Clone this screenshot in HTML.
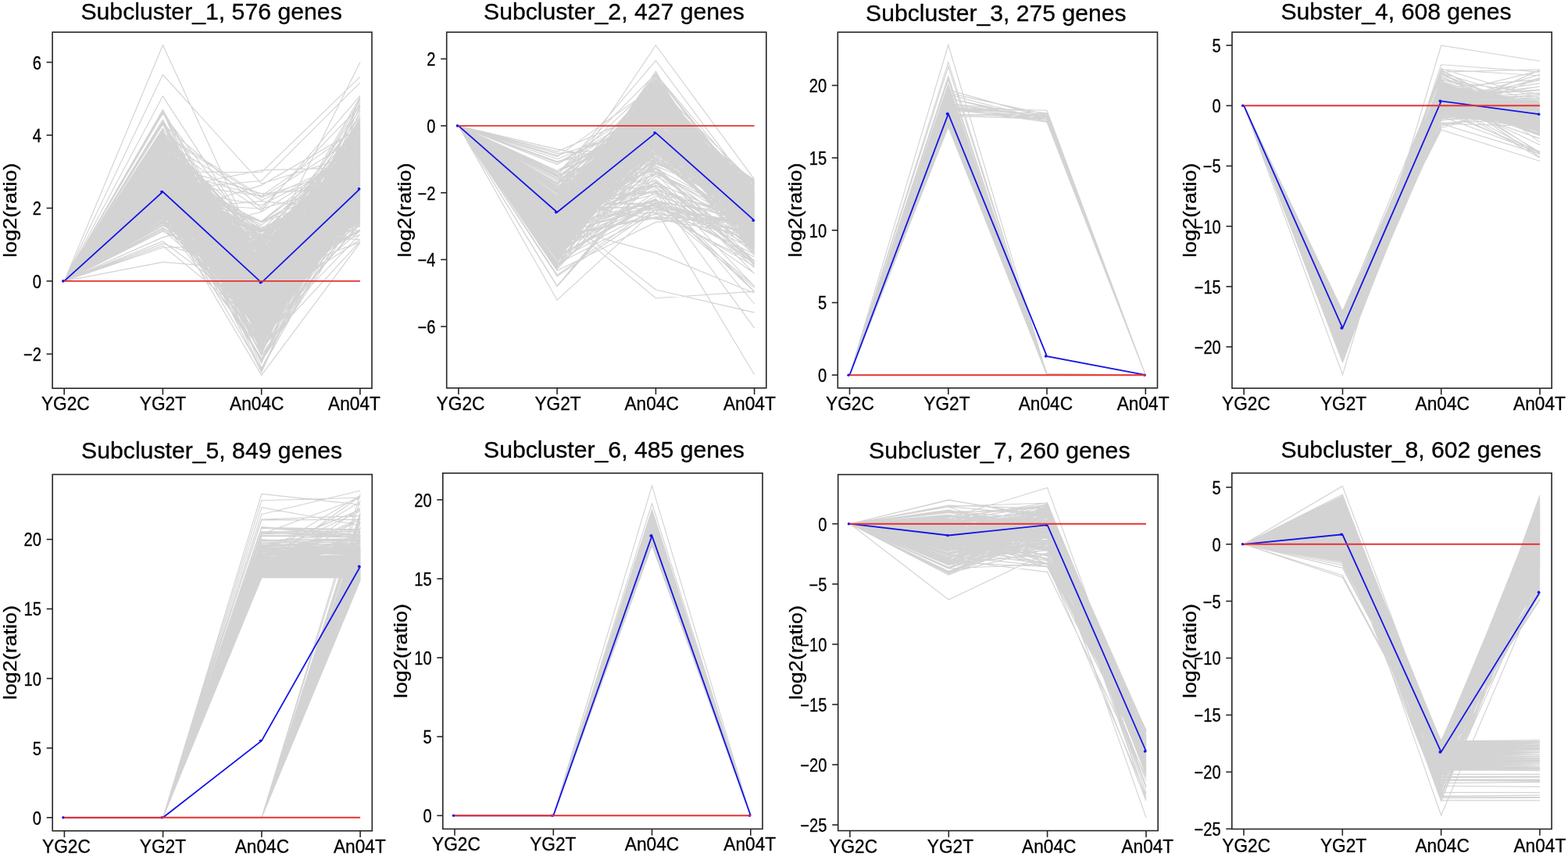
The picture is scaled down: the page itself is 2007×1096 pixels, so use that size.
<!DOCTYPE html>
<html><head><meta charset="utf-8"><title>Subclusters</title>
<style>
html,body{margin:0;padding:0;background:#fff;width:2007px;height:1096px;overflow:hidden}
svg{display:block}
text{font-family:"Liberation Sans", Arial, Helvetica, sans-serif;fill:#000;stroke:#000;stroke-width:0.3px}
.xl{font-size:22.7px}
.yt{font-size:23px}
.yl{font-size:23.4px}
.tt{font-size:29px}
</style></head><body>
<svg width="2007" height="1096" viewBox="0 0 2007 1096">
<rect width="2007" height="1096" fill="#fff"/>
<clipPath id="c0"><rect x="67.1" y="41.2" width="408.9" height="456.0"/></clipPath>
<g clip-path="url(#c0)">
<path d="M82.2 359.9 208.4 220.6 334.7 378.8 460.9 158.0M82.2 359.9 208.4 225.0 334.7 361.6 460.9 274.5M82.2 359.9 208.4 261.0 334.7 383.4 460.9 211.3M82.2 359.9 208.4 239.9 334.7 284.3 460.9 213.6M82.2 359.9 208.4 231.1 334.7 380.4 460.9 161.1M82.2 359.9 208.4 201.0 334.7 356.6 460.9 232.5M82.2 359.9 208.4 171.1 334.7 419.8 460.9 181.4M82.2 359.9 208.4 226.5 334.7 407.6 460.9 167.8M82.2 359.9 208.4 177.5 334.7 367.9 460.9 186.8M82.2 359.9 208.4 246.2 334.7 292.8 460.9 225.6M82.2 359.9 208.4 143.1 334.7 362.3 460.9 209.0M82.2 359.9 208.4 258.1 334.7 377.7 460.9 192.3M82.2 359.9 208.4 198.0 334.7 387.8 460.9 229.9M82.2 359.9 208.4 228.7 334.7 379.6 460.9 209.0M82.2 359.9 208.4 236.6 334.7 356.4 460.9 261.5M82.2 359.9 208.4 228.6 334.7 318.8 460.9 222.6M82.2 359.9 208.4 267.1 334.7 311.1 460.9 212.9M82.2 359.9 208.4 216.0 334.7 386.0 460.9 168.7M82.2 359.9 208.4 222.8 334.7 440.8 460.9 175.2M82.2 359.9 208.4 265.5 334.7 361.4 460.9 226.6M82.2 359.9 208.4 214.2 334.7 357.4 460.9 219.1M82.2 359.9 208.4 227.6 334.7 339.1 460.9 238.0M82.2 359.9 208.4 217.2 334.7 429.4 460.9 190.1M82.2 359.9 208.4 221.3 334.7 341.8 460.9 158.1M82.2 359.9 208.4 261.0 334.7 294.6 460.9 229.0M82.2 359.9 208.4 247.4 334.7 353.5 460.9 164.8M82.2 359.9 208.4 177.4 334.7 391.8 460.9 251.0M82.2 359.9 208.4 246.6 334.7 420.2 460.9 272.8M82.2 359.9 208.4 294.6 334.7 402.5 460.9 131.3M82.2 359.9 208.4 168.9 334.7 371.8 460.9 295.6M82.2 359.9 208.4 309.0 334.7 403.8 460.9 229.6M82.2 359.9 208.4 202.4 334.7 319.4 460.9 210.3M82.2 359.9 208.4 238.1 334.7 417.6 460.9 159.5M82.2 359.9 208.4 224.9 334.7 431.6 460.9 300.2M82.2 359.9 208.4 237.9 334.7 354.6 460.9 262.1M82.2 359.9 208.4 272.8 334.7 364.3 460.9 208.8M82.2 359.9 208.4 283.0 334.7 436.5 460.9 227.3M82.2 359.9 208.4 194.6 334.7 359.7 460.9 226.2M82.2 359.9 208.4 270.0 334.7 330.4 460.9 250.2M82.2 359.9 208.4 252.3 334.7 364.3 460.9 274.8M82.2 359.9 208.4 214.0 334.7 374.6 460.9 238.2M82.2 359.9 208.4 273.3 334.7 416.6 460.9 208.9M82.2 359.9 208.4 245.2 334.7 383.9 460.9 191.8M82.2 359.9 208.4 238.1 334.7 357.0 460.9 243.4M82.2 359.9 208.4 231.3 334.7 302.4 460.9 243.1M82.2 359.9 208.4 230.6 334.7 368.0 460.9 254.9M82.2 359.9 208.4 282.0 334.7 350.9 460.9 207.7M82.2 359.9 208.4 226.2 334.7 383.4 460.9 262.0M82.2 359.9 208.4 262.2 334.7 360.0 460.9 216.2M82.2 359.9 208.4 201.8 334.7 302.3 460.9 191.3M82.2 359.9 208.4 177.7 334.7 347.9 460.9 208.6M82.2 359.9 208.4 222.7 334.7 288.1 460.9 198.3M82.2 359.9 208.4 226.8 334.7 301.2 460.9 171.4M82.2 359.9 208.4 180.7 334.7 256.5 460.9 198.9M82.2 359.9 208.4 252.7 334.7 373.4 460.9 217.0M82.2 359.9 208.4 209.3 334.7 347.8 460.9 230.6M82.2 359.9 208.4 232.7 334.7 349.8 460.9 219.6M82.2 359.9 208.4 215.4 334.7 394.2 460.9 235.5M82.2 359.9 208.4 264.6 334.7 381.1 460.9 241.8M82.2 359.9 208.4 217.2 334.7 426.7 460.9 172.7M82.2 359.9 208.4 188.4 334.7 365.8 460.9 185.7M82.2 359.9 208.4 254.4 334.7 406.6 460.9 248.8M82.2 359.9 208.4 234.9 334.7 386.9 460.9 232.2M82.2 359.9 208.4 263.3 334.7 322.7 460.9 206.1M82.2 359.9 208.4 189.4 334.7 361.9 460.9 226.6M82.2 359.9 208.4 246.1 334.7 334.6 460.9 200.3M82.2 359.9 208.4 220.8 334.7 403.8 460.9 295.6M82.2 359.9 208.4 237.7 334.7 371.8 460.9 179.5M82.2 359.9 208.4 225.9 334.7 396.2 460.9 249.1M82.2 359.9 208.4 284.8 334.7 350.9 460.9 162.3M82.2 359.9 208.4 175.2 334.7 310.1 460.9 194.2M82.2 359.9 208.4 311.9 334.7 353.6 460.9 220.3M82.2 359.9 208.4 262.6 334.7 428.9 460.9 210.5M82.2 359.9 208.4 158.7 334.7 392.4 460.9 215.9M82.2 359.9 208.4 226.4 334.7 380.6 460.9 274.9M82.2 359.9 208.4 242.6 334.7 462.5 460.9 269.5M82.2 359.9 208.4 278.3 334.7 300.1 460.9 209.5M82.2 359.9 208.4 201.1 334.7 386.3 460.9 234.6M82.2 359.9 208.4 234.8 334.7 353.6 460.9 228.3M82.2 359.9 208.4 187.6 334.7 413.6 460.9 218.6M82.2 359.9 208.4 215.0 334.7 372.6 460.9 203.2M82.2 359.9 208.4 158.9 334.7 401.0 460.9 240.3M82.2 359.9 208.4 207.3 334.7 388.2 460.9 250.8M82.2 359.9 208.4 215.7 334.7 284.9 460.9 238.7M82.2 359.9 208.4 254.4 334.7 371.3 460.9 282.1M82.2 359.9 208.4 229.3 334.7 385.0 460.9 179.3M82.2 359.9 208.4 224.6 334.7 405.4 460.9 220.4M82.2 359.9 208.4 243.4 334.7 410.6 460.9 183.4M82.2 359.9 208.4 171.1 334.7 344.7 460.9 164.2M82.2 359.9 208.4 186.9 334.7 393.6 460.9 281.5M82.2 359.9 208.4 224.2 334.7 373.1 460.9 204.2M82.2 359.9 208.4 250.9 334.7 330.9 460.9 233.6M82.2 359.9 208.4 229.3 334.7 295.4 460.9 215.9M82.2 359.9 208.4 244.8 334.7 355.3 460.9 234.2M82.2 359.9 208.4 159.3 334.7 351.7 460.9 251.9M82.2 359.9 208.4 206.7 334.7 399.3 460.9 183.8M82.2 359.9 208.4 226.8 334.7 302.4 460.9 262.7M82.2 359.9 208.4 214.5 334.7 364.2 460.9 295.1M82.2 359.9 208.4 222.1 334.7 392.3 460.9 220.9M82.2 359.9 208.4 141.0 334.7 355.1 460.9 201.1M82.2 359.9 208.4 236.4 334.7 354.2 460.9 235.3M82.2 359.9 208.4 251.3 334.7 369.1 460.9 226.9M82.2 359.9 208.4 211.2 334.7 407.4 460.9 195.5M82.2 359.9 208.4 193.5 334.7 333.9 460.9 231.8M82.2 359.9 208.4 234.1 334.7 414.8 460.9 136.0M82.2 359.9 208.4 230.3 334.7 342.3 460.9 176.6M82.2 359.9 208.4 226.7 334.7 371.1 460.9 246.5M82.2 359.9 208.4 257.4 334.7 385.9 460.9 213.7M82.2 359.9 208.4 269.6 334.7 376.0 460.9 270.6M82.2 359.9 208.4 224.0 334.7 415.8 460.9 178.6M82.2 359.9 208.4 190.4 334.7 328.9 460.9 146.8M82.2 359.9 208.4 210.9 334.7 403.9 460.9 242.6M82.2 359.9 208.4 243.0 334.7 362.1 460.9 282.7M82.2 359.9 208.4 247.2 334.7 361.1 460.9 262.9M82.2 359.9 208.4 226.8 334.7 372.7 460.9 223.3M82.2 359.9 208.4 198.7 334.7 319.9 460.9 217.2M82.2 359.9 208.4 206.3 334.7 407.3 460.9 126.8M82.2 359.9 208.4 228.4 334.7 378.0 460.9 241.9M82.2 359.9 208.4 266.1 334.7 393.3 460.9 214.7M82.2 359.9 208.4 256.0 334.7 331.9 460.9 261.3M82.2 359.9 208.4 187.3 334.7 409.5 460.9 243.3M82.2 359.9 208.4 267.0 334.7 388.4 460.9 189.0M82.2 359.9 208.4 203.9 334.7 325.2 460.9 158.4M82.2 359.9 208.4 212.0 334.7 378.3 460.9 162.1M82.2 359.9 208.4 172.5 334.7 384.9 460.9 237.7M82.2 359.9 208.4 240.5 334.7 262.7 460.9 197.6M82.2 359.9 208.4 241.1 334.7 382.2 460.9 196.2M82.2 359.9 208.4 293.0 334.7 383.9 460.9 278.8M82.2 359.9 208.4 229.9 334.7 363.4 460.9 228.7M82.2 359.9 208.4 231.2 334.7 411.9 460.9 205.1M82.2 359.9 208.4 202.2 334.7 399.4 460.9 266.7M82.2 359.9 208.4 243.2 334.7 389.8 460.9 307.1M82.2 359.9 208.4 230.1 334.7 397.6 460.9 261.1M82.2 359.9 208.4 259.3 334.7 374.6 460.9 177.5M82.2 359.9 208.4 252.8 334.7 306.1 460.9 284.0M82.2 359.9 208.4 195.4 334.7 303.9 460.9 194.2M82.2 359.9 208.4 194.3 334.7 475.5 460.9 192.3M82.2 359.9 208.4 230.0 334.7 343.8 460.9 201.0M82.2 359.9 208.4 246.3 334.7 360.9 460.9 230.3M82.2 359.9 208.4 227.8 334.7 348.1 460.9 300.5M82.2 359.9 208.4 208.5 334.7 395.7 460.9 206.2M82.2 359.9 208.4 196.3 334.7 360.4 460.9 187.9M82.2 359.9 208.4 226.5 334.7 375.4 460.9 190.4M82.2 359.9 208.4 235.9 334.7 410.6 460.9 254.2M82.2 359.9 208.4 200.1 334.7 337.6 460.9 153.8M82.2 359.9 208.4 277.9 334.7 351.7 460.9 218.2M82.2 359.9 208.4 232.4 334.7 310.5 460.9 251.8M82.2 359.9 208.4 231.6 334.7 335.7 460.9 213.9M82.2 359.9 208.4 212.3 334.7 316.0 460.9 157.4M82.2 359.9 208.4 226.2 334.7 394.6 460.9 199.2M82.2 359.9 208.4 210.9 334.7 383.0 460.9 213.0M82.2 359.9 208.4 268.3 334.7 359.3 460.9 204.5M82.2 359.9 208.4 179.6 334.7 345.3 460.9 229.3M82.2 359.9 208.4 248.8 334.7 400.6 460.9 252.0M82.2 359.9 208.4 211.2 334.7 437.3 460.9 153.6M82.2 359.9 208.4 237.6 334.7 355.9 460.9 196.2M82.2 359.9 208.4 184.0 334.7 398.3 460.9 187.0M82.2 359.9 208.4 244.1 334.7 332.1 460.9 250.3M82.2 359.9 208.4 231.7 334.7 408.9 460.9 209.8M82.2 359.9 208.4 245.8 334.7 391.5 460.9 274.9M82.2 359.9 208.4 268.1 334.7 385.3 460.9 229.6M82.2 359.9 208.4 172.7 334.7 351.5 460.9 200.6M82.2 359.9 208.4 205.1 334.7 425.9 460.9 174.9M82.2 359.9 208.4 197.8 334.7 341.4 460.9 124.6M82.2 359.9 208.4 258.7 334.7 363.7 460.9 194.1M82.2 359.9 208.4 277.2 334.7 352.3 460.9 202.9M82.2 359.9 208.4 215.9 334.7 312.9 460.9 218.5M82.2 359.9 208.4 195.9 334.7 408.0 460.9 213.8M82.2 359.9 208.4 198.3 334.7 403.4 460.9 283.2M82.2 359.9 208.4 236.9 334.7 302.8 460.9 215.3M82.2 359.9 208.4 200.6 334.7 336.8 460.9 218.0M82.2 359.9 208.4 239.9 334.7 301.6 460.9 207.8M82.2 359.9 208.4 142.7 334.7 399.3 460.9 178.4M82.2 359.9 208.4 266.9 334.7 410.7 460.9 222.9M82.2 359.9 208.4 272.9 334.7 432.9 460.9 227.3M82.2 359.9 208.4 234.8 334.7 389.7 460.9 175.1M82.2 359.9 208.4 258.7 334.7 424.8 460.9 206.5M82.2 359.9 208.4 259.2 334.7 461.2 460.9 242.8M82.2 359.9 208.4 217.1 334.7 367.0 460.9 219.3M82.2 359.9 208.4 230.7 334.7 346.5 460.9 260.5M82.2 359.9 208.4 246.9 334.7 314.4 460.9 277.4M82.2 359.9 208.4 243.5 334.7 384.4 460.9 184.1M82.2 359.9 208.4 218.9 334.7 373.2 460.9 197.4M82.2 359.9 208.4 207.2 334.7 453.7 460.9 168.3M82.2 359.9 208.4 194.5 334.7 397.7 460.9 216.9M82.2 359.9 208.4 229.9 334.7 338.9 460.9 252.6M82.2 359.9 208.4 220.6 334.7 394.5 460.9 175.9M82.2 359.9 208.4 243.3 334.7 319.6 460.9 247.0M82.2 359.9 208.4 224.3 334.7 360.0 460.9 249.0M82.2 359.9 208.4 244.8 334.7 430.2 460.9 286.8M82.2 359.9 208.4 193.0 334.7 407.1 460.9 179.6M82.2 359.9 208.4 203.2 334.7 331.7 460.9 256.8M82.2 359.9 208.4 177.3 334.7 397.8 460.9 190.3M82.2 359.9 208.4 225.3 334.7 315.5 460.9 182.5M82.2 359.9 208.4 232.7 334.7 461.3 460.9 264.1M82.2 359.9 208.4 224.7 334.7 408.1 460.9 276.0M82.2 359.9 208.4 216.3 334.7 337.1 460.9 225.9M82.2 359.9 208.4 193.9 334.7 359.7 460.9 199.1M82.2 359.9 208.4 222.8 334.7 410.9 460.9 267.8M82.2 359.9 208.4 206.6 334.7 345.1 460.9 285.5M82.2 359.9 208.4 201.1 334.7 377.5 460.9 204.9M82.2 359.9 208.4 216.9 334.7 414.0 460.9 226.6M82.2 359.9 208.4 271.2 334.7 326.2 460.9 184.9M82.2 359.9 208.4 232.4 334.7 295.6 460.9 306.9M82.2 359.9 208.4 221.6 334.7 417.8 460.9 234.8M82.2 359.9 208.4 263.8 334.7 336.0 460.9 215.5M82.2 359.9 208.4 231.4 334.7 430.5 460.9 241.9M82.2 359.9 208.4 219.9 334.7 351.3 460.9 168.9M82.2 359.9 208.4 235.1 334.7 405.2 460.9 275.7M82.2 359.9 208.4 203.7 334.7 376.6 460.9 216.0M82.2 359.9 208.4 224.7 334.7 378.4 460.9 216.6M82.2 359.9 208.4 285.2 334.7 422.4 460.9 212.7M82.2 359.9 208.4 210.7 334.7 319.5 460.9 212.8M82.2 359.9 208.4 190.9 334.7 297.4 460.9 231.4M82.2 359.9 208.4 227.2 334.7 371.8 460.9 155.5M82.2 359.9 208.4 229.8 334.7 352.1 460.9 179.3M82.2 359.9 208.4 190.7 334.7 358.4 460.9 176.8M82.2 359.9 208.4 183.6 334.7 343.3 460.9 151.8M82.2 359.9 208.4 218.9 334.7 386.2 460.9 212.7M82.2 359.9 208.4 186.5 334.7 436.1 460.9 284.3M82.2 359.9 208.4 237.4 334.7 432.2 460.9 259.1M82.2 359.9 208.4 235.9 334.7 321.1 460.9 218.1M82.2 359.9 208.4 251.9 334.7 396.8 460.9 208.4M82.2 359.9 208.4 255.5 334.7 406.7 460.9 213.7M82.2 359.9 208.4 287.7 334.7 371.4 460.9 249.7M82.2 359.9 208.4 228.0 334.7 341.8 460.9 195.6M82.2 359.9 208.4 244.2 334.7 354.3 460.9 192.8M82.2 359.9 208.4 229.4 334.7 395.8 460.9 247.8M82.2 359.9 208.4 231.8 334.7 426.9 460.9 206.6M82.2 359.9 208.4 212.7 334.7 294.1 460.9 239.6M82.2 359.9 208.4 226.6 334.7 406.6 460.9 203.0M82.2 359.9 208.4 192.2 334.7 399.3 460.9 242.4M82.2 359.9 208.4 261.4 334.7 459.2 460.9 220.9M82.2 359.9 208.4 193.4 334.7 318.4 460.9 257.2M82.2 359.9 208.4 212.6 334.7 383.6 460.9 172.8M82.2 359.9 208.4 226.1 334.7 461.8 460.9 235.8M82.2 359.9 208.4 269.0 334.7 418.8 460.9 174.0M82.2 359.9 208.4 175.9 334.7 335.9 460.9 246.5M82.2 359.9 208.4 288.1 334.7 367.8 460.9 240.2M82.2 359.9 208.4 282.0 334.7 387.3 460.9 228.5M82.2 359.9 208.4 242.1 334.7 284.0 460.9 190.0M82.2 359.9 208.4 248.1 334.7 338.0 460.9 214.3M82.2 359.9 208.4 213.3 334.7 319.9 460.9 238.5M82.2 359.9 208.4 257.7 334.7 378.5 460.9 219.8M82.2 359.9 208.4 231.0 334.7 417.6 460.9 151.1M82.2 359.9 208.4 198.4 334.7 326.0 460.9 182.7M82.2 359.9 208.4 235.0 334.7 324.7 460.9 245.9M82.2 359.9 208.4 260.0 334.7 321.2 460.9 249.1M82.2 359.9 208.4 296.2 334.7 357.5 460.9 189.9M82.2 359.9 208.4 186.6 334.7 379.5 460.9 205.9M82.2 359.9 208.4 253.4 334.7 346.8 460.9 201.3M82.2 359.9 208.4 262.1 334.7 335.6 460.9 221.9M82.2 359.9 208.4 275.0 334.7 370.7 460.9 274.6M82.2 359.9 208.4 252.7 334.7 419.6 460.9 267.0M82.2 359.9 208.4 212.0 334.7 415.9 460.9 196.0M82.2 359.9 208.4 210.2 334.7 390.9 460.9 229.7M82.2 359.9 208.4 197.4 334.7 327.9 460.9 181.9M82.2 359.9 208.4 204.0 334.7 306.6 460.9 215.7M82.2 359.9 208.4 193.5 334.7 365.4 460.9 246.1M82.2 359.9 208.4 272.2 334.7 407.5 460.9 210.2M82.2 359.9 208.4 218.7 334.7 399.0 460.9 230.2M82.2 359.9 208.4 233.9 334.7 365.2 460.9 275.9M82.2 359.9 208.4 231.6 334.7 400.7 460.9 191.0M82.2 359.9 208.4 263.3 334.7 397.4 460.9 176.1M82.2 359.9 208.4 229.4 334.7 357.5 460.9 219.0M82.2 359.9 208.4 237.5 334.7 294.5 460.9 174.3M82.2 359.9 208.4 186.2 334.7 332.2 460.9 226.8M82.2 359.9 208.4 166.5 334.7 442.4 460.9 162.2M82.2 359.9 208.4 192.4 334.7 343.1 460.9 204.5M82.2 359.9 208.4 260.7 334.7 321.5 460.9 261.1M82.2 359.9 208.4 222.6 334.7 337.7 460.9 274.8M82.2 359.9 208.4 191.2 334.7 305.5 460.9 194.0M82.2 359.9 208.4 251.9 334.7 379.8 460.9 235.0M82.2 359.9 208.4 225.5 334.7 342.3 460.9 153.9M82.2 359.9 208.4 271.5 334.7 376.7 460.9 249.8M82.2 359.9 208.4 221.6 334.7 324.6 460.9 217.3M82.2 359.9 208.4 173.3 334.7 309.1 460.9 192.1M82.2 359.9 208.4 226.2 334.7 392.0 460.9 237.7M82.2 359.9 208.4 230.6 334.7 406.8 460.9 180.2M82.2 359.9 208.4 225.6 334.7 412.6 460.9 256.2M82.2 359.9 208.4 286.1 334.7 370.1 460.9 201.5M82.2 359.9 208.4 208.3 334.7 327.0 460.9 173.8M82.2 359.9 208.4 275.3 334.7 331.5 460.9 182.3M82.2 359.9 208.4 227.4 334.7 435.1 460.9 153.4M82.2 359.9 208.4 248.4 334.7 345.7 460.9 128.1M82.2 359.9 208.4 249.7 334.7 382.7 460.9 224.5M82.2 359.9 208.4 190.0 334.7 370.9 460.9 280.5M82.2 359.9 208.4 248.7 334.7 405.2 460.9 229.9M82.2 359.9 208.4 222.2 334.7 354.9 460.9 243.0M82.2 359.9 208.4 314.7 334.7 418.1 460.9 266.7M82.2 359.9 208.4 243.8 334.7 384.7 460.9 243.3M82.2 359.9 208.4 224.5 334.7 367.3 460.9 196.4M82.2 359.9 208.4 255.7 334.7 320.6 460.9 258.3M82.2 359.9 208.4 188.0 334.7 375.4 460.9 213.2M82.2 359.9 208.4 283.6 334.7 307.7 460.9 202.5M82.2 359.9 208.4 157.6 334.7 379.6 460.9 167.3M82.2 359.9 208.4 262.5 334.7 398.3 460.9 204.8M82.2 359.9 208.4 244.9 334.7 319.8 460.9 198.1M82.2 359.9 208.4 273.8 334.7 442.7 460.9 220.0M82.2 359.9 208.4 240.7 334.7 331.0 460.9 236.3M82.2 359.9 208.4 233.2 334.7 362.2 460.9 251.7M82.2 359.9 208.4 206.4 334.7 334.3 460.9 181.0M82.2 359.9 208.4 233.1 334.7 332.1 460.9 251.0M82.2 359.9 208.4 211.0 334.7 397.1 460.9 213.5M82.2 359.9 208.4 201.7 334.7 421.9 460.9 259.0M82.2 359.9 208.4 246.7 334.7 381.0 460.9 287.0M82.2 359.9 208.4 184.4 334.7 293.3 460.9 295.2M82.2 359.9 208.4 282.8 334.7 384.6 460.9 198.1M82.2 359.9 208.4 199.7 334.7 449.8 460.9 259.3M82.2 359.9 208.4 268.1 334.7 257.7 460.9 269.7M82.2 359.9 208.4 183.3 334.7 434.4 460.9 241.8M82.2 359.9 208.4 239.3 334.7 308.1 460.9 248.4M82.2 359.9 208.4 273.2 334.7 326.0 460.9 230.9M82.2 359.9 208.4 258.5 334.7 377.6 460.9 217.1M82.2 359.9 208.4 232.8 334.7 306.2 460.9 200.4M82.2 359.9 208.4 219.0 334.7 416.2 460.9 125.6M82.2 359.9 208.4 159.1 334.7 346.7 460.9 166.7M82.2 359.9 208.4 243.7 334.7 401.3 460.9 243.3M82.2 359.9 208.4 169.5 334.7 325.2 460.9 191.5M82.2 359.9 208.4 288.8 334.7 356.7 460.9 245.8M82.2 359.9 208.4 226.3 334.7 408.9 460.9 206.4M82.2 359.9 208.4 212.8 334.7 425.5 460.9 163.6M82.2 359.9 208.4 269.6 334.7 441.6 460.9 229.8M82.2 359.9 208.4 258.7 334.7 395.9 460.9 236.3M82.2 359.9 208.4 275.4 334.7 314.7 460.9 199.2M82.2 359.9 208.4 200.6 334.7 400.0 460.9 259.0M82.2 359.9 208.4 260.4 334.7 344.8 460.9 185.0M82.2 359.9 208.4 180.4 334.7 333.4 460.9 256.5M82.2 359.9 208.4 277.5 334.7 348.4 460.9 204.7M82.2 359.9 208.4 278.1 334.7 375.2 460.9 194.0M82.2 359.9 208.4 217.7 334.7 448.2 460.9 245.1M82.2 359.9 208.4 229.5 334.7 417.6 460.9 216.1M82.2 359.9 208.4 224.4 334.7 386.1 460.9 193.6M82.2 359.9 208.4 235.1 334.7 407.6 460.9 255.3M82.2 359.9 208.4 249.9 334.7 348.9 460.9 153.6M82.2 359.9 208.4 140.5 334.7 378.5 460.9 215.4M82.2 359.9 208.4 253.6 334.7 317.4 460.9 256.9M82.2 359.9 208.4 190.6 334.7 447.1 460.9 255.1M82.2 359.9 208.4 204.3 334.7 355.4 460.9 256.0M82.2 359.9 208.4 193.5 334.7 337.6 460.9 134.3M82.2 359.9 208.4 257.1 334.7 445.7 460.9 309.1M82.2 359.9 208.4 264.8 334.7 384.0 460.9 257.3M82.2 359.9 208.4 170.9 334.7 251.2 460.9 212.2M82.2 359.9 208.4 225.7 334.7 362.3 460.9 182.8M82.2 359.9 208.4 203.3 334.7 399.8 460.9 236.3M82.2 359.9 208.4 221.9 334.7 373.8 460.9 191.6M82.2 359.9 208.4 182.9 334.7 338.0 460.9 247.2M82.2 359.9 208.4 212.1 334.7 349.8 460.9 172.6M82.2 359.9 208.4 174.1 334.7 336.3 460.9 170.3M82.2 359.9 208.4 201.6 334.7 444.2 460.9 172.2M82.2 359.9 208.4 263.5 334.7 389.7 460.9 235.7M82.2 359.9 208.4 193.9 334.7 344.6 460.9 266.1M82.2 359.9 208.4 243.9 334.7 360.0 460.9 185.8M82.2 359.9 208.4 220.4 334.7 337.3 460.9 234.1M82.2 359.9 208.4 250.5 334.7 459.1 460.9 241.6M82.2 359.9 208.4 225.6 334.7 376.1 460.9 188.7M82.2 359.9 208.4 221.3 334.7 359.7 460.9 250.2M82.2 359.9 208.4 242.3 334.7 297.9 460.9 182.0M82.2 359.9 208.4 205.1 334.7 385.3 460.9 185.1M82.2 359.9 208.4 252.8 334.7 413.1 460.9 236.8M82.2 359.9 208.4 258.5 334.7 429.7 460.9 172.9M82.2 359.9 208.4 230.9 334.7 371.7 460.9 220.6M82.2 359.9 208.4 284.4 334.7 448.8 460.9 206.6M82.2 359.9 208.4 235.7 334.7 440.8 460.9 250.9M82.2 359.9 208.4 233.9 334.7 362.5 460.9 222.3M82.2 359.9 208.4 238.5 334.7 364.9 460.9 265.4M82.2 359.9 208.4 259.5 334.7 407.6 460.9 180.9M82.2 359.9 208.4 240.0 334.7 341.9 460.9 219.6M82.2 359.9 208.4 258.7 334.7 337.9 460.9 228.8M82.2 359.9 208.4 216.9 334.7 251.5 460.9 225.3M82.2 359.9 208.4 236.3 334.7 362.9 460.9 198.8M82.2 359.9 208.4 217.6 334.7 353.9 460.9 210.3M82.2 359.9 208.4 223.2 334.7 319.1 460.9 265.7M82.2 359.9 208.4 234.5 334.7 339.6 460.9 236.9M82.2 359.9 208.4 229.1 334.7 361.6 460.9 294.0M82.2 359.9 208.4 202.2 334.7 397.9 460.9 216.8M82.2 359.9 208.4 250.8 334.7 365.9 460.9 248.3M82.2 359.9 208.4 217.8 334.7 366.8 460.9 187.5M82.2 359.9 208.4 225.2 334.7 346.9 460.9 233.4M82.2 359.9 208.4 240.7 334.7 433.1 460.9 189.5M82.2 359.9 208.4 215.4 334.7 409.9 460.9 163.0M82.2 359.9 208.4 240.4 334.7 366.7 460.9 247.8M82.2 359.9 208.4 226.5 334.7 383.5 460.9 233.3M82.2 359.9 208.4 317.0 334.7 313.1 460.9 235.4M82.2 359.9 208.4 235.1 334.7 382.4 460.9 277.6M82.2 359.9 208.4 226.6 334.7 374.0 460.9 222.1M82.2 359.9 208.4 154.4 334.7 404.9 460.9 251.7M82.2 359.9 208.4 205.0 334.7 368.5 460.9 205.9M82.2 359.9 208.4 271.9 334.7 421.1 460.9 261.6M82.2 359.9 208.4 245.5 334.7 333.8 460.9 185.0M82.2 359.9 208.4 235.0 334.7 297.1 460.9 214.9M82.2 359.9 208.4 254.9 334.7 358.3 460.9 235.4M82.2 359.9 208.4 237.9 334.7 364.0 460.9 224.8M82.2 359.9 208.4 190.9 334.7 359.9 460.9 221.8M82.2 359.9 208.4 269.2 334.7 403.2 460.9 170.1M82.2 359.9 208.4 142.7 334.7 429.0 460.9 200.8M82.2 359.9 208.4 265.5 334.7 354.3 460.9 243.9M82.2 359.9 208.4 268.9 334.7 330.3 460.9 226.8M82.2 359.9 208.4 241.2 334.7 389.9 460.9 264.7M82.2 359.9 208.4 230.7 334.7 421.1 460.9 241.4M82.2 359.9 208.4 206.8 334.7 411.4 460.9 187.5M82.2 359.9 208.4 256.2 334.7 405.9 460.9 277.0M82.2 359.9 208.4 222.5 334.7 426.9 460.9 261.8M82.2 359.9 208.4 233.6 334.7 395.0 460.9 271.1M82.2 359.9 208.4 220.5 334.7 318.3 460.9 161.6M82.2 359.9 208.4 235.5 334.7 430.7 460.9 241.2M82.2 359.9 208.4 197.1 334.7 391.5 460.9 203.1M82.2 359.9 208.4 239.5 334.7 349.0 460.9 139.1M82.2 359.9 208.4 254.6 334.7 383.4 460.9 210.5M82.2 359.9 208.4 278.7 334.7 423.4 460.9 237.9M82.2 359.9 208.4 261.1 334.7 404.2 460.9 177.5M82.2 359.9 208.4 185.7 334.7 300.6 460.9 201.3M82.2 359.9 208.4 240.5 334.7 307.4 460.9 150.4M82.2 359.9 208.4 267.4 334.7 420.7 460.9 216.2M82.2 359.9 208.4 266.5 334.7 321.5 460.9 168.7M82.2 359.9 208.4 234.7 334.7 401.2 460.9 193.9M82.2 359.9 208.4 226.8 334.7 370.1 460.9 263.5M82.2 359.9 208.4 156.1 334.7 383.3 460.9 191.5M82.2 359.9 208.4 218.3 334.7 351.8 460.9 270.7M82.2 359.9 208.4 218.7 334.7 390.1 460.9 225.0M82.2 359.9 208.4 180.4 334.7 400.9 460.9 249.6M82.2 359.9 208.4 172.0 334.7 345.0 460.9 231.4M82.2 359.9 208.4 225.3 334.7 303.9 460.9 211.8M82.2 359.9 208.4 261.0 334.7 413.7 460.9 199.2M82.2 359.9 208.4 199.9 334.7 342.0 460.9 240.4M82.2 359.9 208.4 219.2 334.7 399.3 460.9 277.6M82.2 359.9 208.4 224.9 334.7 452.6 460.9 215.8M82.2 359.9 208.4 238.3 334.7 360.0 460.9 248.0M82.2 359.9 208.4 153.5 334.7 377.2 460.9 230.8M82.2 359.9 208.4 194.8 334.7 332.7 460.9 263.6M82.2 359.9 208.4 246.4 334.7 343.7 460.9 289.5M82.2 359.9 208.4 262.3 334.7 398.9 460.9 225.1M82.2 359.9 208.4 171.5 334.7 410.2 460.9 218.7M82.2 359.9 208.4 222.7 334.7 396.3 460.9 163.5M82.2 359.9 208.4 187.3 334.7 384.4 460.9 250.8M82.2 359.9 208.4 222.1 334.7 343.1 460.9 156.8M82.2 359.9 208.4 291.2 334.7 378.2 460.9 195.0M82.2 359.9 208.4 289.0 334.7 339.1 460.9 230.1M82.2 359.9 208.4 177.8 334.7 351.5 460.9 194.8M82.2 359.9 208.4 197.2 334.7 358.4 460.9 237.3M82.2 359.9 208.4 260.9 334.7 378.1 460.9 242.4M82.2 359.9 208.4 209.4 334.7 373.9 460.9 252.4M82.2 359.9 208.4 262.2 334.7 409.3 460.9 266.3M82.2 359.9 208.4 217.3 334.7 365.7 460.9 263.2M82.2 359.9 208.4 232.2 334.7 284.1 460.9 224.2M82.2 359.9 208.4 196.3 334.7 336.8 460.9 273.6M82.2 359.9 208.4 256.2 334.7 296.1 460.9 217.4M82.2 359.9 208.4 261.4 334.7 349.6 460.9 234.7M82.2 359.9 208.4 208.2 334.7 361.7 460.9 234.3M82.2 359.9 208.4 259.9 334.7 407.4 460.9 180.7M82.2 359.9 208.4 254.5 334.7 357.3 460.9 250.7M82.2 359.9 208.4 225.6 334.7 416.9 460.9 282.1M82.2 359.9 208.4 204.3 334.7 378.7 460.9 185.9M82.2 359.9 208.4 216.2 334.7 290.7 460.9 273.1M82.2 359.9 208.4 229.7 334.7 399.3 460.9 273.6M82.2 359.9 208.4 231.4 334.7 324.7 460.9 275.9M82.2 359.9 208.4 233.3 334.7 250.9 460.9 162.1M82.2 359.9 208.4 278.0 334.7 438.0 460.9 188.5M82.2 359.9 208.4 176.9 334.7 348.0 460.9 227.3M82.2 359.9 208.4 184.9 334.7 345.2 460.9 257.1M82.2 359.9 208.4 264.0 334.7 365.0 460.9 215.9M82.2 359.9 208.4 264.8 334.7 375.3 460.9 226.1M82.2 359.9 208.4 186.0 334.7 370.6 460.9 218.4M82.2 359.9 208.4 195.7 334.7 353.0 460.9 230.4M82.2 359.9 208.4 257.5 334.7 385.0 460.9 198.3M82.2 359.9 208.4 220.6 334.7 431.7 460.9 218.0M82.2 359.9 208.4 269.7 334.7 313.4 460.9 259.9M82.2 359.9 208.4 270.8 334.7 374.7 460.9 246.9M82.2 359.9 208.4 254.1 334.7 371.1 460.9 240.2M82.2 359.9 208.4 190.6 334.7 433.6 460.9 250.3M82.2 359.9 208.4 225.8 334.7 370.4 460.9 261.3M82.2 359.9 208.4 222.0 334.7 310.8 460.9 288.6M82.2 359.9 208.4 248.2 334.7 428.6 460.9 233.2M82.2 359.9 208.4 242.0 334.7 421.2 460.9 213.7M82.2 359.9 208.4 207.2 334.7 363.0 460.9 295.5M82.2 359.9 208.4 168.3 334.7 471.4 460.9 231.6M82.2 359.9 208.4 216.9 334.7 397.8 460.9 240.1M82.2 359.9 208.4 264.1 334.7 445.3 460.9 223.5M82.2 359.9 208.4 285.6 334.7 307.6 460.9 248.3M82.2 359.9 208.4 233.5 334.7 387.8 460.9 257.6M82.2 359.9 208.4 226.3 334.7 407.0 460.9 257.6M82.2 359.9 208.4 175.7 334.7 389.6 460.9 204.5M82.2 359.9 208.4 211.8 334.7 393.5 460.9 222.6M82.2 359.9 208.4 205.5 334.7 420.4 460.9 204.2M82.2 359.9 208.4 252.3 334.7 329.0 460.9 229.3M82.2 359.9 208.4 283.6 334.7 327.6 460.9 267.8M82.2 359.9 208.4 238.2 334.7 359.9 460.9 210.1M82.2 359.9 208.4 206.8 334.7 357.8 460.9 178.1M82.2 359.9 208.4 251.8 334.7 375.4 460.9 252.6M82.2 359.9 208.4 196.6 334.7 438.2 460.9 243.1M82.2 359.9 208.4 263.9 334.7 342.9 460.9 191.7M82.2 359.9 208.4 258.6 334.7 267.2 460.9 231.7M82.2 359.9 208.4 242.2 334.7 328.9 460.9 208.1M82.2 359.9 208.4 195.1 334.7 389.8 460.9 246.5M82.2 359.9 208.4 205.1 334.7 332.1 460.9 227.7M82.2 359.9 208.4 247.1 334.7 381.7 460.9 198.6M82.2 359.9 208.4 237.6 334.7 314.7 460.9 278.2M82.2 359.9 208.4 212.7 334.7 381.3 460.9 267.7M82.2 359.9 208.4 247.5 334.7 419.8 460.9 178.5M82.2 359.9 208.4 216.9 334.7 339.5 460.9 180.4M82.2 359.9 208.4 240.4 334.7 376.2 460.9 254.4M82.2 359.9 208.4 240.7 334.7 366.7 460.9 222.6M82.2 359.9 208.4 217.0 334.7 421.4 460.9 264.8M82.2 359.9 208.4 222.9 334.7 283.5 460.9 181.4M82.2 359.9 208.4 266.6 334.7 317.5 460.9 229.1M82.2 359.9 208.4 215.4 334.7 386.0 460.9 185.4M82.2 359.9 208.4 217.4 334.7 337.9 460.9 196.7M82.2 359.9 208.4 227.4 334.7 352.8 460.9 239.6M82.2 359.9 208.4 263.2 334.7 376.5 460.9 275.7M82.2 359.9 208.4 153.9 334.7 441.6 460.9 202.3M82.2 359.9 208.4 259.1 334.7 472.8 460.9 247.7M82.2 359.9 208.4 221.8 334.7 387.2 460.9 219.6M82.2 359.9 208.4 223.7 334.7 424.6 460.9 166.8M82.2 359.9 208.4 208.3 334.7 337.3 460.9 162.0M82.2 359.9 208.4 221.3 334.7 455.1 460.9 267.4M82.2 359.9 208.4 271.6 334.7 341.2 460.9 173.7M82.2 359.9 208.4 250.9 334.7 327.1 460.9 266.3M82.2 359.9 208.4 223.1 334.7 367.2 460.9 247.1M82.2 359.9 208.4 248.0 334.7 316.3 460.9 192.5M82.2 359.9 208.4 225.8 334.7 432.2 460.9 261.5M82.2 359.9 208.4 211.1 334.7 332.9 460.9 241.2M82.2 359.9 208.4 185.5 334.7 308.5 460.9 286.3M82.2 359.9 208.4 219.5 334.7 357.8 460.9 208.0M82.2 359.9 208.4 270.9 334.7 402.1 460.9 187.7M82.2 359.9 208.4 277.5 334.7 374.4 460.9 226.4M82.2 359.9 208.4 245.2 334.7 371.8 460.9 246.3M82.2 359.9 208.4 164.2 334.7 356.0 460.9 173.3M82.2 359.9 208.4 228.1 334.7 399.1 460.9 235.6M82.2 359.9 208.4 195.7 334.7 465.0 460.9 165.3M82.2 359.9 208.4 206.0 334.7 369.2 460.9 213.1M82.2 359.9 208.4 215.7 334.7 378.2 460.9 219.6M82.2 359.9 208.4 234.1 334.7 424.2 460.9 142.1M82.2 359.9 208.4 280.3 334.7 398.6 460.9 215.1M82.2 359.9 208.4 283.5 334.7 402.0 460.9 250.0M82.2 359.9 208.4 251.8 334.7 330.9 460.9 244.5M82.2 359.9 208.4 204.0 334.7 397.7 460.9 204.6M82.2 359.9 208.4 223.0 334.7 376.8 460.9 224.5M82.2 359.9 208.4 227.4 334.7 373.5 460.9 173.3M82.2 359.9 208.4 223.1 334.7 476.6 460.9 200.2M82.2 359.9 208.4 279.0 334.7 325.5 460.9 196.9M82.2 359.9 208.4 250.5 334.7 324.8 460.9 231.7M82.2 359.9 208.4 171.1 334.7 316.1 460.9 201.4M82.2 359.9 208.4 194.4 334.7 351.8 460.9 203.6M82.2 359.9 208.4 214.3 334.7 378.9 460.9 203.2M82.2 359.9 208.4 220.3 334.7 312.0 460.9 242.0M82.2 359.9 208.4 231.7 334.7 350.2 460.9 232.8M82.2 359.9 208.4 174.0 334.7 379.7 460.9 250.9M82.2 359.9 208.4 241.7 334.7 324.9 460.9 250.2M82.2 359.9 208.4 179.3 334.7 373.2 460.9 223.7M82.2 359.9 208.4 200.3 334.7 427.2 460.9 208.4M82.2 359.9 208.4 214.1 334.7 353.3 460.9 181.8M82.2 359.9 208.4 257.1 334.7 297.5 460.9 228.4M82.2 359.9 208.4 203.5 334.7 357.2 460.9 310.0M82.2 359.9 208.4 220.0 334.7 370.6 460.9 230.9M82.2 359.9 208.4 251.5 334.7 408.2 460.9 171.6M82.2 359.9 208.4 227.9 334.7 326.4 460.9 209.9M82.2 359.9 208.4 171.4 334.7 405.0 460.9 216.7M82.2 359.9 208.4 240.6 334.7 409.1 460.9 233.2M82.2 359.9 208.4 222.4 334.7 369.4 460.9 200.0M82.2 359.9 208.4 224.7 334.7 302.9 460.9 294.8M82.2 359.9 208.4 57.8 334.7 330.9 460.9 219.8M82.2 359.9 208.4 95.6 334.7 235.2 460.9 196.4M82.2 359.9 208.4 123.1 334.7 318.3 460.9 243.1M82.2 359.9 208.4 145.1 334.7 313.2 460.9 266.5M82.2 359.9 208.4 196.4 334.7 333.3 460.9 79.7M82.2 359.9 208.4 219.8 334.7 220.7 460.9 98.4M82.2 359.9 208.4 243.1 334.7 231.5 460.9 105.9M82.2 359.9 208.4 182.4 334.7 270.2 460.9 122.7M82.2 359.9 208.4 335.6 334.7 345.9 460.9 266.5M82.2 359.9 208.4 266.5 334.7 480.4 460.9 310.9M82.2 359.9 208.4 243.1 334.7 217.9 460.9 214.2M82.2 359.9 208.4 173.1 334.7 253.4 460.9 173.1M82.2 359.9 208.4 275.8 334.7 237.1 460.9 163.8M82.2 359.9 208.4 159.1 334.7 266.5 460.9 135.7M82.2 359.9 208.4 303.9 334.7 271.2 460.9 191.8M82.2 359.9 208.4 210.5 334.7 247.8 460.9 238.5" fill="none" stroke="#d3d3d3" stroke-width="1.15" stroke-linejoin="miter" stroke-miterlimit="20"/>
<polyline points="82.2,359.9 208.4,245.5 334.7,361.8 460.9,241.7" fill="none" stroke="#1414e6" stroke-width="1.8"/>
<circle cx="80.8" cy="359.9" r="1.8" fill="#1414e6"/>
<circle cx="207.0" cy="245.5" r="1.8" fill="#1414e6"/>
<circle cx="333.3" cy="361.8" r="1.8" fill="#1414e6"/>
<circle cx="459.5" cy="241.7" r="1.8" fill="#1414e6"/>
<line x1="82.2" y1="359.9" x2="460.9" y2="359.9" stroke="#e63232" stroke-width="1.9"/>
</g>
<rect x="67.1" y="41.2" width="408.9" height="456.0" fill="none" stroke="#262626" stroke-width="1.6"/>
<line x1="82.2" y1="497.2" x2="82.2" y2="505.5" stroke="#262626" stroke-width="1.6"/>
<text transform="translate(83.8 525.2) scale(1 1.04)" text-anchor="middle" class="xl">YG2C</text>
<line x1="208.4" y1="497.2" x2="208.4" y2="505.5" stroke="#262626" stroke-width="1.6"/>
<text transform="translate(208.4 525.2) scale(1 1.04)" text-anchor="middle" class="xl">YG2T</text>
<line x1="334.7" y1="497.2" x2="334.7" y2="505.5" stroke="#262626" stroke-width="1.6"/>
<text transform="translate(328.7 525.2) scale(1 1.04)" text-anchor="middle" class="xl">An04C</text>
<line x1="460.9" y1="497.2" x2="460.9" y2="505.5" stroke="#262626" stroke-width="1.6"/>
<text transform="translate(453.5 525.2) scale(1 1.04)" text-anchor="middle" class="xl">An04T</text>
<line x1="59.6" y1="453.3" x2="67.1" y2="453.3" stroke="#262626" stroke-width="1.6"/>
<text transform="translate(52.9 462.1) scale(0.875 1.0)" text-anchor="end" class="yt">−2</text>
<line x1="59.6" y1="359.9" x2="67.1" y2="359.9" stroke="#262626" stroke-width="1.6"/>
<text transform="translate(52.9 368.7) scale(0.875 1.0)" text-anchor="end" class="yt">0</text>
<line x1="59.6" y1="266.5" x2="67.1" y2="266.5" stroke="#262626" stroke-width="1.6"/>
<text transform="translate(52.9 275.3) scale(0.875 1.0)" text-anchor="end" class="yt">2</text>
<line x1="59.6" y1="173.1" x2="67.1" y2="173.1" stroke="#262626" stroke-width="1.6"/>
<text transform="translate(52.9 181.9) scale(0.875 1.0)" text-anchor="end" class="yt">4</text>
<line x1="59.6" y1="79.7" x2="67.1" y2="79.7" stroke="#262626" stroke-width="1.6"/>
<text transform="translate(52.9 88.5) scale(0.875 1.0)" text-anchor="end" class="yt">6</text>
<text transform="translate(20.9 269.2) rotate(-90)" text-anchor="middle" class="yl" textLength="120.9" lengthAdjust="spacingAndGlyphs">log2(ratio)</text>
<text transform="translate(103.4 25.0) scale(1 1)" class="tt" textLength="334.4" lengthAdjust="spacingAndGlyphs">Subcluster_1, 576 genes</text>
<clipPath id="c1"><rect x="571.7" y="41.2" width="409.1" height="455.6"/></clipPath>
<g clip-path="url(#c1)">
<path d="M586.9 161.1 713.1 281.8 839.4 175.1 965.6 285.3M586.9 161.1 713.1 199.1 839.4 158.8 965.6 266.3M586.9 161.1 713.1 268.8 839.4 180.6 965.6 238.4M586.9 161.1 713.1 297.8 839.4 118.1 965.6 273.0M586.9 161.1 713.1 283.6 839.4 157.4 965.6 275.3M586.9 161.1 713.1 303.8 839.4 161.4 965.6 287.7M586.9 161.1 713.1 323.6 839.4 186.8 965.6 242.8M586.9 161.1 713.1 305.7 839.4 151.0 965.6 275.1M586.9 161.1 713.1 332.0 839.4 109.0 965.6 311.3M586.9 161.1 713.1 246.7 839.4 155.5 965.6 294.5M586.9 161.1 713.1 296.9 839.4 130.7 965.6 256.3M586.9 161.1 713.1 239.1 839.4 147.2 965.6 292.5M586.9 161.1 713.1 299.1 839.4 162.4 965.6 247.6M586.9 161.1 713.1 327.1 839.4 148.1 965.6 262.4M586.9 161.1 713.1 268.9 839.4 167.6 965.6 264.3M586.9 161.1 713.1 328.9 839.4 166.1 965.6 254.3M586.9 161.1 713.1 319.2 839.4 138.2 965.6 258.6M586.9 161.1 713.1 259.1 839.4 137.2 965.6 296.3M586.9 161.1 713.1 289.1 839.4 125.6 965.6 281.5M586.9 161.1 713.1 288.5 839.4 145.9 965.6 306.1M586.9 161.1 713.1 270.1 839.4 196.4 965.6 285.7M586.9 161.1 713.1 282.5 839.4 133.3 965.6 242.8M586.9 161.1 713.1 305.4 839.4 160.3 965.6 276.9M586.9 161.1 713.1 297.4 839.4 159.6 965.6 295.1M586.9 161.1 713.1 288.1 839.4 198.0 965.6 309.3M586.9 161.1 713.1 308.5 839.4 168.8 965.6 257.5M586.9 161.1 713.1 295.0 839.4 173.7 965.6 244.1M586.9 161.1 713.1 294.6 839.4 151.6 965.6 233.5M586.9 161.1 713.1 309.3 839.4 197.1 965.6 271.0M586.9 161.1 713.1 282.2 839.4 148.8 965.6 243.4M586.9 161.1 713.1 336.8 839.4 146.4 965.6 301.2M586.9 161.1 713.1 310.5 839.4 186.4 965.6 267.8M586.9 161.1 713.1 301.0 839.4 170.5 965.6 291.3M586.9 161.1 713.1 321.8 839.4 177.9 965.6 267.6M586.9 161.1 713.1 236.7 839.4 121.2 965.6 251.6M586.9 161.1 713.1 235.4 839.4 161.4 965.6 242.7M586.9 161.1 713.1 242.8 839.4 203.7 965.6 300.0M586.9 161.1 713.1 238.6 839.4 164.3 965.6 237.2M586.9 161.1 713.1 244.5 839.4 123.2 965.6 285.7M586.9 161.1 713.1 243.5 839.4 170.6 965.6 301.0M586.9 161.1 713.1 208.1 839.4 145.9 965.6 277.2M586.9 161.1 713.1 329.6 839.4 177.5 965.6 313.2M586.9 161.1 713.1 255.3 839.4 121.1 965.6 272.3M586.9 161.1 713.1 268.2 839.4 114.2 965.6 264.4M586.9 161.1 713.1 264.4 839.4 193.1 965.6 278.0M586.9 161.1 713.1 273.3 839.4 185.8 965.6 257.5M586.9 161.1 713.1 288.1 839.4 115.7 965.6 281.2M586.9 161.1 713.1 265.5 839.4 156.6 965.6 272.3M586.9 161.1 713.1 329.9 839.4 158.7 965.6 312.6M586.9 161.1 713.1 228.8 839.4 139.7 965.6 271.3M586.9 161.1 713.1 223.6 839.4 190.7 965.6 296.2M586.9 161.1 713.1 313.8 839.4 125.6 965.6 285.0M586.9 161.1 713.1 266.1 839.4 149.8 965.6 275.1M586.9 161.1 713.1 295.7 839.4 135.0 965.6 267.1M586.9 161.1 713.1 312.8 839.4 171.9 965.6 318.3M586.9 161.1 713.1 284.4 839.4 133.9 965.6 316.0M586.9 161.1 713.1 253.4 839.4 173.0 965.6 280.9M586.9 161.1 713.1 274.7 839.4 119.7 965.6 259.3M586.9 161.1 713.1 278.6 839.4 114.1 965.6 262.4M586.9 161.1 713.1 279.6 839.4 121.1 965.6 247.6M586.9 161.1 713.1 286.9 839.4 133.8 965.6 236.2M586.9 161.1 713.1 331.8 839.4 130.0 965.6 258.6M586.9 161.1 713.1 278.0 839.4 123.6 965.6 273.0M586.9 161.1 713.1 299.8 839.4 159.2 965.6 301.2M586.9 161.1 713.1 307.3 839.4 147.3 965.6 298.8M586.9 161.1 713.1 309.2 839.4 159.5 965.6 285.5M586.9 161.1 713.1 276.6 839.4 195.1 965.6 265.0M586.9 161.1 713.1 254.3 839.4 167.7 965.6 266.3M586.9 161.1 713.1 284.0 839.4 129.2 965.6 272.3M586.9 161.1 713.1 242.8 839.4 104.9 965.6 276.7M586.9 161.1 713.1 269.0 839.4 170.4 965.6 254.9M586.9 161.1 713.1 241.9 839.4 179.4 965.6 266.7M586.9 161.1 713.1 290.3 839.4 103.8 965.6 264.2M586.9 161.1 713.1 325.3 839.4 178.7 965.6 263.9M586.9 161.1 713.1 252.2 839.4 148.8 965.6 287.7M586.9 161.1 713.1 285.9 839.4 178.8 965.6 301.2M586.9 161.1 713.1 331.9 839.4 118.8 965.6 258.8M586.9 161.1 713.1 330.6 839.4 96.0 965.6 260.9M586.9 161.1 713.1 342.2 839.4 196.5 965.6 278.6M586.9 161.1 713.1 296.3 839.4 100.3 965.6 284.0M586.9 161.1 713.1 327.1 839.4 159.4 965.6 293.6M586.9 161.1 713.1 274.4 839.4 102.6 965.6 278.5M586.9 161.1 713.1 262.5 839.4 162.6 965.6 265.1M586.9 161.1 713.1 341.2 839.4 201.1 965.6 304.6M586.9 161.1 713.1 308.1 839.4 134.3 965.6 269.2M586.9 161.1 713.1 245.3 839.4 120.6 965.6 246.5M586.9 161.1 713.1 269.5 839.4 95.0 965.6 254.9M586.9 161.1 713.1 329.8 839.4 128.1 965.6 256.0M586.9 161.1 713.1 284.5 839.4 158.0 965.6 269.3M586.9 161.1 713.1 330.0 839.4 167.1 965.6 245.8M586.9 161.1 713.1 287.5 839.4 159.9 965.6 276.8M586.9 161.1 713.1 292.3 839.4 177.1 965.6 284.2M586.9 161.1 713.1 255.8 839.4 159.2 965.6 269.6M586.9 161.1 713.1 274.3 839.4 144.6 965.6 247.2M586.9 161.1 713.1 273.5 839.4 151.3 965.6 263.3M586.9 161.1 713.1 287.0 839.4 126.0 965.6 253.7M586.9 161.1 713.1 291.0 839.4 165.8 965.6 239.2M586.9 161.1 713.1 249.9 839.4 132.3 965.6 235.3M586.9 161.1 713.1 256.4 839.4 189.8 965.6 281.3M586.9 161.1 713.1 307.6 839.4 169.8 965.6 296.1M586.9 161.1 713.1 282.7 839.4 104.3 965.6 264.7M586.9 161.1 713.1 282.0 839.4 131.3 965.6 299.9M586.9 161.1 713.1 284.6 839.4 188.2 965.6 252.3M586.9 161.1 713.1 319.9 839.4 152.3 965.6 287.1M586.9 161.1 713.1 330.8 839.4 119.9 965.6 245.7M586.9 161.1 713.1 309.6 839.4 134.5 965.6 234.5M586.9 161.1 713.1 304.9 839.4 138.1 965.6 264.3M586.9 161.1 713.1 306.1 839.4 177.9 965.6 291.9M586.9 161.1 713.1 332.7 839.4 170.9 965.6 311.7M586.9 161.1 713.1 274.7 839.4 147.3 965.6 289.6M586.9 161.1 713.1 265.8 839.4 120.8 965.6 278.6M586.9 161.1 713.1 253.1 839.4 177.0 965.6 243.7M586.9 161.1 713.1 271.3 839.4 186.4 965.6 314.8M586.9 161.1 713.1 252.4 839.4 113.6 965.6 243.2M586.9 161.1 713.1 339.3 839.4 180.3 965.6 255.8M586.9 161.1 713.1 263.0 839.4 115.8 965.6 257.3M586.9 161.1 713.1 266.0 839.4 142.6 965.6 272.8M586.9 161.1 713.1 306.6 839.4 122.1 965.6 305.2M586.9 161.1 713.1 221.9 839.4 94.4 965.6 257.6M586.9 161.1 713.1 316.1 839.4 128.3 965.6 261.8M586.9 161.1 713.1 298.1 839.4 125.5 965.6 252.1M586.9 161.1 713.1 259.7 839.4 179.9 965.6 252.2M586.9 161.1 713.1 206.8 839.4 172.7 965.6 260.6M586.9 161.1 713.1 286.0 839.4 129.7 965.6 309.9M586.9 161.1 713.1 324.9 839.4 101.1 965.6 304.3M586.9 161.1 713.1 266.2 839.4 105.7 965.6 282.9M586.9 161.1 713.1 323.0 839.4 140.4 965.6 290.7M586.9 161.1 713.1 285.9 839.4 143.9 965.6 253.1M586.9 161.1 713.1 304.8 839.4 118.1 965.6 281.3M586.9 161.1 713.1 288.2 839.4 149.8 965.6 230.1M586.9 161.1 713.1 342.5 839.4 152.4 965.6 251.0M586.9 161.1 713.1 249.9 839.4 184.0 965.6 283.2M586.9 161.1 713.1 288.2 839.4 118.6 965.6 255.3M586.9 161.1 713.1 274.1 839.4 184.8 965.6 249.9M586.9 161.1 713.1 262.0 839.4 133.9 965.6 302.2M586.9 161.1 713.1 263.5 839.4 196.0 965.6 262.7M586.9 161.1 713.1 274.9 839.4 115.2 965.6 252.8M586.9 161.1 713.1 257.5 839.4 183.4 965.6 266.4M586.9 161.1 713.1 282.4 839.4 123.3 965.6 238.7M586.9 161.1 713.1 311.9 839.4 201.4 965.6 295.4M586.9 161.1 713.1 283.5 839.4 164.5 965.6 269.0M586.9 161.1 713.1 256.9 839.4 112.5 965.6 295.7M586.9 161.1 713.1 321.2 839.4 176.3 965.6 256.3M586.9 161.1 713.1 324.1 839.4 148.2 965.6 296.6M586.9 161.1 713.1 283.4 839.4 165.8 965.6 246.8M586.9 161.1 713.1 254.7 839.4 140.5 965.6 261.7M586.9 161.1 713.1 320.9 839.4 136.5 965.6 245.4M586.9 161.1 713.1 206.7 839.4 186.0 965.6 276.5M586.9 161.1 713.1 268.0 839.4 132.0 965.6 313.0M586.9 161.1 713.1 311.1 839.4 176.0 965.6 277.3M586.9 161.1 713.1 268.1 839.4 182.6 965.6 234.1M586.9 161.1 713.1 269.4 839.4 150.2 965.6 260.5M586.9 161.1 713.1 271.9 839.4 172.3 965.6 253.7M586.9 161.1 713.1 249.9 839.4 200.3 965.6 263.0M586.9 161.1 713.1 283.3 839.4 126.7 965.6 233.5M586.9 161.1 713.1 267.6 839.4 118.6 965.6 313.8M586.9 161.1 713.1 293.0 839.4 206.0 965.6 248.2M586.9 161.1 713.1 226.7 839.4 132.3 965.6 279.2M586.9 161.1 713.1 262.4 839.4 165.9 965.6 276.2M586.9 161.1 713.1 265.3 839.4 138.1 965.6 272.2M586.9 161.1 713.1 329.2 839.4 113.8 965.6 262.8M586.9 161.1 713.1 284.7 839.4 162.3 965.6 324.1M586.9 161.1 713.1 280.7 839.4 184.6 965.6 271.2M586.9 161.1 713.1 285.0 839.4 143.8 965.6 292.4M586.9 161.1 713.1 291.5 839.4 180.2 965.6 240.0M586.9 161.1 713.1 290.1 839.4 140.3 965.6 284.2M586.9 161.1 713.1 226.6 839.4 143.0 965.6 259.7M586.9 161.1 713.1 303.6 839.4 194.9 965.6 283.5M586.9 161.1 713.1 300.8 839.4 95.0 965.6 253.9M586.9 161.1 713.1 315.8 839.4 115.6 965.6 244.2M586.9 161.1 713.1 276.5 839.4 123.1 965.6 283.5M586.9 161.1 713.1 196.4 839.4 188.4 965.6 271.1M586.9 161.1 713.1 307.6 839.4 163.5 965.6 312.0M586.9 161.1 713.1 277.9 839.4 168.0 965.6 264.0M586.9 161.1 713.1 307.8 839.4 163.7 965.6 248.6M586.9 161.1 713.1 287.8 839.4 186.5 965.6 287.9M586.9 161.1 713.1 287.8 839.4 136.4 965.6 241.3M586.9 161.1 713.1 270.9 839.4 143.0 965.6 324.0M586.9 161.1 713.1 251.4 839.4 138.7 965.6 311.1M586.9 161.1 713.1 330.6 839.4 166.6 965.6 286.0M586.9 161.1 713.1 258.5 839.4 108.9 965.6 271.9M586.9 161.1 713.1 262.0 839.4 144.4 965.6 274.7M586.9 161.1 713.1 308.6 839.4 171.0 965.6 274.3M586.9 161.1 713.1 319.1 839.4 152.2 965.6 252.3M586.9 161.1 713.1 271.3 839.4 119.4 965.6 285.6M586.9 161.1 713.1 269.8 839.4 160.1 965.6 307.6M586.9 161.1 713.1 330.7 839.4 158.4 965.6 307.1M586.9 161.1 713.1 239.7 839.4 171.7 965.6 277.4M586.9 161.1 713.1 335.9 839.4 129.0 965.6 231.9M586.9 161.1 713.1 323.0 839.4 164.8 965.6 259.0M586.9 161.1 713.1 256.9 839.4 169.8 965.6 295.6M586.9 161.1 713.1 267.3 839.4 174.2 965.6 272.4M586.9 161.1 713.1 291.2 839.4 132.5 965.6 248.4M586.9 161.1 713.1 254.4 839.4 167.5 965.6 238.8M586.9 161.1 713.1 298.9 839.4 204.2 965.6 297.5M586.9 161.1 713.1 315.9 839.4 130.4 965.6 251.3M586.9 161.1 713.1 270.4 839.4 172.9 965.6 265.4M586.9 161.1 713.1 194.1 839.4 138.9 965.6 241.7M586.9 161.1 713.1 277.0 839.4 138.4 965.6 233.7M586.9 161.1 713.1 289.3 839.4 111.7 965.6 282.0M586.9 161.1 713.1 304.6 839.4 116.8 965.6 312.8M586.9 161.1 713.1 312.6 839.4 168.9 965.6 261.4M586.9 161.1 713.1 234.2 839.4 155.7 965.6 253.4M586.9 161.1 713.1 317.5 839.4 191.8 965.6 266.1M586.9 161.1 713.1 284.5 839.4 96.5 965.6 301.4M586.9 161.1 713.1 210.6 839.4 136.2 965.6 247.3M586.9 161.1 713.1 252.2 839.4 105.6 965.6 288.3M586.9 161.1 713.1 339.5 839.4 160.6 965.6 271.1M586.9 161.1 713.1 282.9 839.4 101.2 965.6 270.0M586.9 161.1 713.1 304.8 839.4 147.4 965.6 230.3M586.9 161.1 713.1 281.7 839.4 146.1 965.6 298.5M586.9 161.1 713.1 286.0 839.4 148.6 965.6 287.4M586.9 161.1 713.1 299.3 839.4 129.7 965.6 316.8M586.9 161.1 713.1 248.1 839.4 133.3 965.6 258.9M586.9 161.1 713.1 253.7 839.4 201.5 965.6 285.2M586.9 161.1 713.1 293.5 839.4 115.5 965.6 260.7M586.9 161.1 713.1 270.9 839.4 167.4 965.6 302.3M586.9 161.1 713.1 298.5 839.4 165.4 965.6 282.5M586.9 161.1 713.1 279.6 839.4 94.9 965.6 243.5M586.9 161.1 713.1 289.6 839.4 120.8 965.6 277.3M586.9 161.1 713.1 324.7 839.4 161.3 965.6 255.0M586.9 161.1 713.1 302.9 839.4 210.0 965.6 257.7M586.9 161.1 713.1 272.5 839.4 145.2 965.6 282.3M586.9 161.1 713.1 260.7 839.4 133.1 965.6 315.9M586.9 161.1 713.1 318.2 839.4 153.0 965.6 245.0M586.9 161.1 713.1 318.9 839.4 190.4 965.6 267.7M586.9 161.1 713.1 284.3 839.4 175.8 965.6 245.1M586.9 161.1 713.1 293.4 839.4 190.7 965.6 318.5M586.9 161.1 713.1 253.3 839.4 143.5 965.6 296.9M586.9 161.1 713.1 296.3 839.4 124.1 965.6 243.5M586.9 161.1 713.1 270.4 839.4 117.5 965.6 256.7M586.9 161.1 713.1 256.5 839.4 173.9 965.6 273.4M586.9 161.1 713.1 316.0 839.4 142.8 965.6 268.8M586.9 161.1 713.1 289.9 839.4 132.6 965.6 251.3M586.9 161.1 713.1 288.8 839.4 166.8 965.6 280.9M586.9 161.1 713.1 264.1 839.4 155.2 965.6 261.4M586.9 161.1 713.1 253.2 839.4 143.8 965.6 268.6M586.9 161.1 713.1 295.7 839.4 122.0 965.6 283.2M586.9 161.1 713.1 289.7 839.4 164.4 965.6 234.6M586.9 161.1 713.1 317.0 839.4 149.1 965.6 283.5M586.9 161.1 713.1 329.8 839.4 205.5 965.6 276.4M586.9 161.1 713.1 291.3 839.4 151.2 965.6 289.4M586.9 161.1 713.1 284.8 839.4 112.1 965.6 285.9M586.9 161.1 713.1 247.1 839.4 112.0 965.6 241.2M586.9 161.1 713.1 221.0 839.4 128.3 965.6 279.9M586.9 161.1 713.1 220.3 839.4 148.7 965.6 300.9M586.9 161.1 713.1 293.7 839.4 169.7 965.6 288.4M586.9 161.1 713.1 321.0 839.4 155.5 965.6 327.2M586.9 161.1 713.1 234.2 839.4 130.7 965.6 323.2M586.9 161.1 713.1 306.8 839.4 175.6 965.6 250.3M586.9 161.1 713.1 276.2 839.4 120.4 965.6 252.7M586.9 161.1 713.1 266.1 839.4 182.0 965.6 325.8M586.9 161.1 713.1 265.3 839.4 207.5 965.6 248.8M586.9 161.1 713.1 253.4 839.4 182.9 965.6 259.7M586.9 161.1 713.1 295.0 839.4 203.9 965.6 294.3M586.9 161.1 713.1 285.7 839.4 194.5 965.6 252.0M586.9 161.1 713.1 271.7 839.4 114.0 965.6 317.7M586.9 161.1 713.1 203.5 839.4 156.8 965.6 306.0M586.9 161.1 713.1 330.4 839.4 143.4 965.6 312.5M586.9 161.1 713.1 280.2 839.4 113.2 965.6 303.4M586.9 161.1 713.1 200.7 839.4 109.9 965.6 248.0M586.9 161.1 713.1 241.9 839.4 166.6 965.6 309.6M586.9 161.1 713.1 240.6 839.4 107.7 965.6 304.5M586.9 161.1 713.1 310.1 839.4 138.0 965.6 299.0M586.9 161.1 713.1 282.1 839.4 150.3 965.6 267.0M586.9 161.1 713.1 298.9 839.4 136.2 965.6 281.9M586.9 161.1 713.1 305.7 839.4 196.2 965.6 248.5M586.9 161.1 713.1 231.8 839.4 175.6 965.6 292.3M586.9 161.1 713.1 285.9 839.4 153.9 965.6 308.4M586.9 161.1 713.1 297.2 839.4 130.8 965.6 286.5M586.9 161.1 713.1 300.8 839.4 162.3 965.6 271.5M586.9 161.1 713.1 277.3 839.4 154.5 965.6 298.5M586.9 161.1 713.1 292.6 839.4 119.3 965.6 264.8M586.9 161.1 713.1 224.1 839.4 105.0 965.6 288.8M586.9 161.1 713.1 300.0 839.4 125.8 965.6 271.4M586.9 161.1 713.1 261.7 839.4 109.6 965.6 235.1M586.9 161.1 713.1 220.0 839.4 163.4 965.6 290.8M586.9 161.1 713.1 246.6 839.4 160.2 965.6 296.3M586.9 161.1 713.1 315.3 839.4 140.2 965.6 303.2M586.9 161.1 713.1 304.9 839.4 160.1 965.6 261.7M586.9 161.1 713.1 293.2 839.4 166.7 965.6 258.5M586.9 161.1 713.1 307.8 839.4 97.3 965.6 277.0M586.9 161.1 713.1 281.1 839.4 156.9 965.6 271.7M586.9 161.1 713.1 293.4 839.4 181.4 965.6 237.5M586.9 161.1 713.1 254.9 839.4 134.7 965.6 248.8M586.9 161.1 713.1 275.2 839.4 91.4 965.6 312.0M586.9 161.1 713.1 275.7 839.4 147.8 965.6 273.3M586.9 161.1 713.1 277.0 839.4 110.8 965.6 270.1M586.9 161.1 713.1 288.3 839.4 164.5 965.6 253.0M586.9 161.1 713.1 279.8 839.4 166.2 965.6 279.3M586.9 161.1 713.1 262.2 839.4 172.6 965.6 291.1M586.9 161.1 713.1 278.5 839.4 155.0 965.6 285.9M586.9 161.1 713.1 277.2 839.4 91.4 965.6 322.7M586.9 161.1 713.1 293.3 839.4 187.5 965.6 273.9M586.9 161.1 713.1 269.6 839.4 97.8 965.6 289.8M586.9 161.1 713.1 264.9 839.4 182.8 965.6 260.3M586.9 161.1 713.1 255.7 839.4 157.9 965.6 301.8M586.9 161.1 713.1 264.3 839.4 123.5 965.6 285.4M586.9 161.1 713.1 286.3 839.4 130.1 965.6 300.6M586.9 161.1 713.1 280.8 839.4 141.3 965.6 303.0M586.9 161.1 713.1 306.3 839.4 203.4 965.6 253.9M586.9 161.1 713.1 260.4 839.4 138.8 965.6 286.3M586.9 161.1 713.1 318.5 839.4 183.2 965.6 261.0M586.9 161.1 713.1 314.8 839.4 157.2 965.6 304.6M586.9 161.1 713.1 285.9 839.4 144.3 965.6 270.7M586.9 161.1 713.1 317.5 839.4 187.2 965.6 320.5M586.9 161.1 713.1 251.4 839.4 165.8 965.6 286.8M586.9 161.1 713.1 247.4 839.4 191.9 965.6 287.5M586.9 161.1 713.1 321.3 839.4 118.9 965.6 257.3M586.9 161.1 713.1 264.5 839.4 158.8 965.6 268.5M586.9 161.1 713.1 322.0 839.4 132.3 965.6 278.4M586.9 161.1 713.1 229.7 839.4 172.4 965.6 250.3M586.9 161.1 713.1 286.0 839.4 166.5 965.6 268.3M586.9 161.1 713.1 268.4 839.4 109.0 965.6 258.7M586.9 161.1 713.1 234.9 839.4 181.6 965.6 252.3M586.9 161.1 713.1 344.5 839.4 208.3 965.6 275.5M586.9 161.1 713.1 323.5 839.4 137.3 965.6 281.8M586.9 161.1 713.1 296.1 839.4 187.1 965.6 264.6M586.9 161.1 713.1 289.9 839.4 164.5 965.6 285.3M586.9 161.1 713.1 262.0 839.4 121.1 965.6 262.9M586.9 161.1 713.1 283.7 839.4 176.7 965.6 242.9M586.9 161.1 713.1 332.0 839.4 122.2 965.6 249.9M586.9 161.1 713.1 247.8 839.4 172.3 965.6 284.3M586.9 161.1 713.1 329.3 839.4 102.5 965.6 309.4M586.9 161.1 713.1 301.3 839.4 107.8 965.6 275.3M586.9 161.1 713.1 269.9 839.4 165.5 965.6 277.2M586.9 161.1 713.1 273.4 839.4 157.2 965.6 243.0M586.9 161.1 713.1 270.3 839.4 177.1 965.6 284.4M586.9 161.1 713.1 291.8 839.4 144.0 965.6 279.5M586.9 161.1 713.1 280.7 839.4 113.5 965.6 253.3M586.9 161.1 713.1 270.0 839.4 196.9 965.6 287.0M586.9 161.1 713.1 308.1 839.4 120.9 965.6 278.2M586.9 161.1 713.1 283.2 839.4 192.9 965.6 232.4M586.9 161.1 713.1 235.0 839.4 178.0 965.6 256.3M586.9 161.1 713.1 314.1 839.4 207.8 965.6 266.3M586.9 161.1 713.1 279.9 839.4 148.5 965.6 300.7M586.9 161.1 713.1 263.4 839.4 142.5 965.6 258.3M586.9 161.1 713.1 292.4 839.4 172.1 965.6 272.2M586.9 161.1 713.1 287.7 839.4 116.1 965.6 267.6M586.9 161.1 713.1 252.9 839.4 149.5 965.6 288.2M586.9 161.1 713.1 275.4 839.4 162.7 965.6 274.1M586.9 161.1 713.1 284.7 839.4 149.8 965.6 278.9M586.9 161.1 713.1 265.6 839.4 128.8 965.6 265.0M586.9 161.1 713.1 226.0 839.4 176.5 965.6 234.1M586.9 161.1 713.1 260.9 839.4 149.7 965.6 263.7M586.9 161.1 713.1 245.2 839.4 119.5 965.6 319.8M586.9 161.1 713.1 270.5 839.4 144.1 965.6 300.7M586.9 161.1 713.1 310.2 839.4 138.5 965.6 317.8M586.9 161.1 713.1 295.1 839.4 161.6 965.6 295.8M586.9 161.1 713.1 231.9 839.4 140.3 965.6 258.3M586.9 161.1 713.1 218.4 839.4 148.6 965.6 262.6M586.9 161.1 713.1 305.3 839.4 103.7 965.6 290.4M586.9 161.1 713.1 274.2 839.4 127.1 965.6 266.4M586.9 161.1 713.1 299.9 839.4 158.2 965.6 294.8M586.9 161.1 713.1 210.6 839.4 127.4 965.6 313.3M586.9 161.1 713.1 315.4 839.4 126.1 965.6 312.9M586.9 161.1 713.1 253.1 839.4 179.8 965.6 297.7M586.9 161.1 713.1 242.3 839.4 187.1 965.6 234.3M586.9 161.1 713.1 293.9 839.4 120.6 965.6 311.1M586.9 161.1 713.1 276.5 839.4 184.6 965.6 239.3M586.9 161.1 713.1 254.4 839.4 264.0 965.6 368.4M586.9 161.1 713.1 306.1 839.4 274.5 965.6 288.7M586.9 161.1 713.1 301.5 839.4 261.7 965.6 329.3M586.9 161.1 713.1 320.8 839.4 258.8 965.6 275.6M586.9 161.1 713.1 300.7 839.4 279.3 965.6 296.8M586.9 161.1 713.1 277.3 839.4 216.0 965.6 337.4M586.9 161.1 713.1 299.6 839.4 266.0 965.6 287.8M586.9 161.1 713.1 265.8 839.4 244.8 965.6 318.9M586.9 161.1 713.1 259.3 839.4 280.4 965.6 301.9M586.9 161.1 713.1 288.1 839.4 243.9 965.6 284.3M586.9 161.1 713.1 288.7 839.4 236.9 965.6 315.6M586.9 161.1 713.1 302.0 839.4 279.3 965.6 277.9M586.9 161.1 713.1 288.1 839.4 212.2 965.6 334.3M586.9 161.1 713.1 338.0 839.4 273.1 965.6 336.3M586.9 161.1 713.1 286.1 839.4 265.6 965.6 309.4M586.9 161.1 713.1 292.9 839.4 230.1 965.6 333.6M586.9 161.1 713.1 329.4 839.4 260.1 965.6 302.5M586.9 161.1 713.1 226.3 839.4 219.6 965.6 320.6M586.9 161.1 713.1 333.2 839.4 267.5 965.6 298.9M586.9 161.1 713.1 329.6 839.4 261.8 965.6 290.4M586.9 161.1 713.1 290.4 839.4 233.4 965.6 316.9M586.9 161.1 713.1 366.2 839.4 220.8 965.6 281.3M586.9 161.1 713.1 327.0 839.4 219.1 965.6 295.0M586.9 161.1 713.1 352.1 839.4 263.7 965.6 287.2M586.9 161.1 713.1 333.0 839.4 245.5 965.6 373.2M586.9 161.1 713.1 304.5 839.4 254.5 965.6 373.7M586.9 161.1 713.1 289.0 839.4 234.6 965.6 310.0M586.9 161.1 713.1 262.2 839.4 268.3 965.6 341.0M586.9 161.1 713.1 272.4 839.4 222.4 965.6 285.5M586.9 161.1 713.1 259.5 839.4 231.8 965.6 335.0M586.9 161.1 713.1 279.9 839.4 272.2 965.6 298.8M586.9 161.1 713.1 316.0 839.4 261.8 965.6 350.0M586.9 161.1 713.1 261.8 839.4 260.1 965.6 310.5M586.9 161.1 713.1 316.7 839.4 215.6 965.6 282.7M586.9 161.1 713.1 321.0 839.4 251.1 965.6 286.6M586.9 161.1 713.1 247.7 839.4 239.1 965.6 337.6M586.9 161.1 713.1 273.1 839.4 215.5 965.6 325.7M586.9 161.1 713.1 292.5 839.4 255.6 965.6 320.2M586.9 161.1 713.1 274.3 839.4 214.4 965.6 339.8M586.9 161.1 713.1 270.0 839.4 263.4 965.6 325.5M586.9 161.1 713.1 346.6 839.4 284.4 965.6 276.1M586.9 161.1 713.1 303.2 839.4 277.6 965.6 284.8M586.9 161.1 713.1 340.4 839.4 233.4 965.6 342.9M586.9 161.1 713.1 295.9 839.4 256.7 965.6 304.9M586.9 161.1 713.1 323.0 839.4 222.8 965.6 277.8M586.9 161.1 713.1 253.5 839.4 245.4 965.6 338.0M586.9 161.1 713.1 282.3 839.4 233.9 965.6 288.0M586.9 161.1 713.1 327.8 839.4 258.9 965.6 293.3M586.9 161.1 713.1 300.7 839.4 241.3 965.6 284.1M586.9 161.1 713.1 341.5 839.4 233.0 965.6 366.6M586.9 161.1 713.1 298.7 839.4 257.1 965.6 280.4M586.9 161.1 713.1 281.3 839.4 248.5 965.6 274.4M586.9 161.1 713.1 291.0 839.4 222.1 965.6 350.4M586.9 161.1 713.1 366.1 839.4 215.7 965.6 310.2M586.9 161.1 713.1 311.5 839.4 259.0 965.6 366.0M586.9 161.1 713.1 384.2 839.4 268.2 965.6 289.6M586.9 161.1 713.1 246.8 839.4 57.9 965.6 229.6M586.9 161.1 713.1 225.3 839.4 77.6 965.6 246.8M586.9 161.1 713.1 289.6 839.4 323.9 965.6 375.2M586.9 161.1 713.1 272.5 839.4 371.0 965.6 400.1M586.9 161.1 713.1 276.7 839.4 381.7 965.6 373.1M586.9 161.1 713.1 353.8 839.4 268.6 965.6 479.8M586.9 161.1 713.1 255.3 839.4 246.8 965.6 420.2M586.9 161.1 713.1 293.9 839.4 238.2 965.6 389.0M586.9 161.1 713.1 191.1 839.4 212.5 965.6 263.9M586.9 161.1 713.1 366.7 839.4 225.3 965.6 298.2" fill="none" stroke="#d3d3d3" stroke-width="1.15" stroke-linejoin="miter" stroke-miterlimit="20"/>
<polyline points="586.9,161.1 713.1,271.8 839.4,170.1 965.6,282.3" fill="none" stroke="#1414e6" stroke-width="1.8"/>
<circle cx="585.5" cy="161.1" r="1.8" fill="#1414e6"/>
<circle cx="711.7" cy="271.8" r="1.8" fill="#1414e6"/>
<circle cx="838.0" cy="170.1" r="1.8" fill="#1414e6"/>
<circle cx="964.2" cy="282.3" r="1.8" fill="#1414e6"/>
<line x1="586.9" y1="161.1" x2="965.6" y2="161.1" stroke="#e63232" stroke-width="1.9"/>
</g>
<rect x="571.7" y="41.2" width="409.1" height="455.6" fill="none" stroke="#262626" stroke-width="1.6"/>
<line x1="586.9" y1="496.8" x2="586.9" y2="505.1" stroke="#262626" stroke-width="1.6"/>
<text transform="translate(589.5 525.2) scale(1 1.04)" text-anchor="middle" class="xl">YG2C</text>
<line x1="713.1" y1="496.8" x2="713.1" y2="505.1" stroke="#262626" stroke-width="1.6"/>
<text transform="translate(714.0 525.2) scale(1 1.04)" text-anchor="middle" class="xl">YG2T</text>
<line x1="839.4" y1="496.8" x2="839.4" y2="505.1" stroke="#262626" stroke-width="1.6"/>
<text transform="translate(834.1 525.2) scale(1 1.04)" text-anchor="middle" class="xl">An04C</text>
<line x1="965.6" y1="496.8" x2="965.6" y2="505.1" stroke="#262626" stroke-width="1.6"/>
<text transform="translate(959.4 525.2) scale(1 1.04)" text-anchor="middle" class="xl">An04T</text>
<line x1="564.2" y1="418.1" x2="571.7" y2="418.1" stroke="#262626" stroke-width="1.6"/>
<text transform="translate(557.5 426.9) scale(0.875 1.0)" text-anchor="end" class="yt">−6</text>
<line x1="564.2" y1="332.4" x2="571.7" y2="332.4" stroke="#262626" stroke-width="1.6"/>
<text transform="translate(557.5 341.2) scale(0.875 1.0)" text-anchor="end" class="yt">−4</text>
<line x1="564.2" y1="246.8" x2="571.7" y2="246.8" stroke="#262626" stroke-width="1.6"/>
<text transform="translate(557.5 255.6) scale(0.875 1.0)" text-anchor="end" class="yt">−2</text>
<line x1="564.2" y1="161.1" x2="571.7" y2="161.1" stroke="#262626" stroke-width="1.6"/>
<text transform="translate(557.5 169.9) scale(0.875 1.0)" text-anchor="end" class="yt">0</text>
<line x1="564.2" y1="75.4" x2="571.7" y2="75.4" stroke="#262626" stroke-width="1.6"/>
<text transform="translate(557.5 84.2) scale(0.875 1.0)" text-anchor="end" class="yt">2</text>
<text transform="translate(525.5 269.0) rotate(-90)" text-anchor="middle" class="yl" textLength="120.9" lengthAdjust="spacingAndGlyphs">log2(ratio)</text>
<text transform="translate(619.0 24.8) scale(1 1)" class="tt" textLength="333.9" lengthAdjust="spacingAndGlyphs">Subcluster_2, 427 genes</text>
<clipPath id="c2"><rect x="1072.3" y="41.2" width="409.2" height="455.6"/></clipPath>
<g clip-path="url(#c2)">
<path d="M1087.5 480.2 1213.8 144.1 1340.0 478.0 1466.3 480.2M1087.5 480.2 1213.8 128.5 1340.0 478.8 1466.3 480.2M1087.5 480.2 1213.8 156.6 1340.0 480.1 1466.3 480.2M1087.5 480.2 1213.8 115.0 1340.0 479.6 1466.3 480.2M1087.5 480.2 1213.8 149.1 1340.0 479.5 1466.3 480.2M1087.5 480.2 1213.8 145.0 1340.0 479.2 1466.3 480.2M1087.5 480.2 1213.8 143.4 1340.0 478.9 1466.3 480.2M1087.5 480.2 1213.8 97.9 1340.0 480.1 1466.3 480.2M1087.5 480.2 1213.8 114.1 1340.0 478.5 1466.3 480.2M1087.5 480.2 1213.8 148.8 1340.0 480.0 1466.3 480.2M1087.5 480.2 1213.8 124.8 1340.0 478.0 1466.3 480.2M1087.5 480.2 1213.8 134.7 1340.0 479.4 1466.3 480.2M1087.5 480.2 1213.8 115.2 1340.0 479.9 1466.3 480.2M1087.5 480.2 1213.8 135.2 1340.0 480.0 1466.3 480.2M1087.5 480.2 1213.8 102.0 1340.0 478.7 1466.3 480.2M1087.5 480.2 1213.8 151.6 1340.0 480.0 1466.3 480.2M1087.5 480.2 1213.8 152.3 1340.0 479.1 1466.3 480.2M1087.5 480.2 1213.8 153.0 1340.0 480.2 1466.3 480.2M1087.5 480.2 1213.8 157.1 1340.0 479.5 1466.3 480.2M1087.5 480.2 1213.8 154.5 1340.0 479.7 1466.3 480.2M1087.5 480.2 1213.8 127.4 1340.0 479.6 1466.3 480.2M1087.5 480.2 1213.8 139.8 1340.0 479.1 1466.3 480.2M1087.5 480.2 1213.8 155.9 1340.0 479.3 1466.3 480.2M1087.5 480.2 1213.8 140.0 1340.0 480.1 1466.3 480.2M1087.5 480.2 1213.8 141.4 1340.0 479.6 1466.3 480.2M1087.5 480.2 1213.8 116.6 1340.0 479.7 1466.3 480.2M1087.5 480.2 1213.8 127.2 1340.0 479.9 1466.3 480.2M1087.5 480.2 1213.8 153.2 1340.0 479.4 1466.3 480.2M1087.5 480.2 1213.8 134.9 1340.0 480.0 1466.3 480.2M1087.5 480.2 1213.8 153.0 1340.0 479.6 1466.3 480.2M1087.5 480.2 1213.8 143.7 1340.0 479.3 1466.3 480.2M1087.5 480.2 1213.8 146.2 1340.0 480.1 1466.3 480.2M1087.5 480.2 1213.8 142.1 1340.0 479.8 1466.3 480.2M1087.5 480.2 1213.8 129.4 1340.0 479.5 1466.3 480.2M1087.5 480.2 1213.8 122.7 1340.0 479.8 1466.3 480.2M1087.5 480.2 1213.8 123.3 1340.0 479.7 1466.3 480.2M1087.5 480.2 1213.8 119.4 1340.0 479.5 1466.3 480.2M1087.5 480.2 1213.8 150.6 1340.0 479.5 1466.3 480.2M1087.5 480.2 1213.8 132.4 1340.0 479.8 1466.3 480.2M1087.5 480.2 1213.8 134.6 1340.0 478.8 1466.3 480.2M1087.5 480.2 1213.8 138.5 1340.0 479.9 1466.3 480.2M1087.5 480.2 1213.8 126.7 1340.0 478.7 1466.3 480.2M1087.5 480.2 1213.8 130.9 1340.0 480.1 1466.3 480.2M1087.5 480.2 1213.8 129.4 1340.0 479.2 1466.3 480.2M1087.5 480.2 1213.8 124.9 1340.0 479.9 1466.3 480.2M1087.5 480.2 1213.8 125.3 1340.0 479.2 1466.3 480.2M1087.5 480.2 1213.8 154.0 1340.0 479.6 1466.3 480.2M1087.5 480.2 1213.8 138.8 1340.0 479.8 1466.3 480.2M1087.5 480.2 1213.8 127.5 1340.0 480.0 1466.3 480.2M1087.5 480.2 1213.8 139.6 1340.0 479.7 1466.3 480.2M1087.5 480.2 1213.8 131.5 1340.0 480.0 1466.3 480.2M1087.5 480.2 1213.8 129.9 1340.0 480.1 1466.3 480.2M1087.5 480.2 1213.8 140.0 1340.0 479.7 1466.3 480.2M1087.5 480.2 1213.8 136.5 1340.0 479.8 1466.3 480.2M1087.5 480.2 1213.8 136.0 1340.0 479.9 1466.3 480.2M1087.5 480.2 1213.8 130.1 1340.0 480.1 1466.3 480.2M1087.5 480.2 1213.8 125.2 1340.0 479.8 1466.3 480.2M1087.5 480.2 1213.8 126.3 1340.0 478.7 1466.3 480.2M1087.5 480.2 1213.8 160.4 1340.0 479.5 1466.3 480.2M1087.5 480.2 1213.8 136.6 1340.0 479.5 1466.3 480.2M1087.5 480.2 1213.8 156.9 1340.0 480.0 1466.3 480.2M1087.5 480.2 1213.8 119.4 1340.0 480.0 1466.3 480.2M1087.5 480.2 1213.8 149.1 1340.0 480.0 1466.3 480.2M1087.5 480.2 1213.8 130.7 1340.0 479.4 1466.3 480.2M1087.5 480.2 1213.8 142.8 1340.0 479.6 1466.3 480.2M1087.5 480.2 1213.8 148.0 1340.0 479.9 1466.3 480.2M1087.5 480.2 1213.8 139.2 1340.0 478.7 1466.3 480.2M1087.5 480.2 1213.8 154.4 1340.0 480.2 1466.3 480.2M1087.5 480.2 1213.8 121.1 1340.0 479.2 1466.3 480.2M1087.5 480.2 1213.8 116.1 1340.0 478.6 1466.3 480.2M1087.5 480.2 1213.8 157.3 1340.0 479.8 1466.3 480.2M1087.5 480.2 1213.8 124.0 1340.0 479.8 1466.3 480.2M1087.5 480.2 1213.8 156.9 1340.0 480.1 1466.3 480.2M1087.5 480.2 1213.8 135.5 1340.0 480.0 1466.3 480.2M1087.5 480.2 1213.8 114.3 1340.0 480.2 1466.3 480.2M1087.5 480.2 1213.8 120.7 1340.0 478.8 1466.3 480.2M1087.5 480.2 1213.8 145.3 1340.0 480.0 1466.3 480.2M1087.5 480.2 1213.8 107.8 1340.0 479.4 1466.3 480.2M1087.5 480.2 1213.8 124.3 1340.0 479.1 1466.3 480.2M1087.5 480.2 1213.8 156.0 1340.0 479.3 1466.3 480.2M1087.5 480.2 1213.8 160.8 1340.0 478.6 1466.3 480.2M1087.5 480.2 1213.8 120.6 1340.0 479.5 1466.3 480.2M1087.5 480.2 1213.8 144.1 1340.0 479.3 1466.3 480.2M1087.5 480.2 1213.8 127.8 1340.0 479.4 1466.3 480.2M1087.5 480.2 1213.8 155.1 1340.0 479.4 1466.3 480.2M1087.5 480.2 1213.8 131.1 1340.0 479.8 1466.3 480.2M1087.5 480.2 1213.8 123.9 1340.0 479.7 1466.3 480.2M1087.5 480.2 1213.8 130.4 1340.0 478.1 1466.3 480.2M1087.5 480.2 1213.8 121.8 1340.0 479.7 1466.3 480.2M1087.5 480.2 1213.8 157.5 1340.0 480.0 1466.3 480.2M1087.5 480.2 1213.8 112.8 1340.0 480.0 1466.3 480.2M1087.5 480.2 1213.8 149.3 1340.0 479.3 1466.3 480.2M1087.5 480.2 1213.8 147.2 1340.0 479.1 1466.3 480.2M1087.5 480.2 1213.8 138.2 1340.0 479.6 1466.3 480.2M1087.5 480.2 1213.8 143.3 1340.0 479.1 1466.3 480.2M1087.5 480.2 1213.8 135.0 1340.0 478.8 1466.3 480.2M1087.5 480.2 1213.8 132.7 1340.0 479.1 1466.3 480.2M1087.5 480.2 1213.8 138.4 1340.0 479.8 1466.3 480.2M1087.5 480.2 1213.8 141.9 1340.0 479.3 1466.3 480.2M1087.5 480.2 1213.8 123.5 1340.0 480.1 1466.3 480.2M1087.5 480.2 1213.8 142.8 1340.0 478.8 1466.3 480.2M1087.5 480.2 1213.8 116.8 1340.0 479.6 1466.3 480.2M1087.5 480.2 1213.8 137.9 1340.0 479.2 1466.3 480.2M1087.5 480.2 1213.8 153.8 1340.0 479.9 1466.3 480.2M1087.5 480.2 1213.8 126.5 1340.0 479.2 1466.3 480.2M1087.5 480.2 1213.8 135.0 1340.0 479.7 1466.3 480.2M1087.5 480.2 1213.8 140.7 1340.0 480.1 1466.3 480.2M1087.5 480.2 1213.8 133.0 1340.0 479.9 1466.3 480.2M1087.5 480.2 1213.8 132.6 1340.0 478.5 1466.3 480.2M1087.5 480.2 1213.8 121.7 1340.0 479.5 1466.3 480.2M1087.5 480.2 1213.8 130.5 1340.0 479.9 1466.3 480.2M1087.5 480.2 1213.8 130.7 1340.0 479.7 1466.3 480.2M1087.5 480.2 1213.8 121.2 1340.0 479.3 1466.3 480.2M1087.5 480.2 1213.8 118.8 1340.0 479.5 1466.3 480.2M1087.5 480.2 1213.8 153.2 1340.0 479.7 1466.3 480.2M1087.5 480.2 1213.8 141.2 1340.0 479.9 1466.3 480.2M1087.5 480.2 1213.8 126.2 1340.0 480.1 1466.3 480.2M1087.5 480.2 1213.8 158.1 1340.0 480.1 1466.3 480.2M1087.5 480.2 1213.8 149.1 1340.0 478.5 1466.3 480.2M1087.5 480.2 1213.8 132.1 1340.0 479.0 1466.3 480.2M1087.5 480.2 1213.8 121.4 1340.0 479.6 1466.3 480.2M1087.5 480.2 1213.8 125.0 1340.0 479.6 1466.3 480.2M1087.5 480.2 1213.8 141.4 1340.0 478.6 1466.3 480.2M1087.5 480.2 1213.8 145.1 1340.0 479.9 1466.3 480.2M1087.5 480.2 1213.8 139.9 1340.0 478.9 1466.3 480.2M1087.5 480.2 1213.8 153.5 1340.0 478.7 1466.3 480.2M1087.5 480.2 1213.8 138.2 1340.0 479.7 1466.3 480.2M1087.5 480.2 1213.8 143.6 1340.0 480.0 1466.3 480.2M1087.5 480.2 1213.8 135.4 1340.0 480.1 1466.3 480.2M1087.5 480.2 1213.8 120.1 1340.0 479.4 1466.3 480.2M1087.5 480.2 1213.8 136.0 1340.0 479.3 1466.3 480.2M1087.5 480.2 1213.8 142.2 1340.0 479.8 1466.3 480.2M1087.5 480.2 1213.8 151.5 1340.0 479.4 1466.3 480.2M1087.5 480.2 1213.8 159.7 1340.0 479.8 1466.3 480.2M1087.5 480.2 1213.8 153.4 1340.0 480.0 1466.3 480.2M1087.5 480.2 1213.8 131.9 1340.0 479.8 1466.3 480.2M1087.5 480.2 1213.8 139.8 1340.0 479.0 1466.3 480.2M1087.5 480.2 1213.8 109.1 1340.0 478.8 1466.3 480.2M1087.5 480.2 1213.8 141.3 1340.0 478.0 1466.3 480.2M1087.5 480.2 1213.8 116.9 1340.0 479.6 1466.3 480.2M1087.5 480.2 1213.8 145.8 1340.0 479.7 1466.3 480.2M1087.5 480.2 1213.8 162.2 1340.0 478.9 1466.3 480.2M1087.5 480.2 1213.8 145.1 1340.0 479.6 1466.3 480.2M1087.5 480.2 1213.8 154.4 1340.0 479.0 1466.3 480.2M1087.5 480.2 1213.8 144.3 1340.0 479.4 1466.3 480.2M1087.5 480.2 1213.8 147.2 1340.0 480.0 1466.3 480.2M1087.5 480.2 1213.8 132.4 1340.0 479.2 1466.3 480.2M1087.5 480.2 1213.8 145.8 1340.0 479.7 1466.3 480.2M1087.5 480.2 1213.8 148.2 1340.0 480.1 1466.3 480.2M1087.5 480.2 1213.8 125.9 1340.0 480.0 1466.3 480.2M1087.5 480.2 1213.8 144.6 1340.0 478.9 1466.3 480.2M1087.5 480.2 1213.8 138.8 1340.0 479.7 1466.3 480.2M1087.5 480.2 1213.8 130.4 1340.0 478.9 1466.3 480.2M1087.5 480.2 1213.8 145.4 1340.0 479.6 1466.3 480.2M1087.5 480.2 1213.8 155.0 1340.0 479.1 1466.3 480.2M1087.5 480.2 1213.8 129.1 1340.0 479.9 1466.3 480.2M1087.5 480.2 1213.8 158.2 1340.0 479.7 1466.3 480.2M1087.5 480.2 1213.8 140.1 1340.0 478.9 1466.3 480.2M1087.5 480.2 1213.8 133.0 1340.0 478.9 1466.3 480.2M1087.5 480.2 1213.8 127.4 1340.0 480.1 1466.3 480.2M1087.5 480.2 1213.8 146.9 1340.0 479.8 1466.3 480.2M1087.5 480.2 1213.8 125.3 1340.0 479.4 1466.3 480.2M1087.5 480.2 1213.8 122.7 1340.0 480.1 1466.3 480.2M1087.5 480.2 1213.8 125.4 1340.0 479.9 1466.3 480.2M1087.5 480.2 1213.8 149.0 1340.0 479.9 1466.3 480.2M1087.5 480.2 1213.8 154.6 1340.0 480.1 1466.3 480.2M1087.5 480.2 1213.8 143.3 1340.0 478.3 1466.3 480.2M1087.5 480.2 1213.8 162.6 1340.0 478.9 1466.3 480.2M1087.5 480.2 1213.8 151.3 1340.0 479.2 1466.3 480.2M1087.5 480.2 1213.8 118.5 1340.0 478.2 1466.3 480.2M1087.5 480.2 1213.8 142.9 1340.0 479.3 1466.3 480.2M1087.5 480.2 1213.8 156.0 1340.0 479.4 1466.3 480.2M1087.5 480.2 1213.8 121.2 1340.0 479.7 1466.3 480.2M1087.5 480.2 1213.8 123.5 1340.0 479.4 1466.3 480.2M1087.5 480.2 1213.8 144.6 1340.0 479.9 1466.3 480.2M1087.5 480.2 1213.8 138.7 1340.0 479.3 1466.3 480.2M1087.5 480.2 1213.8 128.0 1340.0 478.1 1466.3 480.2M1087.5 480.2 1213.8 121.9 1340.0 479.7 1466.3 480.2M1087.5 480.2 1213.8 124.6 1340.0 478.4 1466.3 480.2M1087.5 480.2 1213.8 131.7 1340.0 479.3 1466.3 480.2M1087.5 480.2 1213.8 126.2 1340.0 479.6 1466.3 480.2M1087.5 480.2 1213.8 157.3 1340.0 479.3 1466.3 480.2M1087.5 480.2 1213.8 121.1 1340.0 479.6 1466.3 480.2M1087.5 480.2 1213.8 142.0 1340.0 479.6 1466.3 480.2M1087.5 480.2 1213.8 148.4 1340.0 478.7 1466.3 480.2M1087.5 480.2 1213.8 134.8 1340.0 479.2 1466.3 480.2M1087.5 480.2 1213.8 108.9 1340.0 479.1 1466.3 480.2M1087.5 480.2 1213.8 139.6 1340.0 478.8 1466.3 480.2M1087.5 480.2 1213.8 141.9 1340.0 479.5 1466.3 480.2M1087.5 480.2 1213.8 143.8 1340.0 479.3 1466.3 480.2M1087.5 480.2 1213.8 135.2 1340.0 478.9 1466.3 480.2M1087.5 480.2 1213.8 122.0 1340.0 480.1 1466.3 480.2M1087.5 480.2 1213.8 128.9 1340.0 479.7 1466.3 480.2M1087.5 480.2 1213.8 119.0 1340.0 479.0 1466.3 480.2M1087.5 480.2 1213.8 142.7 1340.0 479.7 1466.3 480.2M1087.5 480.2 1213.8 161.2 1340.0 480.2 1466.3 480.2M1087.5 480.2 1213.8 112.6 1340.0 480.0 1466.3 480.2M1087.5 480.2 1213.8 120.3 1340.0 479.6 1466.3 480.2M1087.5 480.2 1213.8 124.0 1340.0 479.4 1466.3 480.2M1087.5 480.2 1213.8 115.2 1340.0 479.4 1466.3 480.2M1087.5 480.2 1213.8 142.4 1340.0 479.6 1466.3 480.2M1087.5 480.2 1213.8 127.1 1340.0 480.0 1466.3 480.2M1087.5 480.2 1213.8 127.0 1340.0 478.3 1466.3 480.2M1087.5 480.2 1213.8 124.5 1340.0 478.6 1466.3 480.2M1087.5 480.2 1213.8 129.1 1340.0 479.8 1466.3 480.2M1087.5 480.2 1213.8 140.8 1340.0 480.1 1466.3 480.2M1087.5 480.2 1213.8 143.3 1340.0 479.1 1466.3 480.2M1087.5 480.2 1213.8 111.8 1340.0 479.5 1466.3 480.2M1087.5 480.2 1213.8 157.0 1340.0 479.8 1466.3 480.2M1087.5 480.2 1213.8 148.0 1340.0 480.1 1466.3 480.2M1087.5 480.2 1213.8 152.1 1340.0 479.6 1466.3 480.2M1087.5 480.2 1213.8 142.2 1340.0 480.0 1466.3 480.2M1087.5 480.2 1213.8 152.0 1340.0 478.8 1466.3 480.2M1087.5 480.2 1213.8 147.1 1340.0 479.7 1466.3 480.2M1087.5 480.2 1213.8 128.1 1340.0 478.4 1466.3 480.2M1087.5 480.2 1213.8 127.5 1340.0 478.1 1466.3 480.2M1087.5 480.2 1213.8 98.4 1340.0 478.8 1466.3 480.2M1087.5 480.2 1213.8 118.8 1340.0 479.1 1466.3 480.2M1087.5 480.2 1213.8 112.2 1340.0 479.9 1466.3 480.2M1087.5 480.2 1213.8 144.9 1340.0 479.3 1466.3 480.2M1087.5 480.2 1213.8 127.7 1340.0 479.0 1466.3 480.2M1087.5 480.2 1213.8 140.8 1340.0 479.3 1466.3 480.2M1087.5 480.2 1213.8 146.1 1340.0 479.3 1466.3 480.2M1087.5 480.2 1213.8 144.9 1340.0 479.4 1466.3 480.2M1087.5 480.2 1213.8 162.3 1340.0 479.8 1466.3 480.2M1087.5 480.2 1213.8 160.0 1340.0 479.7 1466.3 480.2M1087.5 480.2 1213.8 117.7 1340.0 479.1 1466.3 480.2M1087.5 480.2 1213.8 116.5 1340.0 479.1 1466.3 480.2M1087.5 480.2 1213.8 137.3 1340.0 479.8 1466.3 480.2M1087.5 480.2 1213.8 125.7 1340.0 479.2 1466.3 480.2M1087.5 480.2 1213.8 137.0 1340.0 478.9 1466.3 480.2M1087.5 480.2 1213.8 140.8 1340.0 478.6 1466.3 480.2M1087.5 480.2 1213.8 133.3 1340.0 478.8 1466.3 480.2M1087.5 480.2 1213.8 123.4 1340.0 479.9 1466.3 480.2M1087.5 480.2 1213.8 147.0 1340.0 479.8 1466.3 480.2M1087.5 480.2 1213.8 120.7 1340.0 480.1 1466.3 480.2M1087.5 480.2 1213.8 129.4 1340.0 479.3 1466.3 480.2M1087.5 480.2 1213.8 132.6 1340.0 479.8 1466.3 480.2M1087.5 480.2 1213.8 111.7 1340.0 479.2 1466.3 480.2M1087.5 480.2 1213.8 123.4 1340.0 479.9 1466.3 480.2M1087.5 480.2 1213.8 120.1 1340.0 478.3 1466.3 480.2M1087.5 480.2 1213.8 109.1 1340.0 480.1 1466.3 480.2M1087.5 480.2 1213.8 135.8 1340.0 479.1 1466.3 480.2M1087.5 480.2 1213.8 140.5 1340.0 479.9 1466.3 480.2M1087.5 480.2 1213.8 159.4 1340.0 479.5 1466.3 480.2M1087.5 480.2 1213.8 161.4 1340.0 479.7 1466.3 480.2M1087.5 480.2 1213.8 119.7 1340.0 479.5 1466.3 480.2M1087.5 480.2 1213.8 129.3 1340.0 480.1 1466.3 480.2M1087.5 480.2 1213.8 109.1 1340.0 479.4 1466.3 480.2M1087.5 480.2 1213.8 139.5 1340.0 480.0 1466.3 480.2M1087.5 480.2 1213.8 145.2 1340.0 480.1 1466.3 480.2M1087.5 480.2 1213.8 148.3 1340.0 479.0 1466.3 480.2M1087.5 480.2 1213.8 120.4 1340.0 478.7 1466.3 480.2M1087.5 480.2 1213.8 133.3 1340.0 479.8 1466.3 480.2M1087.5 480.2 1213.8 154.4 1340.0 479.5 1466.3 480.2M1087.5 480.2 1213.8 146.7 1340.0 146.9 1466.3 480.2M1087.5 480.2 1213.8 139.6 1340.0 150.1 1466.3 480.2M1087.5 480.2 1213.8 119.2 1340.0 146.5 1466.3 480.2M1087.5 480.2 1213.8 132.9 1340.0 144.8 1466.3 480.2M1087.5 480.2 1213.8 137.9 1340.0 148.2 1466.3 480.2M1087.5 480.2 1213.8 147.1 1340.0 149.1 1466.3 480.2M1087.5 480.2 1213.8 125.8 1340.0 155.9 1466.3 480.2M1087.5 480.2 1213.8 133.5 1340.0 149.5 1466.3 480.2M1087.5 480.2 1213.8 137.9 1340.0 141.3 1466.3 480.2M1087.5 480.2 1213.8 135.9 1340.0 149.0 1466.3 480.2M1087.5 480.2 1213.8 115.3 1340.0 150.7 1466.3 480.2M1087.5 480.2 1213.8 139.3 1340.0 146.0 1466.3 480.2M1087.5 480.2 1213.8 115.3 1340.0 150.0 1466.3 480.2M1087.5 480.2 1213.8 121.1 1340.0 153.5 1466.3 480.2M1087.5 480.2 1213.8 136.5 1340.0 154.9 1466.3 480.2M1087.5 480.2 1213.8 125.7 1340.0 152.7 1466.3 480.2M1087.5 480.2 1213.8 138.8 1340.0 156.2 1466.3 480.2M1087.5 480.2 1213.8 148.0 1340.0 152.6 1466.3 480.2M1087.5 480.2 1213.8 140.7 1340.0 152.7 1466.3 480.2M1087.5 480.2 1213.8 149.0 1340.0 150.7 1466.3 480.2M1087.5 480.2 1213.8 57.5 1340.0 480.2 1466.3 480.2M1087.5 480.2 1213.8 79.7 1340.0 480.2 1466.3 480.2M1087.5 480.2 1213.8 85.3 1340.0 480.2 1466.3 480.2" fill="none" stroke="#d3d3d3" stroke-width="1.15" stroke-linejoin="miter" stroke-miterlimit="20"/>
<polyline points="1087.5,480.2 1213.8,145.7 1340.0,456.1 1466.3,480.2" fill="none" stroke="#1414e6" stroke-width="1.8"/>
<circle cx="1086.1" cy="480.2" r="1.8" fill="#1414e6"/>
<circle cx="1212.4" cy="145.7" r="1.8" fill="#1414e6"/>
<circle cx="1338.6" cy="456.1" r="1.8" fill="#1414e6"/>
<circle cx="1464.9" cy="480.2" r="1.8" fill="#1414e6"/>
<line x1="1087.5" y1="480.2" x2="1466.3" y2="480.2" stroke="#e63232" stroke-width="1.9"/>
</g>
<rect x="1072.3" y="41.2" width="409.2" height="455.6" fill="none" stroke="#262626" stroke-width="1.6"/>
<line x1="1087.5" y1="496.8" x2="1087.5" y2="505.1" stroke="#262626" stroke-width="1.6"/>
<text transform="translate(1087.9 525.2) scale(1 1.04)" text-anchor="middle" class="xl">YG2C</text>
<line x1="1213.8" y1="496.8" x2="1213.8" y2="505.1" stroke="#262626" stroke-width="1.6"/>
<text transform="translate(1211.9 525.2) scale(1 1.04)" text-anchor="middle" class="xl">YG2T</text>
<line x1="1340.0" y1="496.8" x2="1340.0" y2="505.1" stroke="#262626" stroke-width="1.6"/>
<text transform="translate(1338.4 525.2) scale(1 1.04)" text-anchor="middle" class="xl">An04C</text>
<line x1="1466.3" y1="496.8" x2="1466.3" y2="505.1" stroke="#262626" stroke-width="1.6"/>
<text transform="translate(1463.1 525.2) scale(1 1.04)" text-anchor="middle" class="xl">An04T</text>
<line x1="1064.8" y1="480.2" x2="1072.3" y2="480.2" stroke="#262626" stroke-width="1.6"/>
<text transform="translate(1058.1 489.0) scale(0.875 1.0)" text-anchor="end" class="yt">0</text>
<line x1="1064.8" y1="387.5" x2="1072.3" y2="387.5" stroke="#262626" stroke-width="1.6"/>
<text transform="translate(1058.1 396.3) scale(0.875 1.0)" text-anchor="end" class="yt">5</text>
<line x1="1064.8" y1="294.8" x2="1072.3" y2="294.8" stroke="#262626" stroke-width="1.6"/>
<text transform="translate(1058.1 303.6) scale(0.875 1.0)" text-anchor="end" class="yt">10</text>
<line x1="1064.8" y1="202.1" x2="1072.3" y2="202.1" stroke="#262626" stroke-width="1.6"/>
<text transform="translate(1058.1 210.9) scale(0.875 1.0)" text-anchor="end" class="yt">15</text>
<line x1="1064.8" y1="109.4" x2="1072.3" y2="109.4" stroke="#262626" stroke-width="1.6"/>
<text transform="translate(1058.1 118.2) scale(0.875 1.0)" text-anchor="end" class="yt">20</text>
<text transform="translate(1026.1 269.0) rotate(-90)" text-anchor="middle" class="yl" textLength="120.9" lengthAdjust="spacingAndGlyphs">log2(ratio)</text>
<text transform="translate(1108.1 26.6) scale(1 1)" class="tt" textLength="333.4" lengthAdjust="spacingAndGlyphs">Subcluster_3, 275 genes</text>
<clipPath id="c3"><rect x="1577.0" y="41.2" width="409.2" height="455.9"/></clipPath>
<g clip-path="url(#c3)">
<path d="M1592.2 135.3 1718.5 446.3 1844.7 133.7 1971.0 142.0M1592.2 135.3 1718.5 424.2 1844.7 117.1 1971.0 150.6M1592.2 135.3 1718.5 438.5 1844.7 89.5 1971.0 154.5M1592.2 135.3 1718.5 450.7 1844.7 119.1 1971.0 145.6M1592.2 135.3 1718.5 443.1 1844.7 120.2 1971.0 168.2M1592.2 135.3 1718.5 437.1 1844.7 119.6 1971.0 194.7M1592.2 135.3 1718.5 420.0 1844.7 127.2 1971.0 156.6M1592.2 135.3 1718.5 425.0 1844.7 118.5 1971.0 159.1M1592.2 135.3 1718.5 436.4 1844.7 126.6 1971.0 119.1M1592.2 135.3 1718.5 431.5 1844.7 122.0 1971.0 136.8M1592.2 135.3 1718.5 428.8 1844.7 131.4 1971.0 156.5M1592.2 135.3 1718.5 403.4 1844.7 132.9 1971.0 168.4M1592.2 135.3 1718.5 440.3 1844.7 116.5 1971.0 136.3M1592.2 135.3 1718.5 425.3 1844.7 139.6 1971.0 130.2M1592.2 135.3 1718.5 421.7 1844.7 107.9 1971.0 144.2M1592.2 135.3 1718.5 445.0 1844.7 111.3 1971.0 141.2M1592.2 135.3 1718.5 429.1 1844.7 124.7 1971.0 141.6M1592.2 135.3 1718.5 429.5 1844.7 128.6 1971.0 139.7M1592.2 135.3 1718.5 438.3 1844.7 139.6 1971.0 159.3M1592.2 135.3 1718.5 423.9 1844.7 124.6 1971.0 144.9M1592.2 135.3 1718.5 417.5 1844.7 103.7 1971.0 158.8M1592.2 135.3 1718.5 416.0 1844.7 134.1 1971.0 141.3M1592.2 135.3 1718.5 434.4 1844.7 133.3 1971.0 155.5M1592.2 135.3 1718.5 429.1 1844.7 137.3 1971.0 152.3M1592.2 135.3 1718.5 399.1 1844.7 133.8 1971.0 168.5M1592.2 135.3 1718.5 447.1 1844.7 112.6 1971.0 101.6M1592.2 135.3 1718.5 428.7 1844.7 116.1 1971.0 137.3M1592.2 135.3 1718.5 419.4 1844.7 136.9 1971.0 99.7M1592.2 135.3 1718.5 429.7 1844.7 114.8 1971.0 155.1M1592.2 135.3 1718.5 422.6 1844.7 142.5 1971.0 151.7M1592.2 135.3 1718.5 429.3 1844.7 112.9 1971.0 144.0M1592.2 135.3 1718.5 421.3 1844.7 163.7 1971.0 131.3M1592.2 135.3 1718.5 413.9 1844.7 138.5 1971.0 144.7M1592.2 135.3 1718.5 434.8 1844.7 124.4 1971.0 144.8M1592.2 135.3 1718.5 429.0 1844.7 133.0 1971.0 154.4M1592.2 135.3 1718.5 432.5 1844.7 131.2 1971.0 127.9M1592.2 135.3 1718.5 437.4 1844.7 115.8 1971.0 150.3M1592.2 135.3 1718.5 432.0 1844.7 113.2 1971.0 143.3M1592.2 135.3 1718.5 447.5 1844.7 125.5 1971.0 165.7M1592.2 135.3 1718.5 421.4 1844.7 134.6 1971.0 152.8M1592.2 135.3 1718.5 408.1 1844.7 114.7 1971.0 160.3M1592.2 135.3 1718.5 408.1 1844.7 117.1 1971.0 139.0M1592.2 135.3 1718.5 414.0 1844.7 135.1 1971.0 148.0M1592.2 135.3 1718.5 445.1 1844.7 116.2 1971.0 146.3M1592.2 135.3 1718.5 410.6 1844.7 131.9 1971.0 168.5M1592.2 135.3 1718.5 441.7 1844.7 139.0 1971.0 197.7M1592.2 135.3 1718.5 432.5 1844.7 126.7 1971.0 149.2M1592.2 135.3 1718.5 406.1 1844.7 119.1 1971.0 155.0M1592.2 135.3 1718.5 446.6 1844.7 115.3 1971.0 152.5M1592.2 135.3 1718.5 420.1 1844.7 123.0 1971.0 156.2M1592.2 135.3 1718.5 427.8 1844.7 122.8 1971.0 148.7M1592.2 135.3 1718.5 433.9 1844.7 108.0 1971.0 157.6M1592.2 135.3 1718.5 443.9 1844.7 133.8 1971.0 146.2M1592.2 135.3 1718.5 425.9 1844.7 125.4 1971.0 134.4M1592.2 135.3 1718.5 438.2 1844.7 116.4 1971.0 201.3M1592.2 135.3 1718.5 417.2 1844.7 130.7 1971.0 153.4M1592.2 135.3 1718.5 414.7 1844.7 128.7 1971.0 147.3M1592.2 135.3 1718.5 450.9 1844.7 128.9 1971.0 140.2M1592.2 135.3 1718.5 438.8 1844.7 151.0 1971.0 99.4M1592.2 135.3 1718.5 436.2 1844.7 141.9 1971.0 148.4M1592.2 135.3 1718.5 448.2 1844.7 131.4 1971.0 147.9M1592.2 135.3 1718.5 447.3 1844.7 127.7 1971.0 141.9M1592.2 135.3 1718.5 430.5 1844.7 120.5 1971.0 132.8M1592.2 135.3 1718.5 434.6 1844.7 133.7 1971.0 177.4M1592.2 135.3 1718.5 454.7 1844.7 141.4 1971.0 138.4M1592.2 135.3 1718.5 439.2 1844.7 123.1 1971.0 132.3M1592.2 135.3 1718.5 424.5 1844.7 126.1 1971.0 135.5M1592.2 135.3 1718.5 448.5 1844.7 126.2 1971.0 153.0M1592.2 135.3 1718.5 444.6 1844.7 122.3 1971.0 139.0M1592.2 135.3 1718.5 409.7 1844.7 128.2 1971.0 126.4M1592.2 135.3 1718.5 413.4 1844.7 129.0 1971.0 160.0M1592.2 135.3 1718.5 454.3 1844.7 133.2 1971.0 159.5M1592.2 135.3 1718.5 450.5 1844.7 111.9 1971.0 139.9M1592.2 135.3 1718.5 426.5 1844.7 131.1 1971.0 143.3M1592.2 135.3 1718.5 448.3 1844.7 137.8 1971.0 165.3M1592.2 135.3 1718.5 435.3 1844.7 131.2 1971.0 148.8M1592.2 135.3 1718.5 438.0 1844.7 138.3 1971.0 140.6M1592.2 135.3 1718.5 424.0 1844.7 137.1 1971.0 140.2M1592.2 135.3 1718.5 462.4 1844.7 124.2 1971.0 134.8M1592.2 135.3 1718.5 448.8 1844.7 138.6 1971.0 134.4M1592.2 135.3 1718.5 417.7 1844.7 131.3 1971.0 130.8M1592.2 135.3 1718.5 433.9 1844.7 129.9 1971.0 128.8M1592.2 135.3 1718.5 455.5 1844.7 136.7 1971.0 150.8M1592.2 135.3 1718.5 424.9 1844.7 129.8 1971.0 152.0M1592.2 135.3 1718.5 421.9 1844.7 144.9 1971.0 150.6M1592.2 135.3 1718.5 435.2 1844.7 127.9 1971.0 155.0M1592.2 135.3 1718.5 436.3 1844.7 134.9 1971.0 164.7M1592.2 135.3 1718.5 425.7 1844.7 136.8 1971.0 148.4M1592.2 135.3 1718.5 414.9 1844.7 98.0 1971.0 152.2M1592.2 135.3 1718.5 429.6 1844.7 128.2 1971.0 129.7M1592.2 135.3 1718.5 424.3 1844.7 122.4 1971.0 135.4M1592.2 135.3 1718.5 432.4 1844.7 126.7 1971.0 127.1M1592.2 135.3 1718.5 437.0 1844.7 134.3 1971.0 144.1M1592.2 135.3 1718.5 444.5 1844.7 137.8 1971.0 150.6M1592.2 135.3 1718.5 428.2 1844.7 135.5 1971.0 143.6M1592.2 135.3 1718.5 435.9 1844.7 133.9 1971.0 158.1M1592.2 135.3 1718.5 435.1 1844.7 138.6 1971.0 134.9M1592.2 135.3 1718.5 418.8 1844.7 144.7 1971.0 147.4M1592.2 135.3 1718.5 425.0 1844.7 127.3 1971.0 150.9M1592.2 135.3 1718.5 419.7 1844.7 123.0 1971.0 148.4M1592.2 135.3 1718.5 453.6 1844.7 123.1 1971.0 133.5M1592.2 135.3 1718.5 424.0 1844.7 125.3 1971.0 129.2M1592.2 135.3 1718.5 439.9 1844.7 119.7 1971.0 161.7M1592.2 135.3 1718.5 443.0 1844.7 137.0 1971.0 140.9M1592.2 135.3 1718.5 443.6 1844.7 123.7 1971.0 140.3M1592.2 135.3 1718.5 414.9 1844.7 116.6 1971.0 136.8M1592.2 135.3 1718.5 420.2 1844.7 161.3 1971.0 130.0M1592.2 135.3 1718.5 441.7 1844.7 145.1 1971.0 151.6M1592.2 135.3 1718.5 447.6 1844.7 119.8 1971.0 151.1M1592.2 135.3 1718.5 431.6 1844.7 145.1 1971.0 150.2M1592.2 135.3 1718.5 438.1 1844.7 93.7 1971.0 164.7M1592.2 135.3 1718.5 408.7 1844.7 123.0 1971.0 147.4M1592.2 135.3 1718.5 452.1 1844.7 134.6 1971.0 155.6M1592.2 135.3 1718.5 457.2 1844.7 124.6 1971.0 144.9M1592.2 135.3 1718.5 435.3 1844.7 115.5 1971.0 139.4M1592.2 135.3 1718.5 431.6 1844.7 121.1 1971.0 134.7M1592.2 135.3 1718.5 429.9 1844.7 107.5 1971.0 146.1M1592.2 135.3 1718.5 421.3 1844.7 128.6 1971.0 140.4M1592.2 135.3 1718.5 402.9 1844.7 126.9 1971.0 154.1M1592.2 135.3 1718.5 436.5 1844.7 130.2 1971.0 136.2M1592.2 135.3 1718.5 439.3 1844.7 122.9 1971.0 159.3M1592.2 135.3 1718.5 456.2 1844.7 148.2 1971.0 141.1M1592.2 135.3 1718.5 428.4 1844.7 107.6 1971.0 148.7M1592.2 135.3 1718.5 419.9 1844.7 114.5 1971.0 152.8M1592.2 135.3 1718.5 435.4 1844.7 130.6 1971.0 134.1M1592.2 135.3 1718.5 415.3 1844.7 123.4 1971.0 146.5M1592.2 135.3 1718.5 431.3 1844.7 124.3 1971.0 159.0M1592.2 135.3 1718.5 410.7 1844.7 124.7 1971.0 166.7M1592.2 135.3 1718.5 427.1 1844.7 112.7 1971.0 163.8M1592.2 135.3 1718.5 446.4 1844.7 110.3 1971.0 131.6M1592.2 135.3 1718.5 440.6 1844.7 124.5 1971.0 173.3M1592.2 135.3 1718.5 453.1 1844.7 122.8 1971.0 114.9M1592.2 135.3 1718.5 455.9 1844.7 125.0 1971.0 147.3M1592.2 135.3 1718.5 428.0 1844.7 125.5 1971.0 144.6M1592.2 135.3 1718.5 419.7 1844.7 126.5 1971.0 155.3M1592.2 135.3 1718.5 404.6 1844.7 126.4 1971.0 172.1M1592.2 135.3 1718.5 432.5 1844.7 127.1 1971.0 155.3M1592.2 135.3 1718.5 435.0 1844.7 120.9 1971.0 162.8M1592.2 135.3 1718.5 447.2 1844.7 124.1 1971.0 131.1M1592.2 135.3 1718.5 418.0 1844.7 112.1 1971.0 145.7M1592.2 135.3 1718.5 426.3 1844.7 153.8 1971.0 137.5M1592.2 135.3 1718.5 440.0 1844.7 122.7 1971.0 147.2M1592.2 135.3 1718.5 422.2 1844.7 139.8 1971.0 156.3M1592.2 135.3 1718.5 423.9 1844.7 146.7 1971.0 143.4M1592.2 135.3 1718.5 457.7 1844.7 125.3 1971.0 126.0M1592.2 135.3 1718.5 421.4 1844.7 124.6 1971.0 153.7M1592.2 135.3 1718.5 429.9 1844.7 132.9 1971.0 148.3M1592.2 135.3 1718.5 437.2 1844.7 112.6 1971.0 134.8M1592.2 135.3 1718.5 437.5 1844.7 123.9 1971.0 158.4M1592.2 135.3 1718.5 407.5 1844.7 129.5 1971.0 148.0M1592.2 135.3 1718.5 410.4 1844.7 133.6 1971.0 147.8M1592.2 135.3 1718.5 406.4 1844.7 137.1 1971.0 144.4M1592.2 135.3 1718.5 447.7 1844.7 122.5 1971.0 135.6M1592.2 135.3 1718.5 440.8 1844.7 139.8 1971.0 136.4M1592.2 135.3 1718.5 419.2 1844.7 122.9 1971.0 148.8M1592.2 135.3 1718.5 448.5 1844.7 113.0 1971.0 148.0M1592.2 135.3 1718.5 441.8 1844.7 114.9 1971.0 153.7M1592.2 135.3 1718.5 456.8 1844.7 117.2 1971.0 143.7M1592.2 135.3 1718.5 406.0 1844.7 120.4 1971.0 144.6M1592.2 135.3 1718.5 417.0 1844.7 105.8 1971.0 148.5M1592.2 135.3 1718.5 425.4 1844.7 132.1 1971.0 95.4M1592.2 135.3 1718.5 428.7 1844.7 116.8 1971.0 157.3M1592.2 135.3 1718.5 437.5 1844.7 145.0 1971.0 157.1M1592.2 135.3 1718.5 437.3 1844.7 132.4 1971.0 140.0M1592.2 135.3 1718.5 423.2 1844.7 130.3 1971.0 144.9M1592.2 135.3 1718.5 441.6 1844.7 136.0 1971.0 130.5M1592.2 135.3 1718.5 414.7 1844.7 118.3 1971.0 132.0M1592.2 135.3 1718.5 438.6 1844.7 131.9 1971.0 155.5M1592.2 135.3 1718.5 443.9 1844.7 135.0 1971.0 151.1M1592.2 135.3 1718.5 413.7 1844.7 130.9 1971.0 148.9M1592.2 135.3 1718.5 433.7 1844.7 137.2 1971.0 148.2M1592.2 135.3 1718.5 424.0 1844.7 124.9 1971.0 166.2M1592.2 135.3 1718.5 437.5 1844.7 135.1 1971.0 151.1M1592.2 135.3 1718.5 463.0 1844.7 100.0 1971.0 136.9M1592.2 135.3 1718.5 424.1 1844.7 137.1 1971.0 136.5M1592.2 135.3 1718.5 450.5 1844.7 87.9 1971.0 125.8M1592.2 135.3 1718.5 416.7 1844.7 126.3 1971.0 136.5M1592.2 135.3 1718.5 453.3 1844.7 135.0 1971.0 145.5M1592.2 135.3 1718.5 457.7 1844.7 131.1 1971.0 145.2M1592.2 135.3 1718.5 427.5 1844.7 118.7 1971.0 147.2M1592.2 135.3 1718.5 425.8 1844.7 118.0 1971.0 146.2M1592.2 135.3 1718.5 430.3 1844.7 137.8 1971.0 142.9M1592.2 135.3 1718.5 448.6 1844.7 115.4 1971.0 137.7M1592.2 135.3 1718.5 419.4 1844.7 120.0 1971.0 144.0M1592.2 135.3 1718.5 452.1 1844.7 117.2 1971.0 156.3M1592.2 135.3 1718.5 438.2 1844.7 131.1 1971.0 144.6M1592.2 135.3 1718.5 442.7 1844.7 144.4 1971.0 154.9M1592.2 135.3 1718.5 437.0 1844.7 138.8 1971.0 157.0M1592.2 135.3 1718.5 419.9 1844.7 121.9 1971.0 143.0M1592.2 135.3 1718.5 440.6 1844.7 120.1 1971.0 130.4M1592.2 135.3 1718.5 423.9 1844.7 117.3 1971.0 159.2M1592.2 135.3 1718.5 422.1 1844.7 119.1 1971.0 140.9M1592.2 135.3 1718.5 455.5 1844.7 134.4 1971.0 146.3M1592.2 135.3 1718.5 448.0 1844.7 145.8 1971.0 153.9M1592.2 135.3 1718.5 437.1 1844.7 111.6 1971.0 162.6M1592.2 135.3 1718.5 440.0 1844.7 90.1 1971.0 155.7M1592.2 135.3 1718.5 427.5 1844.7 125.9 1971.0 158.3M1592.2 135.3 1718.5 458.6 1844.7 125.9 1971.0 152.8M1592.2 135.3 1718.5 421.7 1844.7 143.6 1971.0 130.3M1592.2 135.3 1718.5 421.4 1844.7 112.8 1971.0 156.8M1592.2 135.3 1718.5 434.1 1844.7 132.9 1971.0 143.2M1592.2 135.3 1718.5 451.0 1844.7 136.1 1971.0 161.6M1592.2 135.3 1718.5 431.7 1844.7 125.4 1971.0 150.9M1592.2 135.3 1718.5 439.2 1844.7 136.4 1971.0 144.1M1592.2 135.3 1718.5 423.9 1844.7 141.9 1971.0 146.5M1592.2 135.3 1718.5 432.9 1844.7 125.7 1971.0 164.5M1592.2 135.3 1718.5 421.6 1844.7 120.8 1971.0 132.6M1592.2 135.3 1718.5 437.8 1844.7 126.9 1971.0 146.1M1592.2 135.3 1718.5 411.7 1844.7 111.6 1971.0 152.7M1592.2 135.3 1718.5 463.8 1844.7 129.6 1971.0 151.4M1592.2 135.3 1718.5 445.9 1844.7 136.8 1971.0 149.2M1592.2 135.3 1718.5 424.9 1844.7 138.5 1971.0 138.9M1592.2 135.3 1718.5 452.7 1844.7 121.8 1971.0 153.4M1592.2 135.3 1718.5 421.5 1844.7 134.7 1971.0 147.2M1592.2 135.3 1718.5 448.7 1844.7 125.0 1971.0 154.9M1592.2 135.3 1718.5 430.5 1844.7 131.3 1971.0 153.3M1592.2 135.3 1718.5 444.5 1844.7 134.5 1971.0 151.4M1592.2 135.3 1718.5 437.9 1844.7 113.9 1971.0 154.2M1592.2 135.3 1718.5 429.3 1844.7 135.1 1971.0 147.2M1592.2 135.3 1718.5 433.2 1844.7 133.5 1971.0 160.2M1592.2 135.3 1718.5 437.0 1844.7 143.0 1971.0 148.3M1592.2 135.3 1718.5 401.8 1844.7 136.2 1971.0 162.4M1592.2 135.3 1718.5 431.6 1844.7 129.4 1971.0 136.8M1592.2 135.3 1718.5 445.2 1844.7 114.8 1971.0 161.7M1592.2 135.3 1718.5 418.9 1844.7 129.8 1971.0 157.9M1592.2 135.3 1718.5 420.3 1844.7 147.4 1971.0 147.4M1592.2 135.3 1718.5 414.8 1844.7 132.1 1971.0 140.4M1592.2 135.3 1718.5 406.9 1844.7 122.9 1971.0 151.6M1592.2 135.3 1718.5 444.8 1844.7 115.4 1971.0 149.9M1592.2 135.3 1718.5 417.0 1844.7 129.7 1971.0 155.7M1592.2 135.3 1718.5 415.9 1844.7 118.7 1971.0 145.3M1592.2 135.3 1718.5 431.7 1844.7 115.8 1971.0 160.8M1592.2 135.3 1718.5 428.3 1844.7 105.4 1971.0 149.1M1592.2 135.3 1718.5 439.7 1844.7 135.2 1971.0 142.1M1592.2 135.3 1718.5 406.9 1844.7 119.8 1971.0 142.0M1592.2 135.3 1718.5 456.6 1844.7 141.3 1971.0 161.6M1592.2 135.3 1718.5 439.2 1844.7 105.9 1971.0 157.9M1592.2 135.3 1718.5 427.7 1844.7 142.1 1971.0 151.4M1592.2 135.3 1718.5 423.7 1844.7 123.0 1971.0 142.9M1592.2 135.3 1718.5 409.1 1844.7 118.0 1971.0 150.7M1592.2 135.3 1718.5 456.2 1844.7 126.7 1971.0 134.4M1592.2 135.3 1718.5 431.2 1844.7 113.5 1971.0 196.2M1592.2 135.3 1718.5 419.8 1844.7 133.0 1971.0 165.0M1592.2 135.3 1718.5 450.0 1844.7 116.3 1971.0 147.3M1592.2 135.3 1718.5 432.3 1844.7 135.7 1971.0 120.7M1592.2 135.3 1718.5 405.6 1844.7 125.2 1971.0 166.4M1592.2 135.3 1718.5 413.5 1844.7 110.0 1971.0 161.5M1592.2 135.3 1718.5 424.3 1844.7 131.7 1971.0 136.7M1592.2 135.3 1718.5 433.6 1844.7 125.8 1971.0 128.9M1592.2 135.3 1718.5 426.4 1844.7 105.8 1971.0 163.4M1592.2 135.3 1718.5 436.0 1844.7 128.7 1971.0 137.0M1592.2 135.3 1718.5 432.7 1844.7 128.7 1971.0 102.6M1592.2 135.3 1718.5 434.7 1844.7 131.9 1971.0 129.5M1592.2 135.3 1718.5 445.2 1844.7 120.5 1971.0 153.1M1592.2 135.3 1718.5 428.4 1844.7 122.0 1971.0 157.8M1592.2 135.3 1718.5 436.1 1844.7 104.1 1971.0 142.0M1592.2 135.3 1718.5 436.1 1844.7 116.7 1971.0 158.8M1592.2 135.3 1718.5 433.0 1844.7 147.6 1971.0 145.8M1592.2 135.3 1718.5 421.0 1844.7 117.8 1971.0 143.3M1592.2 135.3 1718.5 428.4 1844.7 131.5 1971.0 110.7M1592.2 135.3 1718.5 448.4 1844.7 113.4 1971.0 155.5M1592.2 135.3 1718.5 433.6 1844.7 134.8 1971.0 136.4M1592.2 135.3 1718.5 425.2 1844.7 125.2 1971.0 185.4M1592.2 135.3 1718.5 438.2 1844.7 114.1 1971.0 130.6M1592.2 135.3 1718.5 415.8 1844.7 127.6 1971.0 140.8M1592.2 135.3 1718.5 420.9 1844.7 115.3 1971.0 134.4M1592.2 135.3 1718.5 445.5 1844.7 126.8 1971.0 126.6M1592.2 135.3 1718.5 427.3 1844.7 139.3 1971.0 122.7M1592.2 135.3 1718.5 404.2 1844.7 118.4 1971.0 169.1M1592.2 135.3 1718.5 410.1 1844.7 110.9 1971.0 167.9M1592.2 135.3 1718.5 432.5 1844.7 142.2 1971.0 133.9M1592.2 135.3 1718.5 419.3 1844.7 124.2 1971.0 147.2M1592.2 135.3 1718.5 441.1 1844.7 125.3 1971.0 160.3M1592.2 135.3 1718.5 451.9 1844.7 145.8 1971.0 141.8M1592.2 135.3 1718.5 424.0 1844.7 123.4 1971.0 115.6M1592.2 135.3 1718.5 428.3 1844.7 116.6 1971.0 141.6M1592.2 135.3 1718.5 424.6 1844.7 151.8 1971.0 138.3M1592.2 135.3 1718.5 432.1 1844.7 126.9 1971.0 134.2M1592.2 135.3 1718.5 427.2 1844.7 121.8 1971.0 152.9M1592.2 135.3 1718.5 438.9 1844.7 118.2 1971.0 144.3M1592.2 135.3 1718.5 425.2 1844.7 120.1 1971.0 146.3M1592.2 135.3 1718.5 420.2 1844.7 129.8 1971.0 147.4M1592.2 135.3 1718.5 432.6 1844.7 124.9 1971.0 133.5M1592.2 135.3 1718.5 420.4 1844.7 131.1 1971.0 163.9M1592.2 135.3 1718.5 456.4 1844.7 126.7 1971.0 146.7M1592.2 135.3 1718.5 442.7 1844.7 118.1 1971.0 159.5M1592.2 135.3 1718.5 411.7 1844.7 130.2 1971.0 196.2M1592.2 135.3 1718.5 407.3 1844.7 110.6 1971.0 161.1M1592.2 135.3 1718.5 428.3 1844.7 139.0 1971.0 151.8M1592.2 135.3 1718.5 433.2 1844.7 128.7 1971.0 146.7M1592.2 135.3 1718.5 449.4 1844.7 126.8 1971.0 161.0M1592.2 135.3 1718.5 426.7 1844.7 113.3 1971.0 133.5M1592.2 135.3 1718.5 420.9 1844.7 123.4 1971.0 147.6M1592.2 135.3 1718.5 452.3 1844.7 126.8 1971.0 149.3M1592.2 135.3 1718.5 424.0 1844.7 130.2 1971.0 202.2M1592.2 135.3 1718.5 424.9 1844.7 136.5 1971.0 166.3M1592.2 135.3 1718.5 425.6 1844.7 126.8 1971.0 146.7M1592.2 135.3 1718.5 447.4 1844.7 143.8 1971.0 141.3M1592.2 135.3 1718.5 424.2 1844.7 130.3 1971.0 154.8M1592.2 135.3 1718.5 452.6 1844.7 126.2 1971.0 162.1M1592.2 135.3 1718.5 411.1 1844.7 119.5 1971.0 146.5M1592.2 135.3 1718.5 429.9 1844.7 117.6 1971.0 147.8M1592.2 135.3 1718.5 447.9 1844.7 122.4 1971.0 161.6M1592.2 135.3 1718.5 413.1 1844.7 121.5 1971.0 151.3M1592.2 135.3 1718.5 415.7 1844.7 105.9 1971.0 156.2M1592.2 135.3 1718.5 440.8 1844.7 125.5 1971.0 148.6M1592.2 135.3 1718.5 401.1 1844.7 121.5 1971.0 152.3M1592.2 135.3 1718.5 445.7 1844.7 132.5 1971.0 135.2M1592.2 135.3 1718.5 427.4 1844.7 122.0 1971.0 128.4M1592.2 135.3 1718.5 415.3 1844.7 129.8 1971.0 166.4M1592.2 135.3 1718.5 463.3 1844.7 122.9 1971.0 133.1M1592.2 135.3 1718.5 417.8 1844.7 127.3 1971.0 148.4M1592.2 135.3 1718.5 432.6 1844.7 123.7 1971.0 135.1M1592.2 135.3 1718.5 432.0 1844.7 145.5 1971.0 147.9M1592.2 135.3 1718.5 446.7 1844.7 132.7 1971.0 150.8M1592.2 135.3 1718.5 427.1 1844.7 142.5 1971.0 133.2M1592.2 135.3 1718.5 447.2 1844.7 137.3 1971.0 151.3M1592.2 135.3 1718.5 445.2 1844.7 107.5 1971.0 140.7M1592.2 135.3 1718.5 438.0 1844.7 148.9 1971.0 195.3M1592.2 135.3 1718.5 448.8 1844.7 124.5 1971.0 137.9M1592.2 135.3 1718.5 409.9 1844.7 125.5 1971.0 144.1M1592.2 135.3 1718.5 450.2 1844.7 119.4 1971.0 153.5M1592.2 135.3 1718.5 442.2 1844.7 124.1 1971.0 171.1M1592.2 135.3 1718.5 436.1 1844.7 110.6 1971.0 136.9M1592.2 135.3 1718.5 431.7 1844.7 116.3 1971.0 160.6M1592.2 135.3 1718.5 420.7 1844.7 140.3 1971.0 138.9M1592.2 135.3 1718.5 420.4 1844.7 138.6 1971.0 164.1M1592.2 135.3 1718.5 436.0 1844.7 122.9 1971.0 134.3M1592.2 135.3 1718.5 437.1 1844.7 127.0 1971.0 149.5M1592.2 135.3 1718.5 431.3 1844.7 127.4 1971.0 166.1M1592.2 135.3 1718.5 420.3 1844.7 130.3 1971.0 160.6M1592.2 135.3 1718.5 422.1 1844.7 119.0 1971.0 153.3M1592.2 135.3 1718.5 438.9 1844.7 130.0 1971.0 141.7M1592.2 135.3 1718.5 460.4 1844.7 119.7 1971.0 165.9M1592.2 135.3 1718.5 402.0 1844.7 135.2 1971.0 141.8M1592.2 135.3 1718.5 418.5 1844.7 134.2 1971.0 156.6M1592.2 135.3 1718.5 428.1 1844.7 146.9 1971.0 158.2M1592.2 135.3 1718.5 427.0 1844.7 145.8 1971.0 155.6M1592.2 135.3 1718.5 439.0 1844.7 135.4 1971.0 130.5M1592.2 135.3 1718.5 445.7 1844.7 125.1 1971.0 138.6M1592.2 135.3 1718.5 436.4 1844.7 127.3 1971.0 150.0M1592.2 135.3 1718.5 434.8 1844.7 135.8 1971.0 143.3M1592.2 135.3 1718.5 440.4 1844.7 146.9 1971.0 159.1M1592.2 135.3 1718.5 452.0 1844.7 123.4 1971.0 146.4M1592.2 135.3 1718.5 436.1 1844.7 147.1 1971.0 129.4M1592.2 135.3 1718.5 423.7 1844.7 134.2 1971.0 145.7M1592.2 135.3 1718.5 438.6 1844.7 125.7 1971.0 147.1M1592.2 135.3 1718.5 431.4 1844.7 132.6 1971.0 149.2M1592.2 135.3 1718.5 460.5 1844.7 131.4 1971.0 143.3M1592.2 135.3 1718.5 434.6 1844.7 114.2 1971.0 144.1M1592.2 135.3 1718.5 433.4 1844.7 127.3 1971.0 150.0M1592.2 135.3 1718.5 448.8 1844.7 141.6 1971.0 149.3M1592.2 135.3 1718.5 455.8 1844.7 123.7 1971.0 163.0M1592.2 135.3 1718.5 426.0 1844.7 140.0 1971.0 150.7M1592.2 135.3 1718.5 443.0 1844.7 149.4 1971.0 152.4M1592.2 135.3 1718.5 425.0 1844.7 138.2 1971.0 136.2M1592.2 135.3 1718.5 437.6 1844.7 126.2 1971.0 132.0M1592.2 135.3 1718.5 423.1 1844.7 143.0 1971.0 148.7M1592.2 135.3 1718.5 436.5 1844.7 123.3 1971.0 148.8M1592.2 135.3 1718.5 452.7 1844.7 131.1 1971.0 149.2M1592.2 135.3 1718.5 432.9 1844.7 145.1 1971.0 165.8M1592.2 135.3 1718.5 436.3 1844.7 137.5 1971.0 165.1M1592.2 135.3 1718.5 422.6 1844.7 137.5 1971.0 152.9M1592.2 135.3 1718.5 438.0 1844.7 125.6 1971.0 137.4M1592.2 135.3 1718.5 437.2 1844.7 128.6 1971.0 131.9M1592.2 135.3 1718.5 419.8 1844.7 136.8 1971.0 158.7M1592.2 135.3 1718.5 415.5 1844.7 146.1 1971.0 162.1M1592.2 135.3 1718.5 421.2 1844.7 129.1 1971.0 157.7M1592.2 135.3 1718.5 417.3 1844.7 121.9 1971.0 159.9M1592.2 135.3 1718.5 425.4 1844.7 116.3 1971.0 161.6M1592.2 135.3 1718.5 421.0 1844.7 123.3 1971.0 157.7M1592.2 135.3 1718.5 419.5 1844.7 124.1 1971.0 123.2M1592.2 135.3 1718.5 426.1 1844.7 131.0 1971.0 146.4M1592.2 135.3 1718.5 430.9 1844.7 133.4 1971.0 137.2M1592.2 135.3 1718.5 429.8 1844.7 118.9 1971.0 146.7M1592.2 135.3 1718.5 398.3 1844.7 113.9 1971.0 148.8M1592.2 135.3 1718.5 431.6 1844.7 128.9 1971.0 151.5M1592.2 135.3 1718.5 435.0 1844.7 126.1 1971.0 153.6M1592.2 135.3 1718.5 436.8 1844.7 132.9 1971.0 170.2M1592.2 135.3 1718.5 432.2 1844.7 126.7 1971.0 156.6M1592.2 135.3 1718.5 428.4 1844.7 127.4 1971.0 125.7M1592.2 135.3 1718.5 447.5 1844.7 126.0 1971.0 110.8M1592.2 135.3 1718.5 459.3 1844.7 144.9 1971.0 150.8M1592.2 135.3 1718.5 427.6 1844.7 134.4 1971.0 171.2M1592.2 135.3 1718.5 454.1 1844.7 128.0 1971.0 164.7M1592.2 135.3 1718.5 428.2 1844.7 128.2 1971.0 140.5M1592.2 135.3 1718.5 429.8 1844.7 144.7 1971.0 151.5M1592.2 135.3 1718.5 415.7 1844.7 144.4 1971.0 135.3M1592.2 135.3 1718.5 408.5 1844.7 114.1 1971.0 139.1M1592.2 135.3 1718.5 426.6 1844.7 120.1 1971.0 147.6M1592.2 135.3 1718.5 439.4 1844.7 122.0 1971.0 166.0M1592.2 135.3 1718.5 448.1 1844.7 114.1 1971.0 150.4M1592.2 135.3 1718.5 442.8 1844.7 114.6 1971.0 145.9M1592.2 135.3 1718.5 431.2 1844.7 101.8 1971.0 139.7M1592.2 135.3 1718.5 460.5 1844.7 124.3 1971.0 149.2M1592.2 135.3 1718.5 430.7 1844.7 116.6 1971.0 162.1M1592.2 135.3 1718.5 431.9 1844.7 103.2 1971.0 164.1M1592.2 135.3 1718.5 422.8 1844.7 144.3 1971.0 163.8M1592.2 135.3 1718.5 436.4 1844.7 120.8 1971.0 140.5M1592.2 135.3 1718.5 430.3 1844.7 94.5 1971.0 146.3M1592.2 135.3 1718.5 442.0 1844.7 120.1 1971.0 163.2M1592.2 135.3 1718.5 438.2 1844.7 160.9 1971.0 137.8M1592.2 135.3 1718.5 456.4 1844.7 109.4 1971.0 156.1M1592.2 135.3 1718.5 430.0 1844.7 135.2 1971.0 137.9M1592.2 135.3 1718.5 410.2 1844.7 141.9 1971.0 133.6M1592.2 135.3 1718.5 429.5 1844.7 140.9 1971.0 140.7M1592.2 135.3 1718.5 426.7 1844.7 141.6 1971.0 144.5M1592.2 135.3 1718.5 445.4 1844.7 128.0 1971.0 141.0M1592.2 135.3 1718.5 411.9 1844.7 124.9 1971.0 139.7M1592.2 135.3 1718.5 442.4 1844.7 130.0 1971.0 130.8M1592.2 135.3 1718.5 420.6 1844.7 153.6 1971.0 146.5M1592.2 135.3 1718.5 430.3 1844.7 114.5 1971.0 152.4M1592.2 135.3 1718.5 445.1 1844.7 147.1 1971.0 148.0M1592.2 135.3 1718.5 417.5 1844.7 116.0 1971.0 150.3M1592.2 135.3 1718.5 431.5 1844.7 120.4 1971.0 160.6M1592.2 135.3 1718.5 429.3 1844.7 125.6 1971.0 153.9M1592.2 135.3 1718.5 425.5 1844.7 140.2 1971.0 145.0M1592.2 135.3 1718.5 432.0 1844.7 138.7 1971.0 129.7M1592.2 135.3 1718.5 437.0 1844.7 115.1 1971.0 154.6M1592.2 135.3 1718.5 425.3 1844.7 127.1 1971.0 150.3M1592.2 135.3 1718.5 437.4 1844.7 110.0 1971.0 157.3M1592.2 135.3 1718.5 430.8 1844.7 133.0 1971.0 140.4M1592.2 135.3 1718.5 441.0 1844.7 139.1 1971.0 163.2M1592.2 135.3 1718.5 452.5 1844.7 116.7 1971.0 144.9M1592.2 135.3 1718.5 441.1 1844.7 126.1 1971.0 159.1M1592.2 135.3 1718.5 438.6 1844.7 139.0 1971.0 147.9M1592.2 135.3 1718.5 431.5 1844.7 126.0 1971.0 143.5M1592.2 135.3 1718.5 415.3 1844.7 131.8 1971.0 144.9M1592.2 135.3 1718.5 455.2 1844.7 122.2 1971.0 143.7M1592.2 135.3 1718.5 430.0 1844.7 140.1 1971.0 158.0M1592.2 135.3 1718.5 462.5 1844.7 135.1 1971.0 128.9M1592.2 135.3 1718.5 446.3 1844.7 132.0 1971.0 160.6M1592.2 135.3 1718.5 438.8 1844.7 132.3 1971.0 151.9M1592.2 135.3 1718.5 463.1 1844.7 134.7 1971.0 132.6M1592.2 135.3 1718.5 457.6 1844.7 114.7 1971.0 150.9M1592.2 135.3 1718.5 429.6 1844.7 127.8 1971.0 146.6M1592.2 135.3 1718.5 430.7 1844.7 136.7 1971.0 162.1M1592.2 135.3 1718.5 433.3 1844.7 115.7 1971.0 149.5M1592.2 135.3 1718.5 442.9 1844.7 127.7 1971.0 153.4M1592.2 135.3 1718.5 401.8 1844.7 124.2 1971.0 152.8M1592.2 135.3 1718.5 434.0 1844.7 123.8 1971.0 143.0M1592.2 135.3 1718.5 443.7 1844.7 142.5 1971.0 133.7M1592.2 135.3 1718.5 408.4 1844.7 135.5 1971.0 155.7M1592.2 135.3 1718.5 423.2 1844.7 147.1 1971.0 134.3M1592.2 135.3 1718.5 436.9 1844.7 124.7 1971.0 146.3M1592.2 135.3 1718.5 415.2 1844.7 139.2 1971.0 144.7M1592.2 135.3 1718.5 429.6 1844.7 127.6 1971.0 173.6M1592.2 135.3 1718.5 422.8 1844.7 144.2 1971.0 155.1M1592.2 135.3 1718.5 428.5 1844.7 122.5 1971.0 153.6M1592.2 135.3 1718.5 446.0 1844.7 130.6 1971.0 135.3M1592.2 135.3 1718.5 418.3 1844.7 139.7 1971.0 138.7M1592.2 135.3 1718.5 429.5 1844.7 125.3 1971.0 139.5M1592.2 135.3 1718.5 445.8 1844.7 130.7 1971.0 160.1M1592.2 135.3 1718.5 442.3 1844.7 137.4 1971.0 164.2M1592.2 135.3 1718.5 418.5 1844.7 133.9 1971.0 162.0M1592.2 135.3 1718.5 436.9 1844.7 111.2 1971.0 155.3M1592.2 135.3 1718.5 431.1 1844.7 139.8 1971.0 143.7M1592.2 135.3 1718.5 422.7 1844.7 124.7 1971.0 158.8M1592.2 135.3 1718.5 430.0 1844.7 108.7 1971.0 132.1M1592.2 135.3 1718.5 453.0 1844.7 125.8 1971.0 148.3M1592.2 135.3 1718.5 422.9 1844.7 133.2 1971.0 158.8M1592.2 135.3 1718.5 418.7 1844.7 119.8 1971.0 140.7M1592.2 135.3 1718.5 419.7 1844.7 110.2 1971.0 135.9M1592.2 135.3 1718.5 409.3 1844.7 119.5 1971.0 153.7M1592.2 135.3 1718.5 426.7 1844.7 117.7 1971.0 137.1M1592.2 135.3 1718.5 421.0 1844.7 137.4 1971.0 138.9M1592.2 135.3 1718.5 409.7 1844.7 122.4 1971.0 151.6M1592.2 135.3 1718.5 435.8 1844.7 122.7 1971.0 142.5M1592.2 135.3 1718.5 407.6 1844.7 129.3 1971.0 141.7M1592.2 135.3 1718.5 407.6 1844.7 143.2 1971.0 141.6M1592.2 135.3 1718.5 420.9 1844.7 112.2 1971.0 157.2M1592.2 135.3 1718.5 406.2 1844.7 141.2 1971.0 143.2M1592.2 135.3 1718.5 419.9 1844.7 133.8 1971.0 145.5M1592.2 135.3 1718.5 444.0 1844.7 137.0 1971.0 150.7M1592.2 135.3 1718.5 415.9 1844.7 137.9 1971.0 154.2M1592.2 135.3 1718.5 427.2 1844.7 136.1 1971.0 150.1M1592.2 135.3 1718.5 426.0 1844.7 132.0 1971.0 146.7M1592.2 135.3 1718.5 429.6 1844.7 107.9 1971.0 147.5M1592.2 135.3 1718.5 412.9 1844.7 144.4 1971.0 146.3M1592.2 135.3 1718.5 424.1 1844.7 132.8 1971.0 142.2M1592.2 135.3 1718.5 441.4 1844.7 130.9 1971.0 148.6M1592.2 135.3 1718.5 425.0 1844.7 109.5 1971.0 144.3M1592.2 135.3 1718.5 421.6 1844.7 158.3 1971.0 161.5M1592.2 135.3 1718.5 441.8 1844.7 109.7 1971.0 148.8M1592.2 135.3 1718.5 437.8 1844.7 128.5 1971.0 145.5M1592.2 135.3 1718.5 437.1 1844.7 152.3 1971.0 135.1M1592.2 135.3 1718.5 440.2 1844.7 119.6 1971.0 149.5M1592.2 135.3 1718.5 426.9 1844.7 116.2 1971.0 142.8M1592.2 135.3 1718.5 417.6 1844.7 111.8 1971.0 161.6M1592.2 135.3 1718.5 405.5 1844.7 112.9 1971.0 165.3M1592.2 135.3 1718.5 415.1 1844.7 119.8 1971.0 154.7M1592.2 135.3 1718.5 417.5 1844.7 136.6 1971.0 155.3M1592.2 135.3 1718.5 415.9 1844.7 116.3 1971.0 149.0M1592.2 135.3 1718.5 413.2 1844.7 139.6 1971.0 145.6M1592.2 135.3 1718.5 437.0 1844.7 122.5 1971.0 160.5M1592.2 135.3 1718.5 422.1 1844.7 111.9 1971.0 148.5M1592.2 135.3 1718.5 427.3 1844.7 127.5 1971.0 143.2M1592.2 135.3 1718.5 433.5 1844.7 125.0 1971.0 143.2M1592.2 135.3 1718.5 438.1 1844.7 122.4 1971.0 157.8M1592.2 135.3 1718.5 438.8 1844.7 135.6 1971.0 152.0M1592.2 135.3 1718.5 435.5 1844.7 139.5 1971.0 129.6M1592.2 135.3 1718.5 448.9 1844.7 157.4 1971.0 152.5M1592.2 135.3 1718.5 424.5 1844.7 127.2 1971.0 130.8M1592.2 135.3 1718.5 432.1 1844.7 91.1 1971.0 181.9M1592.2 135.3 1718.5 430.3 1844.7 135.7 1971.0 143.5M1592.2 135.3 1718.5 427.0 1844.7 132.9 1971.0 142.1M1592.2 135.3 1718.5 421.7 1844.7 122.7 1971.0 154.6M1592.2 135.3 1718.5 440.0 1844.7 122.0 1971.0 161.0M1592.2 135.3 1718.5 433.2 1844.7 141.0 1971.0 157.2M1592.2 135.3 1718.5 454.1 1844.7 115.6 1971.0 154.8M1592.2 135.3 1718.5 462.6 1844.7 139.1 1971.0 146.6M1592.2 135.3 1718.5 458.7 1844.7 146.6 1971.0 146.3M1592.2 135.3 1718.5 410.4 1844.7 122.6 1971.0 136.0M1592.2 135.3 1718.5 457.1 1844.7 143.4 1971.0 143.2M1592.2 135.3 1718.5 425.2 1844.7 145.3 1971.0 89.6M1592.2 135.3 1718.5 411.2 1844.7 135.9 1971.0 151.1M1592.2 135.3 1718.5 438.1 1844.7 120.2 1971.0 131.1M1592.2 135.3 1718.5 409.1 1844.7 142.8 1971.0 160.4M1592.2 135.3 1718.5 406.1 1844.7 131.1 1971.0 133.5M1592.2 135.3 1718.5 418.6 1844.7 146.0 1971.0 145.3M1592.2 135.3 1718.5 398.8 1844.7 142.6 1971.0 148.3M1592.2 135.3 1718.5 423.1 1844.7 130.0 1971.0 121.2M1592.2 135.3 1718.5 441.9 1844.7 128.1 1971.0 155.3M1592.2 135.3 1718.5 424.5 1844.7 126.9 1971.0 137.1M1592.2 135.3 1718.5 437.9 1844.7 123.8 1971.0 164.9M1592.2 135.3 1718.5 449.8 1844.7 117.8 1971.0 144.8M1592.2 135.3 1718.5 449.4 1844.7 119.4 1971.0 158.5M1592.2 135.3 1718.5 399.6 1844.7 133.7 1971.0 144.1M1592.2 135.3 1718.5 439.2 1844.7 122.3 1971.0 152.7M1592.2 135.3 1718.5 432.0 1844.7 129.6 1971.0 140.9M1592.2 135.3 1718.5 440.9 1844.7 117.4 1971.0 157.7M1592.2 135.3 1718.5 429.7 1844.7 138.2 1971.0 141.4M1592.2 135.3 1718.5 434.9 1844.7 140.4 1971.0 147.4M1592.2 135.3 1718.5 437.3 1844.7 124.1 1971.0 142.7M1592.2 135.3 1718.5 448.4 1844.7 133.9 1971.0 162.3M1592.2 135.3 1718.5 451.2 1844.7 137.6 1971.0 144.3M1592.2 135.3 1718.5 441.9 1844.7 136.0 1971.0 168.2M1592.2 135.3 1718.5 427.5 1844.7 93.4 1971.0 131.8M1592.2 135.3 1718.5 402.7 1844.7 115.1 1971.0 153.8M1592.2 135.3 1718.5 416.9 1844.7 131.4 1971.0 136.3M1592.2 135.3 1718.5 406.2 1844.7 104.1 1971.0 142.6M1592.2 135.3 1718.5 424.8 1844.7 121.0 1971.0 90.6M1592.2 135.3 1718.5 432.8 1844.7 132.9 1971.0 141.1M1592.2 135.3 1718.5 449.9 1844.7 131.8 1971.0 136.2M1592.2 135.3 1718.5 431.5 1844.7 124.4 1971.0 172.1M1592.2 135.3 1718.5 461.3 1844.7 102.7 1971.0 120.3M1592.2 135.3 1718.5 435.7 1844.7 122.3 1971.0 158.4M1592.2 135.3 1718.5 408.9 1844.7 122.0 1971.0 144.5M1592.2 135.3 1718.5 426.9 1844.7 135.8 1971.0 159.0M1592.2 135.3 1718.5 415.8 1844.7 116.5 1971.0 139.8M1592.2 135.3 1718.5 436.8 1844.7 151.6 1971.0 132.8M1592.2 135.3 1718.5 450.6 1844.7 103.6 1971.0 165.6M1592.2 135.3 1718.5 438.1 1844.7 134.3 1971.0 151.7M1592.2 135.3 1718.5 437.0 1844.7 127.3 1971.0 150.5M1592.2 135.3 1718.5 414.7 1844.7 145.5 1971.0 143.6M1592.2 135.3 1718.5 404.0 1844.7 118.4 1971.0 154.3M1592.2 135.3 1718.5 441.7 1844.7 144.2 1971.0 158.3M1592.2 135.3 1718.5 436.4 1844.7 120.4 1971.0 138.4M1592.2 135.3 1718.5 433.5 1844.7 126.7 1971.0 149.8M1592.2 135.3 1718.5 436.3 1844.7 126.0 1971.0 151.6M1592.2 135.3 1718.5 448.7 1844.7 135.7 1971.0 132.4M1592.2 135.3 1718.5 430.1 1844.7 134.3 1971.0 153.8M1592.2 135.3 1718.5 426.4 1844.7 132.2 1971.0 144.9M1592.2 135.3 1718.5 426.0 1844.7 128.2 1971.0 150.1M1592.2 135.3 1718.5 448.2 1844.7 139.3 1971.0 144.5M1592.2 135.3 1718.5 433.0 1844.7 128.0 1971.0 151.0M1592.2 135.3 1718.5 455.6 1844.7 116.9 1971.0 137.8M1592.2 135.3 1718.5 418.7 1844.7 124.3 1971.0 152.6M1592.2 135.3 1718.5 445.6 1844.7 154.1 1971.0 140.0M1592.2 135.3 1718.5 435.2 1844.7 132.2 1971.0 147.8M1592.2 135.3 1718.5 437.6 1844.7 138.7 1971.0 152.3M1592.2 135.3 1718.5 439.5 1844.7 125.2 1971.0 147.2M1592.2 135.3 1718.5 446.1 1844.7 125.7 1971.0 106.6M1592.2 135.3 1718.5 455.9 1844.7 128.1 1971.0 153.6M1592.2 135.3 1718.5 407.3 1844.7 143.0 1971.0 144.4M1592.2 135.3 1718.5 427.8 1844.7 120.4 1971.0 139.2M1592.2 135.3 1718.5 427.7 1844.7 119.4 1971.0 138.1M1592.2 135.3 1718.5 402.2 1844.7 96.2 1971.0 141.1M1592.2 135.3 1718.5 432.7 1844.7 121.7 1971.0 142.7M1592.2 135.3 1718.5 423.7 1844.7 129.1 1971.0 171.9M1592.2 135.3 1718.5 431.0 1844.7 123.9 1971.0 136.1M1592.2 135.3 1718.5 414.8 1844.7 116.2 1971.0 130.6M1592.2 135.3 1718.5 424.4 1844.7 129.8 1971.0 151.4M1592.2 135.3 1718.5 427.0 1844.7 140.6 1971.0 141.6M1592.2 135.3 1718.5 434.9 1844.7 135.9 1971.0 150.9M1592.2 135.3 1718.5 427.4 1844.7 142.7 1971.0 141.3M1592.2 135.3 1718.5 415.1 1844.7 125.1 1971.0 157.8M1592.2 135.3 1718.5 460.2 1844.7 130.4 1971.0 146.7M1592.2 135.3 1718.5 433.1 1844.7 135.5 1971.0 152.1M1592.2 135.3 1718.5 437.1 1844.7 147.5 1971.0 159.9M1592.2 135.3 1718.5 435.5 1844.7 130.4 1971.0 129.7M1592.2 135.3 1718.5 458.8 1844.7 142.2 1971.0 140.8M1592.2 135.3 1718.5 421.1 1844.7 110.6 1971.0 155.4M1592.2 135.3 1718.5 443.0 1844.7 138.5 1971.0 158.6M1592.2 135.3 1718.5 434.5 1844.7 131.6 1971.0 155.2M1592.2 135.3 1718.5 479.6 1844.7 58.1 1971.0 78.2M1592.2 135.3 1718.5 459.5 1844.7 82.8 1971.0 92.1M1592.2 135.3 1718.5 413.2 1844.7 166.2 1971.0 206.3M1592.2 135.3 1718.5 428.7 1844.7 89.0 1971.0 96.7M1592.2 135.3 1718.5 444.1 1844.7 158.5 1971.0 197.1M1592.2 135.3 1718.5 420.9 1844.7 92.1 1971.0 89.0M1592.2 135.3 1718.5 436.4 1844.7 143.0 1971.0 194.0" fill="none" stroke="#d3d3d3" stroke-width="1.15" stroke-linejoin="miter" stroke-miterlimit="20"/>
<polyline points="1592.2,135.3 1718.5,420.0 1844.7,129.4 1971.0,146.3" fill="none" stroke="#1414e6" stroke-width="1.8"/>
<circle cx="1590.8" cy="135.3" r="1.8" fill="#1414e6"/>
<circle cx="1717.1" cy="420.0" r="1.8" fill="#1414e6"/>
<circle cx="1843.3" cy="129.4" r="1.8" fill="#1414e6"/>
<circle cx="1969.6" cy="146.3" r="1.8" fill="#1414e6"/>
<line x1="1592.2" y1="135.3" x2="1971.0" y2="135.3" stroke="#e63232" stroke-width="1.9"/>
</g>
<rect x="1577.0" y="41.2" width="409.2" height="455.9" fill="none" stroke="#262626" stroke-width="1.6"/>
<line x1="1592.2" y1="497.1" x2="1592.2" y2="505.4" stroke="#262626" stroke-width="1.6"/>
<text transform="translate(1594.9 525.2) scale(1 1.04)" text-anchor="middle" class="xl">YG2C</text>
<line x1="1718.5" y1="497.1" x2="1718.5" y2="505.4" stroke="#262626" stroke-width="1.6"/>
<text transform="translate(1719.6 525.2) scale(1 1.04)" text-anchor="middle" class="xl">YG2T</text>
<line x1="1844.7" y1="497.1" x2="1844.7" y2="505.4" stroke="#262626" stroke-width="1.6"/>
<text transform="translate(1846.2 525.2) scale(1 1.04)" text-anchor="middle" class="xl">An04C</text>
<line x1="1971.0" y1="497.1" x2="1971.0" y2="505.4" stroke="#262626" stroke-width="1.6"/>
<text transform="translate(1970.5 525.2) scale(1 1.04)" text-anchor="middle" class="xl">An04T</text>
<line x1="1569.5" y1="444.1" x2="1577.0" y2="444.1" stroke="#262626" stroke-width="1.6"/>
<text transform="translate(1562.8 452.9) scale(0.875 1.0)" text-anchor="end" class="yt">−20</text>
<line x1="1569.5" y1="366.9" x2="1577.0" y2="366.9" stroke="#262626" stroke-width="1.6"/>
<text transform="translate(1562.8 375.7) scale(0.875 1.0)" text-anchor="end" class="yt">−15</text>
<line x1="1569.5" y1="289.7" x2="1577.0" y2="289.7" stroke="#262626" stroke-width="1.6"/>
<text transform="translate(1562.8 298.5) scale(0.875 1.0)" text-anchor="end" class="yt">−10</text>
<line x1="1569.5" y1="212.5" x2="1577.0" y2="212.5" stroke="#262626" stroke-width="1.6"/>
<text transform="translate(1562.8 221.3) scale(0.875 1.0)" text-anchor="end" class="yt">−5</text>
<line x1="1569.5" y1="135.3" x2="1577.0" y2="135.3" stroke="#262626" stroke-width="1.6"/>
<text transform="translate(1562.8 144.1) scale(0.875 1.0)" text-anchor="end" class="yt">0</text>
<line x1="1569.5" y1="58.1" x2="1577.0" y2="58.1" stroke="#262626" stroke-width="1.6"/>
<text transform="translate(1562.8 66.9) scale(0.875 1.0)" text-anchor="end" class="yt">5</text>
<text transform="translate(1530.8 269.2) rotate(-90)" text-anchor="middle" class="yl" textLength="120.9" lengthAdjust="spacingAndGlyphs">log2(ratio)</text>
<text transform="translate(1639.4 25.0) scale(1 1)" class="tt" textLength="295.1" lengthAdjust="spacingAndGlyphs">Subster_4, 608 genes</text>
<clipPath id="c4"><rect x="67.2" y="607.5" width="409.1" height="456.3"/></clipPath>
<g clip-path="url(#c4)">
<path d="M82.4 1046.8 208.6 1046.8 334.9 683.7 461.1 637.5M82.4 1046.8 208.6 1046.8 334.9 738.6 461.1 650.5M82.4 1046.8 208.6 1046.8 334.9 722.3 461.1 662.9M82.4 1046.8 208.6 1046.8 334.9 705.0 461.1 652.6M82.4 1046.8 208.6 1046.8 334.9 709.1 461.1 634.6M82.4 1046.8 208.6 1046.8 334.9 713.5 461.1 711.2M82.4 1046.8 208.6 1046.8 334.9 712.5 461.1 654.6M82.4 1046.8 208.6 1046.8 334.9 715.7 461.1 715.3M82.4 1046.8 208.6 1046.8 334.9 725.8 461.1 684.2M82.4 1046.8 208.6 1046.8 334.9 711.0 461.1 697.6M82.4 1046.8 208.6 1046.8 334.9 723.8 461.1 665.1M82.4 1046.8 208.6 1046.8 334.9 737.6 461.1 664.6M82.4 1046.8 208.6 1046.8 334.9 724.8 461.1 635.5M82.4 1046.8 208.6 1046.8 334.9 718.1 461.1 642.4M82.4 1046.8 208.6 1046.8 334.9 721.1 461.1 716.8M82.4 1046.8 208.6 1046.8 334.9 728.5 461.1 728.0M82.4 1046.8 208.6 1046.8 334.9 708.6 461.1 717.3M82.4 1046.8 208.6 1046.8 334.9 736.3 461.1 739.8M82.4 1046.8 208.6 1046.8 334.9 729.4 461.1 721.0M82.4 1046.8 208.6 1046.8 334.9 736.5 461.1 729.6M82.4 1046.8 208.6 1046.8 334.9 736.0 461.1 736.9M82.4 1046.8 208.6 1046.8 334.9 734.5 461.1 735.3M82.4 1046.8 208.6 1046.8 334.9 733.5 461.1 734.5M82.4 1046.8 208.6 1046.8 334.9 680.8 461.1 680.6M82.4 1046.8 208.6 1046.8 334.9 708.3 461.1 718.2M82.4 1046.8 208.6 1046.8 334.9 722.0 461.1 716.7M82.4 1046.8 208.6 1046.8 334.9 732.8 461.1 736.7M82.4 1046.8 208.6 1046.8 334.9 716.2 461.1 715.3M82.4 1046.8 208.6 1046.8 334.9 711.3 461.1 726.3M82.4 1046.8 208.6 1046.8 334.9 714.0 461.1 712.6M82.4 1046.8 208.6 1046.8 334.9 725.4 461.1 717.4M82.4 1046.8 208.6 1046.8 334.9 706.2 461.1 719.5M82.4 1046.8 208.6 1046.8 334.9 692.9 461.1 683.8M82.4 1046.8 208.6 1046.8 334.9 705.9 461.1 703.1M82.4 1046.8 208.6 1046.8 334.9 722.1 461.1 726.5M82.4 1046.8 208.6 1046.8 334.9 705.6 461.1 715.1M82.4 1046.8 208.6 1046.8 334.9 703.0 461.1 696.1M82.4 1046.8 208.6 1046.8 334.9 705.9 461.1 704.3M82.4 1046.8 208.6 1046.8 334.9 715.8 461.1 712.3M82.4 1046.8 208.6 1046.8 334.9 716.8 461.1 718.4M82.4 1046.8 208.6 1046.8 334.9 737.5 461.1 739.8M82.4 1046.8 208.6 1046.8 334.9 725.2 461.1 720.0M82.4 1046.8 208.6 1046.8 334.9 708.9 461.1 714.6M82.4 1046.8 208.6 1046.8 334.9 703.4 461.1 698.0M82.4 1046.8 208.6 1046.8 334.9 710.3 461.1 720.3M82.4 1046.8 208.6 1046.8 334.9 713.6 461.1 719.1M82.4 1046.8 208.6 1046.8 334.9 732.6 461.1 739.8M82.4 1046.8 208.6 1046.8 334.9 714.3 461.1 706.5M82.4 1046.8 208.6 1046.8 334.9 731.7 461.1 739.8M82.4 1046.8 208.6 1046.8 334.9 707.9 461.1 714.7M82.4 1046.8 208.6 1046.8 334.9 710.4 461.1 706.4M82.4 1046.8 208.6 1046.8 334.9 714.3 461.1 712.9M82.4 1046.8 208.6 1046.8 334.9 700.9 461.1 687.8M82.4 1046.8 208.6 1046.8 334.9 716.0 461.1 705.1M82.4 1046.8 208.6 1046.8 334.9 738.0 461.1 734.3M82.4 1046.8 208.6 1046.8 334.9 708.1 461.1 704.0M82.4 1046.8 208.6 1046.8 334.9 719.3 461.1 730.2M82.4 1046.8 208.6 1046.8 334.9 701.3 461.1 706.6M82.4 1046.8 208.6 1046.8 334.9 714.0 461.1 715.9M82.4 1046.8 208.6 1046.8 334.9 691.3 461.1 692.3M82.4 1046.8 208.6 1046.8 334.9 725.9 461.1 734.1M82.4 1046.8 208.6 1046.8 334.9 713.2 461.1 718.8M82.4 1046.8 208.6 1046.8 334.9 726.5 461.1 731.5M82.4 1046.8 208.6 1046.8 334.9 720.8 461.1 714.5M82.4 1046.8 208.6 1046.8 334.9 702.0 461.1 699.4M82.4 1046.8 208.6 1046.8 334.9 722.0 461.1 723.9M82.4 1046.8 208.6 1046.8 334.9 735.4 461.1 737.1M82.4 1046.8 208.6 1046.8 334.9 718.3 461.1 716.5M82.4 1046.8 208.6 1046.8 334.9 738.9 461.1 739.8M82.4 1046.8 208.6 1046.8 334.9 708.1 461.1 709.7M82.4 1046.8 208.6 1046.8 334.9 731.4 461.1 739.8M82.4 1046.8 208.6 1046.8 334.9 719.9 461.1 715.9M82.4 1046.8 208.6 1046.8 334.9 700.4 461.1 694.7M82.4 1046.8 208.6 1046.8 334.9 733.9 461.1 731.8M82.4 1046.8 208.6 1046.8 334.9 711.0 461.1 708.1M82.4 1046.8 208.6 1046.8 334.9 732.6 461.1 730.4M82.4 1046.8 208.6 1046.8 334.9 724.3 461.1 712.1M82.4 1046.8 208.6 1046.8 334.9 725.6 461.1 724.4M82.4 1046.8 208.6 1046.8 334.9 717.1 461.1 725.0M82.4 1046.8 208.6 1046.8 334.9 704.4 461.1 710.6M82.4 1046.8 208.6 1046.8 334.9 738.2 461.1 734.0M82.4 1046.8 208.6 1046.8 334.9 716.6 461.1 710.2M82.4 1046.8 208.6 1046.8 334.9 726.9 461.1 722.3M82.4 1046.8 208.6 1046.8 334.9 709.5 461.1 704.4M82.4 1046.8 208.6 1046.8 334.9 729.0 461.1 727.9M82.4 1046.8 208.6 1046.8 334.9 701.8 461.1 710.6M82.4 1046.8 208.6 1046.8 334.9 727.0 461.1 731.2M82.4 1046.8 208.6 1046.8 334.9 690.5 461.1 701.3M82.4 1046.8 208.6 1046.8 334.9 733.1 461.1 735.4M82.4 1046.8 208.6 1046.8 334.9 722.6 461.1 730.7M82.4 1046.8 208.6 1046.8 334.9 685.5 461.1 684.9M82.4 1046.8 208.6 1046.8 334.9 739.5 461.1 739.8M82.4 1046.8 208.6 1046.8 334.9 739.0 461.1 739.8M82.4 1046.8 208.6 1046.8 334.9 723.0 461.1 718.7M82.4 1046.8 208.6 1046.8 334.9 731.8 461.1 727.3M82.4 1046.8 208.6 1046.8 334.9 724.9 461.1 733.2M82.4 1046.8 208.6 1046.8 334.9 715.4 461.1 714.6M82.4 1046.8 208.6 1046.8 334.9 739.0 461.1 734.7M82.4 1046.8 208.6 1046.8 334.9 718.0 461.1 719.8M82.4 1046.8 208.6 1046.8 334.9 701.8 461.1 696.7M82.4 1046.8 208.6 1046.8 334.9 708.0 461.1 706.9M82.4 1046.8 208.6 1046.8 334.9 738.7 461.1 732.3M82.4 1046.8 208.6 1046.8 334.9 721.5 461.1 720.4M82.4 1046.8 208.6 1046.8 334.9 702.1 461.1 703.1M82.4 1046.8 208.6 1046.8 334.9 692.2 461.1 689.2M82.4 1046.8 208.6 1046.8 334.9 681.9 461.1 677.3M82.4 1046.8 208.6 1046.8 334.9 698.1 461.1 696.6M82.4 1046.8 208.6 1046.8 334.9 701.2 461.1 704.0M82.4 1046.8 208.6 1046.8 334.9 736.2 461.1 739.8M82.4 1046.8 208.6 1046.8 334.9 675.4 461.1 677.7M82.4 1046.8 208.6 1046.8 334.9 681.2 461.1 684.7M82.4 1046.8 208.6 1046.8 334.9 702.4 461.1 701.2M82.4 1046.8 208.6 1046.8 334.9 702.1 461.1 701.1M82.4 1046.8 208.6 1046.8 334.9 733.9 461.1 734.5M82.4 1046.8 208.6 1046.8 334.9 725.5 461.1 725.6M82.4 1046.8 208.6 1046.8 334.9 739.6 461.1 738.7M82.4 1046.8 208.6 1046.8 334.9 713.8 461.1 704.5M82.4 1046.8 208.6 1046.8 334.9 735.3 461.1 728.2M82.4 1046.8 208.6 1046.8 334.9 697.0 461.1 700.5M82.4 1046.8 208.6 1046.8 334.9 730.1 461.1 727.6M82.4 1046.8 208.6 1046.8 334.9 734.9 461.1 736.9M82.4 1046.8 208.6 1046.8 334.9 705.1 461.1 705.8M82.4 1046.8 208.6 1046.8 334.9 683.2 461.1 684.8M82.4 1046.8 208.6 1046.8 334.9 724.3 461.1 728.2M82.4 1046.8 208.6 1046.8 334.9 730.3 461.1 738.6M82.4 1046.8 208.6 1046.8 334.9 725.0 461.1 739.8M82.4 1046.8 208.6 1046.8 334.9 722.8 461.1 721.6M82.4 1046.8 208.6 1046.8 334.9 729.6 461.1 722.6M82.4 1046.8 208.6 1046.8 334.9 723.1 461.1 728.6M82.4 1046.8 208.6 1046.8 334.9 692.4 461.1 689.5M82.4 1046.8 208.6 1046.8 334.9 685.2 461.1 687.6M82.4 1046.8 208.6 1046.8 334.9 720.4 461.1 718.8M82.4 1046.8 208.6 1046.8 334.9 735.1 461.1 739.8M82.4 1046.8 208.6 1046.8 334.9 704.8 461.1 706.3M82.4 1046.8 208.6 1046.8 334.9 726.0 461.1 726.7M82.4 1046.8 208.6 1046.8 334.9 736.1 461.1 739.8M82.4 1046.8 208.6 1046.8 334.9 720.3 461.1 719.1M82.4 1046.8 208.6 1046.8 334.9 718.1 461.1 719.0M82.4 1046.8 208.6 1046.8 334.9 737.6 461.1 739.8M82.4 1046.8 208.6 1046.8 334.9 739.3 461.1 735.5M82.4 1046.8 208.6 1046.8 334.9 686.5 461.1 686.8M82.4 1046.8 208.6 1046.8 334.9 731.4 461.1 730.3M82.4 1046.8 208.6 1046.8 334.9 727.1 461.1 725.0M82.4 1046.8 208.6 1046.8 334.9 695.4 461.1 698.0M82.4 1046.8 208.6 1046.8 334.9 726.7 461.1 733.3M82.4 1046.8 208.6 1046.8 334.9 733.4 461.1 736.2M82.4 1046.8 208.6 1046.8 334.9 685.5 461.1 688.2M82.4 1046.8 208.6 1046.8 334.9 731.4 461.1 718.2M82.4 1046.8 208.6 1046.8 334.9 716.1 461.1 705.1M82.4 1046.8 208.6 1046.8 334.9 712.7 461.1 715.8M82.4 1046.8 208.6 1046.8 334.9 692.8 461.1 695.4M82.4 1046.8 208.6 1046.8 334.9 704.2 461.1 702.4M82.4 1046.8 208.6 1046.8 334.9 695.1 461.1 691.8M82.4 1046.8 208.6 1046.8 334.9 738.4 461.1 739.8M82.4 1046.8 208.6 1046.8 334.9 737.9 461.1 739.8M82.4 1046.8 208.6 1046.8 334.9 732.1 461.1 720.6M82.4 1046.8 208.6 1046.8 334.9 729.7 461.1 723.5M82.4 1046.8 208.6 1046.8 334.9 731.2 461.1 739.8M82.4 1046.8 208.6 1046.8 334.9 675.7 461.1 686.5M82.4 1046.8 208.6 1046.8 334.9 724.5 461.1 729.7M82.4 1046.8 208.6 1046.8 334.9 737.0 461.1 735.8M82.4 1046.8 208.6 1046.8 334.9 714.2 461.1 711.1M82.4 1046.8 208.6 1046.8 334.9 739.0 461.1 739.8M82.4 1046.8 208.6 1046.8 334.9 674.7 461.1 684.6M82.4 1046.8 208.6 1046.8 334.9 728.2 461.1 727.0M82.4 1046.8 208.6 1046.8 334.9 729.9 461.1 726.5M82.4 1046.8 208.6 1046.8 334.9 691.1 461.1 691.3M82.4 1046.8 208.6 1046.8 334.9 718.6 461.1 721.7M82.4 1046.8 208.6 1046.8 334.9 736.5 461.1 733.2M82.4 1046.8 208.6 1046.8 334.9 725.3 461.1 725.9M82.4 1046.8 208.6 1046.8 334.9 734.2 461.1 739.8M82.4 1046.8 208.6 1046.8 334.9 718.4 461.1 718.0M82.4 1046.8 208.6 1046.8 334.9 722.6 461.1 730.6M82.4 1046.8 208.6 1046.8 334.9 720.4 461.1 714.7M82.4 1046.8 208.6 1046.8 334.9 737.1 461.1 734.5M82.4 1046.8 208.6 1046.8 334.9 736.4 461.1 739.8M82.4 1046.8 208.6 1046.8 334.9 729.4 461.1 728.3M82.4 1046.8 208.6 1046.8 334.9 739.7 461.1 732.3M82.4 1046.8 208.6 1046.8 334.9 720.7 461.1 733.8M82.4 1046.8 208.6 1046.8 334.9 720.3 461.1 721.3M82.4 1046.8 208.6 1046.8 334.9 737.6 461.1 727.8M82.4 1046.8 208.6 1046.8 334.9 712.0 461.1 721.6M82.4 1046.8 208.6 1046.8 334.9 727.2 461.1 728.4M82.4 1046.8 208.6 1046.8 334.9 735.3 461.1 739.8M82.4 1046.8 208.6 1046.8 334.9 715.1 461.1 715.7M82.4 1046.8 208.6 1046.8 334.9 723.7 461.1 738.4M82.4 1046.8 208.6 1046.8 334.9 727.4 461.1 737.4M82.4 1046.8 208.6 1046.8 334.9 736.2 461.1 739.7M82.4 1046.8 208.6 1046.8 334.9 735.7 461.1 735.0M82.4 1046.8 208.6 1046.8 334.9 734.9 461.1 732.8M82.4 1046.8 208.6 1046.8 334.9 716.6 461.1 714.2M82.4 1046.8 208.6 1046.8 334.9 699.1 461.1 692.3M82.4 1046.8 208.6 1046.8 334.9 713.8 461.1 709.7M82.4 1046.8 208.6 1046.8 334.9 735.8 461.1 731.5M82.4 1046.8 208.6 1046.8 334.9 712.5 461.1 718.6M82.4 1046.8 208.6 1046.8 334.9 729.8 461.1 731.0M82.4 1046.8 208.6 1046.8 334.9 733.5 461.1 714.3M82.4 1046.8 208.6 1046.8 334.9 736.5 461.1 722.9M82.4 1046.8 208.6 1046.8 334.9 665.1 461.1 660.2M82.4 1046.8 208.6 1046.8 334.9 711.4 461.1 707.1M82.4 1046.8 208.6 1046.8 334.9 710.0 461.1 704.2M82.4 1046.8 208.6 1046.8 334.9 729.7 461.1 732.3M82.4 1046.8 208.6 1046.8 334.9 722.3 461.1 710.5M82.4 1046.8 208.6 1046.8 334.9 676.4 461.1 678.9M82.4 1046.8 208.6 1046.8 334.9 727.1 461.1 727.8M82.4 1046.8 208.6 1046.8 334.9 709.2 461.1 696.1M82.4 1046.8 208.6 1046.8 334.9 704.1 461.1 717.0M82.4 1046.8 208.6 1046.8 334.9 721.1 461.1 719.1M82.4 1046.8 208.6 1046.8 334.9 695.3 461.1 706.0M82.4 1046.8 208.6 1046.8 334.9 732.5 461.1 736.7M82.4 1046.8 208.6 1046.8 334.9 725.2 461.1 725.9M82.4 1046.8 208.6 1046.8 334.9 723.2 461.1 725.6M82.4 1046.8 208.6 1046.8 334.9 665.9 461.1 665.1M82.4 1046.8 208.6 1046.8 334.9 730.5 461.1 735.4M82.4 1046.8 208.6 1046.8 334.9 735.9 461.1 736.7M82.4 1046.8 208.6 1046.8 334.9 700.5 461.1 708.0M82.4 1046.8 208.6 1046.8 334.9 727.1 461.1 729.7M82.4 1046.8 208.6 1046.8 334.9 739.1 461.1 739.8M82.4 1046.8 208.6 1046.8 334.9 719.0 461.1 715.1M82.4 1046.8 208.6 1046.8 334.9 738.3 461.1 739.8M82.4 1046.8 208.6 1046.8 334.9 729.8 461.1 725.8M82.4 1046.8 208.6 1046.8 334.9 724.0 461.1 726.7M82.4 1046.8 208.6 1046.8 334.9 737.1 461.1 739.1M82.4 1046.8 208.6 1046.8 334.9 724.0 461.1 717.0M82.4 1046.8 208.6 1046.8 334.9 732.4 461.1 732.0M82.4 1046.8 208.6 1046.8 334.9 737.3 461.1 739.8M82.4 1046.8 208.6 1046.8 334.9 726.4 461.1 723.5M82.4 1046.8 208.6 1046.8 334.9 713.1 461.1 731.1M82.4 1046.8 208.6 1046.8 334.9 720.4 461.1 719.0M82.4 1046.8 208.6 1046.8 334.9 735.0 461.1 737.6M82.4 1046.8 208.6 1046.8 334.9 707.7 461.1 716.5M82.4 1046.8 208.6 1046.8 334.9 724.7 461.1 724.4M82.4 1046.8 208.6 1046.8 334.9 705.3 461.1 707.4M82.4 1046.8 208.6 1046.8 334.9 733.9 461.1 721.7M82.4 1046.8 208.6 1046.8 334.9 737.7 461.1 739.8M82.4 1046.8 208.6 1046.8 334.9 724.3 461.1 712.5M82.4 1046.8 208.6 1046.8 334.9 717.7 461.1 709.3M82.4 1046.8 208.6 1046.8 334.9 721.4 461.1 725.3M82.4 1046.8 208.6 1046.8 334.9 682.4 461.1 687.6M82.4 1046.8 208.6 1046.8 334.9 733.2 461.1 725.3M82.4 1046.8 208.6 1046.8 334.9 632.4 461.1 646.1M82.4 1046.8 208.6 1046.8 334.9 640.7 461.1 637.2M82.4 1046.8 208.6 1046.8 334.9 658.5 461.1 628.3M82.4 1046.8 208.6 1046.8 334.9 649.6 461.1 672.8M82.4 1046.8 208.6 1046.8 334.9 1046.8 461.1 708.3M82.4 1046.8 208.6 1046.8 334.9 1046.8 461.1 724.2M82.4 1046.8 208.6 1046.8 334.9 1046.8 461.1 712.6M82.4 1046.8 208.6 1046.8 334.9 1046.8 461.1 704.7M82.4 1046.8 208.6 1046.8 334.9 1046.8 461.1 720.5M82.4 1046.8 208.6 1046.8 334.9 1046.8 461.1 722.7M82.4 1046.8 208.6 1046.8 334.9 1046.8 461.1 726.2M82.4 1046.8 208.6 1046.8 334.9 1046.8 461.1 731.8M82.4 1046.8 208.6 1046.8 334.9 1046.8 461.1 739.6M82.4 1046.8 208.6 1046.8 334.9 1046.8 461.1 731.0M82.4 1046.8 208.6 1046.8 334.9 1046.8 461.1 713.5M82.4 1046.8 208.6 1046.8 334.9 1046.8 461.1 727.5M82.4 1046.8 208.6 1046.8 334.9 1046.8 461.1 716.6M82.4 1046.8 208.6 1046.8 334.9 1046.8 461.1 707.6M82.4 1046.8 208.6 1046.8 334.9 1046.8 461.1 733.6M82.4 1046.8 208.6 1046.8 334.9 1046.8 461.1 727.6M82.4 1046.8 208.6 1046.8 334.9 1046.8 461.1 717.8M82.4 1046.8 208.6 1046.8 334.9 1046.8 461.1 714.5M82.4 1046.8 208.6 1046.8 334.9 1046.8 461.1 732.3M82.4 1046.8 208.6 1046.8 334.9 1046.8 461.1 723.7M82.4 1046.8 208.6 1046.8 334.9 1046.8 461.1 740.4M82.4 1046.8 208.6 1046.8 334.9 1046.8 461.1 735.1M82.4 1046.8 208.6 1046.8 334.9 1046.8 461.1 718.9M82.4 1046.8 208.6 1046.8 334.9 1046.8 461.1 725.3M82.4 1046.8 208.6 1046.8 334.9 1046.8 461.1 712.6M82.4 1046.8 208.6 1046.8 334.9 1046.8 461.1 723.8M82.4 1046.8 208.6 1046.8 334.9 1046.8 461.1 699.0M82.4 1046.8 208.6 1046.8 334.9 1046.8 461.1 722.5M82.4 1046.8 208.6 1046.8 334.9 1046.8 461.1 717.7M82.4 1046.8 208.6 1046.8 334.9 1046.8 461.1 691.4M82.4 1046.8 208.6 1046.8 334.9 1046.8 461.1 729.1M82.4 1046.8 208.6 1046.8 334.9 1046.8 461.1 706.8M82.4 1046.8 208.6 1046.8 334.9 1046.8 461.1 735.9M82.4 1046.8 208.6 1046.8 334.9 1046.8 461.1 711.4M82.4 1046.8 208.6 1046.8 334.9 1046.8 461.1 722.8M82.4 1046.8 208.6 1046.8 334.9 1046.8 461.1 732.2M82.4 1046.8 208.6 1046.8 334.9 1046.8 461.1 710.6M82.4 1046.8 208.6 1046.8 334.9 1046.8 461.1 736.4M82.4 1046.8 208.6 1046.8 334.9 1046.8 461.1 735.1M82.4 1046.8 208.6 1046.8 334.9 1046.8 461.1 705.8M82.4 1046.8 208.6 1046.8 334.9 1046.8 461.1 709.1M82.4 1046.8 208.6 1046.8 334.9 1046.8 461.1 734.1M82.4 1046.8 208.6 1046.8 334.9 1046.8 461.1 667.8M82.4 1046.8 208.6 1046.8 334.9 1046.8 461.1 743.1M82.4 1046.8 208.6 1046.8 334.9 1046.8 461.1 717.2M82.4 1046.8 208.6 1046.8 334.9 1046.8 461.1 729.6M82.4 1046.8 208.6 1046.8 334.9 1046.8 461.1 735.8M82.4 1046.8 208.6 1046.8 334.9 1046.8 461.1 729.3M82.4 1046.8 208.6 1046.8 334.9 1046.8 461.1 722.0M82.4 1046.8 208.6 1046.8 334.9 1046.8 461.1 730.8M82.4 1046.8 208.6 1046.8 334.9 1046.8 461.1 731.6M82.4 1046.8 208.6 1046.8 334.9 1046.8 461.1 724.4M82.4 1046.8 208.6 1046.8 334.9 1046.8 461.1 704.4M82.4 1046.8 208.6 1046.8 334.9 1046.8 461.1 732.2M82.4 1046.8 208.6 1046.8 334.9 1046.8 461.1 731.2M82.4 1046.8 208.6 1046.8 334.9 1046.8 461.1 721.1M82.4 1046.8 208.6 1046.8 334.9 1046.8 461.1 723.3M82.4 1046.8 208.6 1046.8 334.9 1046.8 461.1 739.8M82.4 1046.8 208.6 1046.8 334.9 1046.8 461.1 736.4M82.4 1046.8 208.6 1046.8 334.9 1046.8 461.1 713.9M82.4 1046.8 208.6 1046.8 334.9 1046.8 461.1 726.3M82.4 1046.8 208.6 1046.8 334.9 1046.8 461.1 735.0M82.4 1046.8 208.6 1046.8 334.9 1046.8 461.1 737.6M82.4 1046.8 208.6 1046.8 334.9 1046.8 461.1 724.2M82.4 1046.8 208.6 1046.8 334.9 1046.8 461.1 718.0M82.4 1046.8 208.6 1046.8 334.9 1046.8 461.1 705.8M82.4 1046.8 208.6 1046.8 334.9 1046.8 461.1 727.6M82.4 1046.8 208.6 1046.8 334.9 1046.8 461.1 731.5M82.4 1046.8 208.6 1046.8 334.9 1046.8 461.1 689.8M82.4 1046.8 208.6 1046.8 334.9 1046.8 461.1 740.6M82.4 1046.8 208.6 1046.8 334.9 1046.8 461.1 742.9M82.4 1046.8 208.6 1046.8 334.9 1046.8 461.1 728.3M82.4 1046.8 208.6 1046.8 334.9 1046.8 461.1 705.5M82.4 1046.8 208.6 1046.8 334.9 1046.8 461.1 726.4M82.4 1046.8 208.6 1046.8 334.9 1046.8 461.1 735.5M82.4 1046.8 208.6 1046.8 334.9 1046.8 461.1 719.5M82.4 1046.8 208.6 1046.8 334.9 1046.8 461.1 702.2M82.4 1046.8 208.6 1046.8 334.9 1046.8 461.1 714.9M82.4 1046.8 208.6 1046.8 334.9 1046.8 461.1 724.1M82.4 1046.8 208.6 1046.8 334.9 1046.8 461.1 736.8M82.4 1046.8 208.6 1046.8 334.9 1046.8 461.1 728.5M82.4 1046.8 208.6 1046.8 334.9 1046.8 461.1 725.7M82.4 1046.8 208.6 1046.8 334.9 1046.8 461.1 718.7M82.4 1046.8 208.6 1046.8 334.9 1046.8 461.1 731.6M82.4 1046.8 208.6 1046.8 334.9 1046.8 461.1 711.1M82.4 1046.8 208.6 1046.8 334.9 1046.8 461.1 716.0M82.4 1046.8 208.6 1046.8 334.9 1046.8 461.1 729.0M82.4 1046.8 208.6 1046.8 334.9 1046.8 461.1 731.5M82.4 1046.8 208.6 1046.8 334.9 1046.8 461.1 730.0M82.4 1046.8 208.6 1046.8 334.9 1046.8 461.1 710.0M82.4 1046.8 208.6 1046.8 334.9 1046.8 461.1 722.8M82.4 1046.8 208.6 1046.8 334.9 1046.8 461.1 708.0M82.4 1046.8 208.6 1046.8 334.9 1046.8 461.1 728.2M82.4 1046.8 208.6 1046.8 334.9 1046.8 461.1 737.3M82.4 1046.8 208.6 1046.8 334.9 1046.8 461.1 733.0M82.4 1046.8 208.6 1046.8 334.9 1046.8 461.1 737.3M82.4 1046.8 208.6 1046.8 334.9 1046.8 461.1 706.8M82.4 1046.8 208.6 1046.8 334.9 1046.8 461.1 724.5M82.4 1046.8 208.6 1046.8 334.9 1046.8 461.1 733.2M82.4 1046.8 208.6 1046.8 334.9 1046.8 461.1 707.3M82.4 1046.8 208.6 1046.8 334.9 1046.8 461.1 737.1M82.4 1046.8 208.6 1046.8 334.9 1046.8 461.1 722.0M82.4 1046.8 208.6 1046.8 334.9 1046.8 461.1 728.5M82.4 1046.8 208.6 1046.8 334.9 1046.8 461.1 723.2M82.4 1046.8 208.6 1046.8 334.9 1046.8 461.1 724.4M82.4 1046.8 208.6 1046.8 334.9 1046.8 461.1 718.8M82.4 1046.8 208.6 1046.8 334.9 1046.8 461.1 712.3M82.4 1046.8 208.6 1046.8 334.9 1046.8 461.1 733.6M82.4 1046.8 208.6 1046.8 334.9 1046.8 461.1 712.8M82.4 1046.8 208.6 1046.8 334.9 1046.8 461.1 736.1M82.4 1046.8 208.6 1046.8 334.9 1046.8 461.1 714.3M82.4 1046.8 208.6 1046.8 334.9 1046.8 461.1 731.7M82.4 1046.8 208.6 1046.8 334.9 1046.8 461.1 738.4M82.4 1046.8 208.6 1046.8 334.9 1046.8 461.1 731.1M82.4 1046.8 208.6 1046.8 334.9 1046.8 461.1 720.3M82.4 1046.8 208.6 1046.8 334.9 1046.8 461.1 718.9M82.4 1046.8 208.6 1046.8 334.9 1046.8 461.1 714.7M82.4 1046.8 208.6 1046.8 334.9 1046.8 461.1 712.4M82.4 1046.8 208.6 1046.8 334.9 1046.8 461.1 717.0M82.4 1046.8 208.6 1046.8 334.9 1046.8 461.1 716.2M82.4 1046.8 208.6 1046.8 334.9 1046.8 461.1 713.8M82.4 1046.8 208.6 1046.8 334.9 1046.8 461.1 723.0M82.4 1046.8 208.6 1046.8 334.9 1046.8 461.1 729.5M82.4 1046.8 208.6 1046.8 334.9 1046.8 461.1 722.0M82.4 1046.8 208.6 1046.8 334.9 1046.8 461.1 718.7M82.4 1046.8 208.6 1046.8 334.9 1046.8 461.1 715.1M82.4 1046.8 208.6 1046.8 334.9 1046.8 461.1 739.1M82.4 1046.8 208.6 1046.8 334.9 1046.8 461.1 729.2M82.4 1046.8 208.6 1046.8 334.9 1046.8 461.1 740.8M82.4 1046.8 208.6 1046.8 334.9 1046.8 461.1 706.0M82.4 1046.8 208.6 1046.8 334.9 1046.8 461.1 711.1M82.4 1046.8 208.6 1046.8 334.9 1046.8 461.1 732.8M82.4 1046.8 208.6 1046.8 334.9 1046.8 461.1 703.4M82.4 1046.8 208.6 1046.8 334.9 1046.8 461.1 721.7M82.4 1046.8 208.6 1046.8 334.9 1046.8 461.1 717.5M82.4 1046.8 208.6 1046.8 334.9 1046.8 461.1 738.5M82.4 1046.8 208.6 1046.8 334.9 1046.8 461.1 707.2M82.4 1046.8 208.6 1046.8 334.9 1046.8 461.1 721.0M82.4 1046.8 208.6 1046.8 334.9 1046.8 461.1 735.0M82.4 1046.8 208.6 1046.8 334.9 1046.8 461.1 716.8M82.4 1046.8 208.6 1046.8 334.9 1046.8 461.1 711.2M82.4 1046.8 208.6 1046.8 334.9 1046.8 461.1 736.3M82.4 1046.8 208.6 1046.8 334.9 1046.8 461.1 736.6M82.4 1046.8 208.6 1046.8 334.9 1046.8 461.1 731.3M82.4 1046.8 208.6 1046.8 334.9 1046.8 461.1 739.1M82.4 1046.8 208.6 1046.8 334.9 1046.8 461.1 738.9M82.4 1046.8 208.6 1046.8 334.9 1046.8 461.1 720.9M82.4 1046.8 208.6 1046.8 334.9 1046.8 461.1 698.9M82.4 1046.8 208.6 1046.8 334.9 1046.8 461.1 730.8M82.4 1046.8 208.6 1046.8 334.9 1046.8 461.1 719.7M82.4 1046.8 208.6 1046.8 334.9 1046.8 461.1 715.2M82.4 1046.8 208.6 1046.8 334.9 1046.8 461.1 715.0M82.4 1046.8 208.6 1046.8 334.9 1046.8 461.1 725.3M82.4 1046.8 208.6 1046.8 334.9 1046.8 461.1 726.3M82.4 1046.8 208.6 1046.8 334.9 1046.8 461.1 735.6M82.4 1046.8 208.6 1046.8 334.9 1046.8 461.1 712.8M82.4 1046.8 208.6 1046.8 334.9 1046.8 461.1 709.4M82.4 1046.8 208.6 1046.8 334.9 1046.8 461.1 710.0M82.4 1046.8 208.6 1046.8 334.9 1046.8 461.1 729.2M82.4 1046.8 208.6 1046.8 334.9 1046.8 461.1 723.5M82.4 1046.8 208.6 1046.8 334.9 1046.8 461.1 716.9M82.4 1046.8 208.6 1046.8 334.9 1046.8 461.1 739.3M82.4 1046.8 208.6 1046.8 334.9 1046.8 461.1 741.8M82.4 1046.8 208.6 1046.8 334.9 1046.8 461.1 738.1M82.4 1046.8 208.6 1046.8 334.9 1046.8 461.1 733.3M82.4 1046.8 208.6 1046.8 334.9 1046.8 461.1 719.5M82.4 1046.8 208.6 1046.8 334.9 1046.8 461.1 738.1M82.4 1046.8 208.6 1046.8 334.9 1046.8 461.1 717.1M82.4 1046.8 208.6 1046.8 334.9 1046.8 461.1 715.8M82.4 1046.8 208.6 1046.8 334.9 1046.8 461.1 734.1M82.4 1046.8 208.6 1046.8 334.9 1046.8 461.1 728.1M82.4 1046.8 208.6 1046.8 334.9 1046.8 461.1 729.8M82.4 1046.8 208.6 1046.8 334.9 1046.8 461.1 736.2M82.4 1046.8 208.6 1046.8 334.9 1046.8 461.1 709.8M82.4 1046.8 208.6 1046.8 334.9 1046.8 461.1 733.9M82.4 1046.8 208.6 1046.8 334.9 1046.8 461.1 719.7M82.4 1046.8 208.6 1046.8 334.9 1046.8 461.1 728.2M82.4 1046.8 208.6 1046.8 334.9 1046.8 461.1 731.5M82.4 1046.8 208.6 1046.8 334.9 1046.8 461.1 706.4M82.4 1046.8 208.6 1046.8 334.9 1046.8 461.1 721.4M82.4 1046.8 208.6 1046.8 334.9 1046.8 461.1 707.7M82.4 1046.8 208.6 1046.8 334.9 1046.8 461.1 731.3M82.4 1046.8 208.6 1046.8 334.9 1046.8 461.1 718.3M82.4 1046.8 208.6 1046.8 334.9 1046.8 461.1 742.8M82.4 1046.8 208.6 1046.8 334.9 1046.8 461.1 715.1M82.4 1046.8 208.6 1046.8 334.9 1046.8 461.1 718.7M82.4 1046.8 208.6 1046.8 334.9 1046.8 461.1 734.7M82.4 1046.8 208.6 1046.8 334.9 1046.8 461.1 726.2M82.4 1046.8 208.6 1046.8 334.9 1046.8 461.1 715.5M82.4 1046.8 208.6 1046.8 334.9 1046.8 461.1 740.4M82.4 1046.8 208.6 1046.8 334.9 1046.8 461.1 733.2M82.4 1046.8 208.6 1046.8 334.9 1046.8 461.1 717.8M82.4 1046.8 208.6 1046.8 334.9 1046.8 461.1 730.1M82.4 1046.8 208.6 1046.8 334.9 1046.8 461.1 732.1M82.4 1046.8 208.6 1046.8 334.9 1046.8 461.1 735.0M82.4 1046.8 208.6 1046.8 334.9 1046.8 461.1 733.4M82.4 1046.8 208.6 1046.8 334.9 1046.8 461.1 712.8M82.4 1046.8 208.6 1046.8 334.9 1046.8 461.1 708.0M82.4 1046.8 208.6 1046.8 334.9 1046.8 461.1 729.0M82.4 1046.8 208.6 1046.8 334.9 1046.8 461.1 722.8M82.4 1046.8 208.6 1046.8 334.9 1046.8 461.1 739.5M82.4 1046.8 208.6 1046.8 334.9 1046.8 461.1 715.6M82.4 1046.8 208.6 1046.8 334.9 1046.8 461.1 709.6M82.4 1046.8 208.6 1046.8 334.9 1046.8 461.1 728.8M82.4 1046.8 208.6 1046.8 334.9 1046.8 461.1 720.8M82.4 1046.8 208.6 1046.8 334.9 1046.8 461.1 706.8M82.4 1046.8 208.6 1046.8 334.9 1046.8 461.1 716.1M82.4 1046.8 208.6 1046.8 334.9 1046.8 461.1 717.0M82.4 1046.8 208.6 1046.8 334.9 1046.8 461.1 710.8M82.4 1046.8 208.6 1046.8 334.9 1046.8 461.1 734.5M82.4 1046.8 208.6 1046.8 334.9 1046.8 461.1 710.4M82.4 1046.8 208.6 1046.8 334.9 1046.8 461.1 727.1M82.4 1046.8 208.6 1046.8 334.9 1046.8 461.1 722.2M82.4 1046.8 208.6 1046.8 334.9 1046.8 461.1 717.6M82.4 1046.8 208.6 1046.8 334.9 1046.8 461.1 722.1M82.4 1046.8 208.6 1046.8 334.9 1046.8 461.1 740.3M82.4 1046.8 208.6 1046.8 334.9 1046.8 461.1 724.3M82.4 1046.8 208.6 1046.8 334.9 1046.8 461.1 731.1M82.4 1046.8 208.6 1046.8 334.9 1046.8 461.1 717.4M82.4 1046.8 208.6 1046.8 334.9 1046.8 461.1 725.1M82.4 1046.8 208.6 1046.8 334.9 1046.8 461.1 706.2M82.4 1046.8 208.6 1046.8 334.9 1046.8 461.1 714.2M82.4 1046.8 208.6 1046.8 334.9 1046.8 461.1 712.1M82.4 1046.8 208.6 1046.8 334.9 1046.8 461.1 707.8M82.4 1046.8 208.6 1046.8 334.9 1046.8 461.1 730.5M82.4 1046.8 208.6 1046.8 334.9 1046.8 461.1 713.0M82.4 1046.8 208.6 1046.8 334.9 1046.8 461.1 729.4M82.4 1046.8 208.6 1046.8 334.9 1046.8 461.1 742.0M82.4 1046.8 208.6 1046.8 334.9 1046.8 461.1 739.9M82.4 1046.8 208.6 1046.8 334.9 1046.8 461.1 728.7M82.4 1046.8 208.6 1046.8 334.9 1046.8 461.1 738.8M82.4 1046.8 208.6 1046.8 334.9 1046.8 461.1 740.1M82.4 1046.8 208.6 1046.8 334.9 1046.8 461.1 714.7M82.4 1046.8 208.6 1046.8 334.9 1046.8 461.1 707.1M82.4 1046.8 208.6 1046.8 334.9 1046.8 461.1 705.6M82.4 1046.8 208.6 1046.8 334.9 1046.8 461.1 721.7M82.4 1046.8 208.6 1046.8 334.9 1046.8 461.1 730.4M82.4 1046.8 208.6 1046.8 334.9 1046.8 461.1 721.7M82.4 1046.8 208.6 1046.8 334.9 1046.8 461.1 733.6M82.4 1046.8 208.6 1046.8 334.9 1046.8 461.1 719.1M82.4 1046.8 208.6 1046.8 334.9 1046.8 461.1 731.5M82.4 1046.8 208.6 1046.8 334.9 1046.8 461.1 718.3M82.4 1046.8 208.6 1046.8 334.9 1046.8 461.1 727.0M82.4 1046.8 208.6 1046.8 334.9 1046.8 461.1 727.9M82.4 1046.8 208.6 1046.8 334.9 1046.8 461.1 732.3M82.4 1046.8 208.6 1046.8 334.9 1046.8 461.1 729.1M82.4 1046.8 208.6 1046.8 334.9 1046.8 461.1 735.2M82.4 1046.8 208.6 1046.8 334.9 1046.8 461.1 742.2M82.4 1046.8 208.6 1046.8 334.9 1046.8 461.1 740.3M82.4 1046.8 208.6 1046.8 334.9 1046.8 461.1 717.5M82.4 1046.8 208.6 1046.8 334.9 1046.8 461.1 729.9M82.4 1046.8 208.6 1046.8 334.9 1046.8 461.1 684.5M82.4 1046.8 208.6 1046.8 334.9 1046.8 461.1 729.4M82.4 1046.8 208.6 1046.8 334.9 1046.8 461.1 734.5M82.4 1046.8 208.6 1046.8 334.9 1046.8 461.1 714.7M82.4 1046.8 208.6 1046.8 334.9 1046.8 461.1 718.2M82.4 1046.8 208.6 1046.8 334.9 1046.8 461.1 722.2M82.4 1046.8 208.6 1046.8 334.9 1046.8 461.1 723.6M82.4 1046.8 208.6 1046.8 334.9 1046.8 461.1 735.2M82.4 1046.8 208.6 1046.8 334.9 1046.8 461.1 733.4M82.4 1046.8 208.6 1046.8 334.9 1046.8 461.1 702.9M82.4 1046.8 208.6 1046.8 334.9 1046.8 461.1 697.6M82.4 1046.8 208.6 1046.8 334.9 1046.8 461.1 716.1M82.4 1046.8 208.6 1046.8 334.9 1046.8 461.1 713.4M82.4 1046.8 208.6 1046.8 334.9 1046.8 461.1 732.0M82.4 1046.8 208.6 1046.8 334.9 1046.8 461.1 737.1M82.4 1046.8 208.6 1046.8 334.9 1046.8 461.1 723.7M82.4 1046.8 208.6 1046.8 334.9 1046.8 461.1 741.8M82.4 1046.8 208.6 1046.8 334.9 1046.8 461.1 713.2M82.4 1046.8 208.6 1046.8 334.9 1046.8 461.1 710.4M82.4 1046.8 208.6 1046.8 334.9 1046.8 461.1 738.8M82.4 1046.8 208.6 1046.8 334.9 1046.8 461.1 721.9M82.4 1046.8 208.6 1046.8 334.9 1046.8 461.1 714.1M82.4 1046.8 208.6 1046.8 334.9 1046.8 461.1 710.8M82.4 1046.8 208.6 1046.8 334.9 1046.8 461.1 726.1M82.4 1046.8 208.6 1046.8 334.9 1046.8 461.1 664.2M82.4 1046.8 208.6 1046.8 334.9 1046.8 461.1 708.3M82.4 1046.8 208.6 1046.8 334.9 1046.8 461.1 710.6M82.4 1046.8 208.6 1046.8 334.9 1046.8 461.1 716.4M82.4 1046.8 208.6 1046.8 334.9 1046.8 461.1 727.6M82.4 1046.8 208.6 1046.8 334.9 1046.8 461.1 740.6M82.4 1046.8 208.6 1046.8 334.9 1046.8 461.1 732.4M82.4 1046.8 208.6 1046.8 334.9 1046.8 461.1 730.3M82.4 1046.8 208.6 1046.8 334.9 1046.8 461.1 725.7M82.4 1046.8 208.6 1046.8 334.9 1046.8 461.1 719.9M82.4 1046.8 208.6 1046.8 334.9 1046.8 461.1 722.3M82.4 1046.8 208.6 1046.8 334.9 1046.8 461.1 721.9M82.4 1046.8 208.6 1046.8 334.9 1046.8 461.1 726.0M82.4 1046.8 208.6 1046.8 334.9 1046.8 461.1 703.6M82.4 1046.8 208.6 1046.8 334.9 1046.8 461.1 729.8M82.4 1046.8 208.6 1046.8 334.9 1046.8 461.1 717.6M82.4 1046.8 208.6 1046.8 334.9 1046.8 461.1 709.4M82.4 1046.8 208.6 1046.8 334.9 1046.8 461.1 717.5M82.4 1046.8 208.6 1046.8 334.9 1046.8 461.1 724.4M82.4 1046.8 208.6 1046.8 334.9 1046.8 461.1 716.7M82.4 1046.8 208.6 1046.8 334.9 1046.8 461.1 688.0M82.4 1046.8 208.6 1046.8 334.9 1046.8 461.1 721.3M82.4 1046.8 208.6 1046.8 334.9 1046.8 461.1 732.3M82.4 1046.8 208.6 1046.8 334.9 1046.8 461.1 732.5M82.4 1046.8 208.6 1046.8 334.9 1046.8 461.1 717.1M82.4 1046.8 208.6 1046.8 334.9 1046.8 461.1 723.4M82.4 1046.8 208.6 1046.8 334.9 1046.8 461.1 710.8M82.4 1046.8 208.6 1046.8 334.9 1046.8 461.1 727.7M82.4 1046.8 208.6 1046.8 334.9 1046.8 461.1 712.0M82.4 1046.8 208.6 1046.8 334.9 1046.8 461.1 708.7M82.4 1046.8 208.6 1046.8 334.9 1046.8 461.1 705.0M82.4 1046.8 208.6 1046.8 334.9 1046.8 461.1 740.9M82.4 1046.8 208.6 1046.8 334.9 1046.8 461.1 735.7M82.4 1046.8 208.6 1046.8 334.9 1046.8 461.1 727.3M82.4 1046.8 208.6 1046.8 334.9 1046.8 461.1 723.9M82.4 1046.8 208.6 1046.8 334.9 1046.8 461.1 736.9M82.4 1046.8 208.6 1046.8 334.9 1046.8 461.1 735.3M82.4 1046.8 208.6 1046.8 334.9 1046.8 461.1 735.9M82.4 1046.8 208.6 1046.8 334.9 1046.8 461.1 739.9M82.4 1046.8 208.6 1046.8 334.9 1046.8 461.1 734.1M82.4 1046.8 208.6 1046.8 334.9 1046.8 461.1 731.6M82.4 1046.8 208.6 1046.8 334.9 1046.8 461.1 723.0M82.4 1046.8 208.6 1046.8 334.9 1046.8 461.1 718.6M82.4 1046.8 208.6 1046.8 334.9 1046.8 461.1 719.1M82.4 1046.8 208.6 1046.8 334.9 1046.8 461.1 723.2M82.4 1046.8 208.6 1046.8 334.9 1046.8 461.1 698.3M82.4 1046.8 208.6 1046.8 334.9 1046.8 461.1 710.9M82.4 1046.8 208.6 1046.8 334.9 1046.8 461.1 710.6M82.4 1046.8 208.6 1046.8 334.9 1046.8 461.1 715.8M82.4 1046.8 208.6 1046.8 334.9 1046.8 461.1 680.5M82.4 1046.8 208.6 1046.8 334.9 1046.8 461.1 719.9M82.4 1046.8 208.6 1046.8 334.9 1046.8 461.1 737.1M82.4 1046.8 208.6 1046.8 334.9 1046.8 461.1 718.7M82.4 1046.8 208.6 1046.8 334.9 1046.8 461.1 721.0M82.4 1046.8 208.6 1046.8 334.9 1046.8 461.1 721.5M82.4 1046.8 208.6 1046.8 334.9 1046.8 461.1 713.9M82.4 1046.8 208.6 1046.8 334.9 1046.8 461.1 727.0M82.4 1046.8 208.6 1046.8 334.9 1046.8 461.1 733.2M82.4 1046.8 208.6 1046.8 334.9 1046.8 461.1 730.1M82.4 1046.8 208.6 1046.8 334.9 1046.8 461.1 722.6M82.4 1046.8 208.6 1046.8 334.9 1046.8 461.1 723.3M82.4 1046.8 208.6 1046.8 334.9 1046.8 461.1 728.1M82.4 1046.8 208.6 1046.8 334.9 1046.8 461.1 715.5M82.4 1046.8 208.6 1046.8 334.9 1046.8 461.1 735.2M82.4 1046.8 208.6 1046.8 334.9 1046.8 461.1 727.3M82.4 1046.8 208.6 1046.8 334.9 1046.8 461.1 731.1M82.4 1046.8 208.6 1046.8 334.9 1046.8 461.1 724.1M82.4 1046.8 208.6 1046.8 334.9 1046.8 461.1 709.5M82.4 1046.8 208.6 1046.8 334.9 1046.8 461.1 738.3M82.4 1046.8 208.6 1046.8 334.9 1046.8 461.1 724.6M82.4 1046.8 208.6 1046.8 334.9 1046.8 461.1 724.7M82.4 1046.8 208.6 1046.8 334.9 1046.8 461.1 727.7M82.4 1046.8 208.6 1046.8 334.9 1046.8 461.1 727.1M82.4 1046.8 208.6 1046.8 334.9 1046.8 461.1 709.0M82.4 1046.8 208.6 1046.8 334.9 1046.8 461.1 729.0M82.4 1046.8 208.6 1046.8 334.9 1046.8 461.1 723.6M82.4 1046.8 208.6 1046.8 334.9 1046.8 461.1 721.2M82.4 1046.8 208.6 1046.8 334.9 1046.8 461.1 712.9M82.4 1046.8 208.6 1046.8 334.9 1046.8 461.1 705.6M82.4 1046.8 208.6 1046.8 334.9 1046.8 461.1 731.2M82.4 1046.8 208.6 1046.8 334.9 1046.8 461.1 718.0M82.4 1046.8 208.6 1046.8 334.9 1046.8 461.1 724.2M82.4 1046.8 208.6 1046.8 334.9 1046.8 461.1 737.3M82.4 1046.8 208.6 1046.8 334.9 1046.8 461.1 698.1M82.4 1046.8 208.6 1046.8 334.9 1046.8 461.1 712.3M82.4 1046.8 208.6 1046.8 334.9 1046.8 461.1 736.1M82.4 1046.8 208.6 1046.8 334.9 1046.8 461.1 730.7M82.4 1046.8 208.6 1046.8 334.9 1046.8 461.1 715.7M82.4 1046.8 208.6 1046.8 334.9 1046.8 461.1 713.4M82.4 1046.8 208.6 1046.8 334.9 1046.8 461.1 727.7M82.4 1046.8 208.6 1046.8 334.9 1046.8 461.1 711.4M82.4 1046.8 208.6 1046.8 334.9 1046.8 461.1 742.2M82.4 1046.8 208.6 1046.8 334.9 1046.8 461.1 715.1M82.4 1046.8 208.6 1046.8 334.9 1046.8 461.1 741.8M82.4 1046.8 208.6 1046.8 334.9 1046.8 461.1 728.5M82.4 1046.8 208.6 1046.8 334.9 1046.8 461.1 705.2M82.4 1046.8 208.6 1046.8 334.9 1046.8 461.1 724.9M82.4 1046.8 208.6 1046.8 334.9 1046.8 461.1 734.1M82.4 1046.8 208.6 1046.8 334.9 1046.8 461.1 724.3M82.4 1046.8 208.6 1046.8 334.9 1046.8 461.1 729.6M82.4 1046.8 208.6 1046.8 334.9 1046.8 461.1 722.4M82.4 1046.8 208.6 1046.8 334.9 1046.8 461.1 714.2M82.4 1046.8 208.6 1046.8 334.9 1046.8 461.1 710.3M82.4 1046.8 208.6 1046.8 334.9 1046.8 461.1 714.2M82.4 1046.8 208.6 1046.8 334.9 1046.8 461.1 714.7M82.4 1046.8 208.6 1046.8 334.9 1046.8 461.1 730.3M82.4 1046.8 208.6 1046.8 334.9 1046.8 461.1 699.3M82.4 1046.8 208.6 1046.8 334.9 1046.8 461.1 720.6M82.4 1046.8 208.6 1046.8 334.9 1046.8 461.1 733.5M82.4 1046.8 208.6 1046.8 334.9 1046.8 461.1 711.2M82.4 1046.8 208.6 1046.8 334.9 1046.8 461.1 725.2M82.4 1046.8 208.6 1046.8 334.9 1046.8 461.1 735.1M82.4 1046.8 208.6 1046.8 334.9 1046.8 461.1 705.0M82.4 1046.8 208.6 1046.8 334.9 1046.8 461.1 710.9M82.4 1046.8 208.6 1046.8 334.9 1046.8 461.1 731.2M82.4 1046.8 208.6 1046.8 334.9 1046.8 461.1 712.0M82.4 1046.8 208.6 1046.8 334.9 1046.8 461.1 730.4M82.4 1046.8 208.6 1046.8 334.9 1046.8 461.1 714.1M82.4 1046.8 208.6 1046.8 334.9 1046.8 461.1 711.1M82.4 1046.8 208.6 1046.8 334.9 1046.8 461.1 726.6M82.4 1046.8 208.6 1046.8 334.9 1046.8 461.1 711.6M82.4 1046.8 208.6 1046.8 334.9 1046.8 461.1 660.0M82.4 1046.8 208.6 1046.8 334.9 1046.8 461.1 730.1M82.4 1046.8 208.6 1046.8 334.9 1046.8 461.1 721.8M82.4 1046.8 208.6 1046.8 334.9 1046.8 461.1 733.8M82.4 1046.8 208.6 1046.8 334.9 1046.8 461.1 719.6M82.4 1046.8 208.6 1046.8 334.9 1046.8 461.1 716.9M82.4 1046.8 208.6 1046.8 334.9 1046.8 461.1 737.5M82.4 1046.8 208.6 1046.8 334.9 1046.8 461.1 718.7M82.4 1046.8 208.6 1046.8 334.9 1046.8 461.1 718.2M82.4 1046.8 208.6 1046.8 334.9 1046.8 461.1 716.4M82.4 1046.8 208.6 1046.8 334.9 1046.8 461.1 736.9M82.4 1046.8 208.6 1046.8 334.9 1046.8 461.1 715.7M82.4 1046.8 208.6 1046.8 334.9 1046.8 461.1 730.3M82.4 1046.8 208.6 1046.8 334.9 1046.8 461.1 737.0M82.4 1046.8 208.6 1046.8 334.9 1046.8 461.1 737.9M82.4 1046.8 208.6 1046.8 334.9 1046.8 461.1 729.6M82.4 1046.8 208.6 1046.8 334.9 1046.8 461.1 728.3M82.4 1046.8 208.6 1046.8 334.9 1046.8 461.1 720.6M82.4 1046.8 208.6 1046.8 334.9 1046.8 461.1 740.8M82.4 1046.8 208.6 1046.8 334.9 1046.8 461.1 713.0M82.4 1046.8 208.6 1046.8 334.9 1046.8 461.1 735.0M82.4 1046.8 208.6 1046.8 334.9 1046.8 461.1 734.4M82.4 1046.8 208.6 1046.8 334.9 1046.8 461.1 737.2M82.4 1046.8 208.6 1046.8 334.9 1046.8 461.1 720.2M82.4 1046.8 208.6 1046.8 334.9 1046.8 461.1 741.9M82.4 1046.8 208.6 1046.8 334.9 1046.8 461.1 738.0M82.4 1046.8 208.6 1046.8 334.9 1046.8 461.1 742.2M82.4 1046.8 208.6 1046.8 334.9 1046.8 461.1 723.2M82.4 1046.8 208.6 1046.8 334.9 1046.8 461.1 701.1M82.4 1046.8 208.6 1046.8 334.9 1046.8 461.1 732.5M82.4 1046.8 208.6 1046.8 334.9 1046.8 461.1 714.5M82.4 1046.8 208.6 1046.8 334.9 1046.8 461.1 728.3M82.4 1046.8 208.6 1046.8 334.9 1046.8 461.1 713.1M82.4 1046.8 208.6 1046.8 334.9 1046.8 461.1 710.2M82.4 1046.8 208.6 1046.8 334.9 1046.8 461.1 720.1M82.4 1046.8 208.6 1046.8 334.9 1046.8 461.1 733.9M82.4 1046.8 208.6 1046.8 334.9 1046.8 461.1 728.7M82.4 1046.8 208.6 1046.8 334.9 1046.8 461.1 736.7M82.4 1046.8 208.6 1046.8 334.9 1046.8 461.1 707.9M82.4 1046.8 208.6 1046.8 334.9 1046.8 461.1 726.3M82.4 1046.8 208.6 1046.8 334.9 1046.8 461.1 735.3M82.4 1046.8 208.6 1046.8 334.9 1046.8 461.1 724.3M82.4 1046.8 208.6 1046.8 334.9 1046.8 461.1 731.6M82.4 1046.8 208.6 1046.8 334.9 1046.8 461.1 705.6M82.4 1046.8 208.6 1046.8 334.9 1046.8 461.1 632.7M82.4 1046.8 208.6 1046.8 334.9 1046.8 461.1 725.7M82.4 1046.8 208.6 1046.8 334.9 1046.8 461.1 733.8M82.4 1046.8 208.6 1046.8 334.9 1046.8 461.1 716.8M82.4 1046.8 208.6 1046.8 334.9 1046.8 461.1 714.3M82.4 1046.8 208.6 1046.8 334.9 1046.8 461.1 728.2M82.4 1046.8 208.6 1046.8 334.9 1046.8 461.1 724.6M82.4 1046.8 208.6 1046.8 334.9 1046.8 461.1 724.6M82.4 1046.8 208.6 1046.8 334.9 1046.8 461.1 733.1M82.4 1046.8 208.6 1046.8 334.9 1046.8 461.1 656.7M82.4 1046.8 208.6 1046.8 334.9 1046.8 461.1 721.5M82.4 1046.8 208.6 1046.8 334.9 1046.8 461.1 722.0M82.4 1046.8 208.6 1046.8 334.9 1046.8 461.1 718.4M82.4 1046.8 208.6 1046.8 334.9 1046.8 461.1 723.6M82.4 1046.8 208.6 1046.8 334.9 1046.8 461.1 724.6M82.4 1046.8 208.6 1046.8 334.9 1046.8 461.1 739.6M82.4 1046.8 208.6 1046.8 334.9 1046.8 461.1 734.2M82.4 1046.8 208.6 1046.8 334.9 1046.8 461.1 736.2M82.4 1046.8 208.6 1046.8 334.9 1046.8 461.1 727.0M82.4 1046.8 208.6 1046.8 334.9 1046.8 461.1 738.5M82.4 1046.8 208.6 1046.8 334.9 1046.8 461.1 732.7M82.4 1046.8 208.6 1046.8 334.9 1046.8 461.1 713.9M82.4 1046.8 208.6 1046.8 334.9 1046.8 461.1 712.5M82.4 1046.8 208.6 1046.8 334.9 1046.8 461.1 729.3M82.4 1046.8 208.6 1046.8 334.9 1046.8 461.1 701.4M82.4 1046.8 208.6 1046.8 334.9 1046.8 461.1 730.6M82.4 1046.8 208.6 1046.8 334.9 1046.8 461.1 701.1M82.4 1046.8 208.6 1046.8 334.9 1046.8 461.1 725.6M82.4 1046.8 208.6 1046.8 334.9 1046.8 461.1 739.1M82.4 1046.8 208.6 1046.8 334.9 1046.8 461.1 728.6M82.4 1046.8 208.6 1046.8 334.9 1046.8 461.1 719.7M82.4 1046.8 208.6 1046.8 334.9 1046.8 461.1 717.2M82.4 1046.8 208.6 1046.8 334.9 1046.8 461.1 741.1M82.4 1046.8 208.6 1046.8 334.9 1046.8 461.1 736.7M82.4 1046.8 208.6 1046.8 334.9 1046.8 461.1 732.5M82.4 1046.8 208.6 1046.8 334.9 1046.8 461.1 725.0M82.4 1046.8 208.6 1046.8 334.9 1046.8 461.1 721.1M82.4 1046.8 208.6 1046.8 334.9 1046.8 461.1 728.6M82.4 1046.8 208.6 1046.8 334.9 1046.8 461.1 725.3M82.4 1046.8 208.6 1046.8 334.9 1046.8 461.1 735.5M82.4 1046.8 208.6 1046.8 334.9 1046.8 461.1 726.3M82.4 1046.8 208.6 1046.8 334.9 1046.8 461.1 711.5M82.4 1046.8 208.6 1046.8 334.9 1046.8 461.1 712.3M82.4 1046.8 208.6 1046.8 334.9 1046.8 461.1 725.6M82.4 1046.8 208.6 1046.8 334.9 1046.8 461.1 730.2M82.4 1046.8 208.6 1046.8 334.9 1046.8 461.1 737.7M82.4 1046.8 208.6 1046.8 334.9 1046.8 461.1 742.6M82.4 1046.8 208.6 1046.8 334.9 1046.8 461.1 723.2M82.4 1046.8 208.6 1046.8 334.9 1046.8 461.1 728.2M82.4 1046.8 208.6 1046.8 334.9 1046.8 461.1 733.6M82.4 1046.8 208.6 1046.8 334.9 1046.8 461.1 737.7M82.4 1046.8 208.6 1046.8 334.9 1046.8 461.1 720.4M82.4 1046.8 208.6 1046.8 334.9 1046.8 461.1 715.1M82.4 1046.8 208.6 1046.8 334.9 1046.8 461.1 684.8M82.4 1046.8 208.6 1046.8 334.9 1046.8 461.1 740.6M82.4 1046.8 208.6 1046.8 334.9 1046.8 461.1 730.4M82.4 1046.8 208.6 1046.8 334.9 1046.8 461.1 721.2M82.4 1046.8 208.6 1046.8 334.9 1046.8 461.1 668.8M82.4 1046.8 208.6 1046.8 334.9 1046.8 461.1 736.3M82.4 1046.8 208.6 1046.8 334.9 1046.8 461.1 722.1M82.4 1046.8 208.6 1046.8 334.9 1046.8 461.1 730.0M82.4 1046.8 208.6 1046.8 334.9 1046.8 461.1 742.4M82.4 1046.8 208.6 1046.8 334.9 1046.8 461.1 734.1M82.4 1046.8 208.6 1046.8 334.9 1046.8 461.1 729.9M82.4 1046.8 208.6 1046.8 334.9 1046.8 461.1 691.7M82.4 1046.8 208.6 1046.8 334.9 1046.8 461.1 729.2M82.4 1046.8 208.6 1046.8 334.9 1046.8 461.1 738.7M82.4 1046.8 208.6 1046.8 334.9 1046.8 461.1 722.9M82.4 1046.8 208.6 1046.8 334.9 1046.8 461.1 732.6M82.4 1046.8 208.6 1046.8 334.9 1046.8 461.1 708.7M82.4 1046.8 208.6 1046.8 334.9 1046.8 461.1 726.9M82.4 1046.8 208.6 1046.8 334.9 1046.8 461.1 707.1M82.4 1046.8 208.6 1046.8 334.9 1046.8 461.1 729.4M82.4 1046.8 208.6 1046.8 334.9 1046.8 461.1 693.3M82.4 1046.8 208.6 1046.8 334.9 1046.8 461.1 717.6M82.4 1046.8 208.6 1046.8 334.9 1046.8 461.1 722.6M82.4 1046.8 208.6 1046.8 334.9 1046.8 461.1 734.2M82.4 1046.8 208.6 1046.8 334.9 1046.8 461.1 705.0M82.4 1046.8 208.6 1046.8 334.9 1046.8 461.1 694.9M82.4 1046.8 208.6 1046.8 334.9 1046.8 461.1 721.8M82.4 1046.8 208.6 1046.8 334.9 1046.8 461.1 721.3M82.4 1046.8 208.6 1046.8 334.9 1046.8 461.1 730.3M82.4 1046.8 208.6 1046.8 334.9 1046.8 461.1 726.2M82.4 1046.8 208.6 1046.8 334.9 1046.8 461.1 690.7M82.4 1046.8 208.6 1046.8 334.9 1046.8 461.1 721.8M82.4 1046.8 208.6 1046.8 334.9 1046.8 461.1 694.0M82.4 1046.8 208.6 1046.8 334.9 1046.8 461.1 719.0M82.4 1046.8 208.6 1046.8 334.9 1046.8 461.1 719.5M82.4 1046.8 208.6 1046.8 334.9 1046.8 461.1 721.0M82.4 1046.8 208.6 1046.8 334.9 1046.8 461.1 735.8M82.4 1046.8 208.6 1046.8 334.9 1046.8 461.1 725.0M82.4 1046.8 208.6 1046.8 334.9 1046.8 461.1 721.0M82.4 1046.8 208.6 1046.8 334.9 1046.8 461.1 726.7M82.4 1046.8 208.6 1046.8 334.9 1046.8 461.1 721.6M82.4 1046.8 208.6 1046.8 334.9 1046.8 461.1 729.5M82.4 1046.8 208.6 1046.8 334.9 1046.8 461.1 722.7M82.4 1046.8 208.6 1046.8 334.9 1046.8 461.1 717.2M82.4 1046.8 208.6 1046.8 334.9 1046.8 461.1 708.4M82.4 1046.8 208.6 1046.8 334.9 1046.8 461.1 719.7M82.4 1046.8 208.6 1046.8 334.9 1046.8 461.1 740.8M82.4 1046.8 208.6 1046.8 334.9 1046.8 461.1 725.5M82.4 1046.8 208.6 1046.8 334.9 1046.8 461.1 742.0M82.4 1046.8 208.6 1046.8 334.9 1046.8 461.1 733.2M82.4 1046.8 208.6 1046.8 334.9 1046.8 461.1 713.6M82.4 1046.8 208.6 1046.8 334.9 1046.8 461.1 684.5M82.4 1046.8 208.6 1046.8 334.9 1046.8 461.1 720.1M82.4 1046.8 208.6 1046.8 334.9 1046.8 461.1 733.0M82.4 1046.8 208.6 1046.8 334.9 1046.8 461.1 731.4M82.4 1046.8 208.6 1046.8 334.9 1046.8 461.1 728.3M82.4 1046.8 208.6 1046.8 334.9 1046.8 461.1 720.6M82.4 1046.8 208.6 1046.8 334.9 1046.8 461.1 731.9M82.4 1046.8 208.6 1046.8 334.9 1046.8 461.1 722.2M82.4 1046.8 208.6 1046.8 334.9 1046.8 461.1 733.1M82.4 1046.8 208.6 1046.8 334.9 1046.8 461.1 714.1M82.4 1046.8 208.6 1046.8 334.9 1046.8 461.1 722.4M82.4 1046.8 208.6 1046.8 334.9 1046.8 461.1 723.0M82.4 1046.8 208.6 1046.8 334.9 1046.8 461.1 724.6M82.4 1046.8 208.6 1046.8 334.9 1046.8 461.1 733.2M82.4 1046.8 208.6 1046.8 334.9 1046.8 461.1 717.3M82.4 1046.8 208.6 1046.8 334.9 1046.8 461.1 723.8M82.4 1046.8 208.6 1046.8 334.9 1046.8 461.1 736.3M82.4 1046.8 208.6 1046.8 334.9 1046.8 461.1 726.1M82.4 1046.8 208.6 1046.8 334.9 1046.8 461.1 728.0M82.4 1046.8 208.6 1046.8 334.9 1046.8 461.1 728.4M82.4 1046.8 208.6 1046.8 334.9 1046.8 461.1 726.2M82.4 1046.8 208.6 1046.8 334.9 1046.8 461.1 711.8M82.4 1046.8 208.6 1046.8 334.9 1046.8 461.1 727.7M82.4 1046.8 208.6 1046.8 334.9 1046.8 461.1 727.9M82.4 1046.8 208.6 1046.8 334.9 1046.8 461.1 729.8M82.4 1046.8 208.6 1046.8 334.9 1046.8 461.1 723.4M82.4 1046.8 208.6 1046.8 334.9 1046.8 461.1 721.0M82.4 1046.8 208.6 1046.8 334.9 1046.8 461.1 706.9M82.4 1046.8 208.6 1046.8 334.9 1046.8 461.1 707.8M82.4 1046.8 208.6 1046.8 334.9 1046.8 461.1 717.9M82.4 1046.8 208.6 1046.8 334.9 1046.8 461.1 714.3M82.4 1046.8 208.6 1046.8 334.9 1046.8 461.1 714.1M82.4 1046.8 208.6 1046.8 334.9 1046.8 461.1 728.2M82.4 1046.8 208.6 1046.8 334.9 1046.8 461.1 725.0M82.4 1046.8 208.6 1046.8 334.9 1046.8 461.1 640.6M82.4 1046.8 208.6 1046.8 334.9 1046.8 461.1 722.1M82.4 1046.8 208.6 1046.8 334.9 1046.8 461.1 719.8M82.4 1046.8 208.6 1046.8 334.9 1046.8 461.1 675.1M82.4 1046.8 208.6 1046.8 334.9 1046.8 461.1 686.1M82.4 1046.8 208.6 1046.8 334.9 1046.8 461.1 704.9M82.4 1046.8 208.6 1046.8 334.9 1046.8 461.1 725.2M82.4 1046.8 208.6 1046.8 334.9 1046.8 461.1 701.8M82.4 1046.8 208.6 1046.8 334.9 1046.8 461.1 718.1M82.4 1046.8 208.6 1046.8 334.9 1046.8 461.1 725.7M82.4 1046.8 208.6 1046.8 334.9 1046.8 461.1 702.9M82.4 1046.8 208.6 1046.8 334.9 1046.8 461.1 736.6M82.4 1046.8 208.6 1046.8 334.9 1046.8 461.1 708.4M82.4 1046.8 208.6 1046.8 334.9 1046.8 461.1 730.8M82.4 1046.8 208.6 1046.8 334.9 1046.8 461.1 676.6M82.4 1046.8 208.6 1046.8 334.9 1046.8 461.1 737.9M82.4 1046.8 208.6 1046.8 334.9 1046.8 461.1 727.1M82.4 1046.8 208.6 1046.8 334.9 1046.8 461.1 730.4M82.4 1046.8 208.6 1046.8 334.9 1046.8 461.1 726.7M82.4 1046.8 208.6 1046.8 334.9 1046.8 461.1 729.4M82.4 1046.8 208.6 1046.8 334.9 1046.8 461.1 723.7M82.4 1046.8 208.6 1046.8 334.9 1046.8 461.1 729.9M82.4 1046.8 208.6 1046.8 334.9 1046.8 461.1 710.5M82.4 1046.8 208.6 1046.8 334.9 1046.8 461.1 703.4M82.4 1046.8 208.6 1046.8 334.9 1046.8 461.1 727.9M82.4 1046.8 208.6 1046.8 334.9 1046.8 461.1 742.1M82.4 1046.8 208.6 1046.8 334.9 1046.8 461.1 705.6M82.4 1046.8 208.6 1046.8 334.9 1046.8 461.1 716.7M82.4 1046.8 208.6 1046.8 334.9 1046.8 461.1 713.5M82.4 1046.8 208.6 1046.8 334.9 1046.8 461.1 723.9M82.4 1046.8 208.6 1046.8 334.9 1046.8 461.1 723.3" fill="none" stroke="#d3d3d3" stroke-width="1.15" stroke-linejoin="miter" stroke-miterlimit="20"/>
<polyline points="82.4,1046.8 208.6,1046.8 334.9,948.5 461.1,725.3" fill="none" stroke="#1414e6" stroke-width="1.8"/>
<circle cx="81.0" cy="1046.8" r="1.8" fill="#1414e6"/>
<circle cx="207.2" cy="1046.8" r="1.8" fill="#1414e6"/>
<circle cx="333.5" cy="948.5" r="1.8" fill="#1414e6"/>
<circle cx="459.7" cy="725.3" r="1.8" fill="#1414e6"/>
<line x1="82.4" y1="1046.8" x2="461.1" y2="1046.8" stroke="#e63232" stroke-width="1.9"/>
</g>
<rect x="67.2" y="607.5" width="409.1" height="456.3" fill="none" stroke="#262626" stroke-width="1.6"/>
<line x1="82.4" y1="1063.8" x2="82.4" y2="1072.1" stroke="#262626" stroke-width="1.6"/>
<text transform="translate(84.9 1091.5) scale(1 1.04)" text-anchor="middle" class="xl">YG2C</text>
<line x1="208.6" y1="1063.8" x2="208.6" y2="1072.1" stroke="#262626" stroke-width="1.6"/>
<text transform="translate(208.4 1091.5) scale(1 1.04)" text-anchor="middle" class="xl">YG2T</text>
<line x1="334.9" y1="1063.8" x2="334.9" y2="1072.1" stroke="#262626" stroke-width="1.6"/>
<text transform="translate(335.4 1091.5) scale(1 1.04)" text-anchor="middle" class="xl">An04C</text>
<line x1="461.1" y1="1063.8" x2="461.1" y2="1072.1" stroke="#262626" stroke-width="1.6"/>
<text transform="translate(460.4 1091.5) scale(1 1.04)" text-anchor="middle" class="xl">An04T</text>
<line x1="59.7" y1="1046.8" x2="67.2" y2="1046.8" stroke="#262626" stroke-width="1.6"/>
<text transform="translate(53.0 1055.6) scale(0.875 1.0)" text-anchor="end" class="yt">0</text>
<line x1="59.7" y1="957.8" x2="67.2" y2="957.8" stroke="#262626" stroke-width="1.6"/>
<text transform="translate(53.0 966.5) scale(0.875 1.0)" text-anchor="end" class="yt">5</text>
<line x1="59.7" y1="868.7" x2="67.2" y2="868.7" stroke="#262626" stroke-width="1.6"/>
<text transform="translate(53.0 877.5) scale(0.875 1.0)" text-anchor="end" class="yt">10</text>
<line x1="59.7" y1="779.6" x2="67.2" y2="779.6" stroke="#262626" stroke-width="1.6"/>
<text transform="translate(53.0 788.4) scale(0.875 1.0)" text-anchor="end" class="yt">15</text>
<line x1="59.7" y1="690.6" x2="67.2" y2="690.6" stroke="#262626" stroke-width="1.6"/>
<text transform="translate(53.0 699.4) scale(0.875 1.0)" text-anchor="end" class="yt">20</text>
<text transform="translate(21.0 835.6) rotate(-90)" text-anchor="middle" class="yl" textLength="120.9" lengthAdjust="spacingAndGlyphs">log2(ratio)</text>
<text transform="translate(104.1 586.5) scale(1 1)" class="tt" textLength="334.0" lengthAdjust="spacingAndGlyphs">Subcluster_5, 849 genes</text>
<clipPath id="c5"><rect x="566.8" y="605.8" width="409.2" height="455.6"/></clipPath>
<g clip-path="url(#c5)">
<path d="M582.0 1044.3 708.3 1044.3 834.5 671.7 960.8 1044.3M582.0 1044.3 708.3 1044.3 834.5 697.0 960.8 1044.3M582.0 1044.3 708.3 1044.3 834.5 678.8 960.8 1044.3M582.0 1044.3 708.3 1044.3 834.5 680.0 960.8 1044.3M582.0 1044.3 708.3 1044.3 834.5 676.6 960.8 1044.3M582.0 1044.3 708.3 1044.3 834.5 682.1 960.8 1044.3M582.0 1044.3 708.3 1044.3 834.5 673.2 960.8 1044.3M582.0 1044.3 708.3 1044.3 834.5 684.9 960.8 1044.3M582.0 1044.3 708.3 1044.3 834.5 676.4 960.8 1044.3M582.0 1044.3 708.3 1044.3 834.5 687.7 960.8 1044.3M582.0 1044.3 708.3 1044.3 834.5 678.1 960.8 1044.3M582.0 1044.3 708.3 1044.3 834.5 667.1 960.8 1044.3M582.0 1044.3 708.3 1044.3 834.5 685.3 960.8 1044.3M582.0 1044.3 708.3 1044.3 834.5 671.1 960.8 1044.3M582.0 1044.3 708.3 1044.3 834.5 690.1 960.8 1044.3M582.0 1044.3 708.3 1044.3 834.5 683.8 960.8 1044.3M582.0 1044.3 708.3 1044.3 834.5 682.2 960.8 1044.3M582.0 1044.3 708.3 1044.3 834.5 664.0 960.8 1044.3M582.0 1044.3 708.3 1044.3 834.5 688.7 960.8 1044.3M582.0 1044.3 708.3 1044.3 834.5 664.4 960.8 1044.3M582.0 1044.3 708.3 1044.3 834.5 697.2 960.8 1044.3M582.0 1044.3 708.3 1044.3 834.5 681.2 960.8 1044.3M582.0 1044.3 708.3 1044.3 834.5 668.1 960.8 1044.3M582.0 1044.3 708.3 1044.3 834.5 670.8 960.8 1044.3M582.0 1044.3 708.3 1044.3 834.5 691.7 960.8 1044.3M582.0 1044.3 708.3 1044.3 834.5 694.3 960.8 1044.3M582.0 1044.3 708.3 1044.3 834.5 668.5 960.8 1044.3M582.0 1044.3 708.3 1044.3 834.5 694.7 960.8 1044.3M582.0 1044.3 708.3 1044.3 834.5 672.2 960.8 1044.3M582.0 1044.3 708.3 1044.3 834.5 685.7 960.8 1044.3M582.0 1044.3 708.3 1044.3 834.5 679.4 960.8 1044.3M582.0 1044.3 708.3 1044.3 834.5 660.3 960.8 1044.3M582.0 1044.3 708.3 1044.3 834.5 669.0 960.8 1044.3M582.0 1044.3 708.3 1044.3 834.5 696.2 960.8 1044.3M582.0 1044.3 708.3 1044.3 834.5 675.4 960.8 1044.3M582.0 1044.3 708.3 1044.3 834.5 678.7 960.8 1044.3M582.0 1044.3 708.3 1044.3 834.5 680.5 960.8 1044.3M582.0 1044.3 708.3 1044.3 834.5 662.9 960.8 1044.3M582.0 1044.3 708.3 1044.3 834.5 675.4 960.8 1044.3M582.0 1044.3 708.3 1044.3 834.5 677.8 960.8 1044.3M582.0 1044.3 708.3 1044.3 834.5 688.5 960.8 1044.3M582.0 1044.3 708.3 1044.3 834.5 658.2 960.8 1044.3M582.0 1044.3 708.3 1044.3 834.5 694.9 960.8 1044.3M582.0 1044.3 708.3 1044.3 834.5 679.0 960.8 1044.3M582.0 1044.3 708.3 1044.3 834.5 678.4 960.8 1044.3M582.0 1044.3 708.3 1044.3 834.5 696.9 960.8 1044.3M582.0 1044.3 708.3 1044.3 834.5 691.2 960.8 1044.3M582.0 1044.3 708.3 1044.3 834.5 669.7 960.8 1044.3M582.0 1044.3 708.3 1044.3 834.5 667.7 960.8 1044.3M582.0 1044.3 708.3 1044.3 834.5 672.1 960.8 1044.3M582.0 1044.3 708.3 1044.3 834.5 676.4 960.8 1044.3M582.0 1044.3 708.3 1044.3 834.5 676.7 960.8 1044.3M582.0 1044.3 708.3 1044.3 834.5 685.7 960.8 1044.3M582.0 1044.3 708.3 1044.3 834.5 665.0 960.8 1044.3M582.0 1044.3 708.3 1044.3 834.5 662.8 960.8 1044.3M582.0 1044.3 708.3 1044.3 834.5 670.7 960.8 1044.3M582.0 1044.3 708.3 1044.3 834.5 669.4 960.8 1044.3M582.0 1044.3 708.3 1044.3 834.5 692.0 960.8 1044.3M582.0 1044.3 708.3 1044.3 834.5 678.4 960.8 1044.3M582.0 1044.3 708.3 1044.3 834.5 694.5 960.8 1044.3M582.0 1044.3 708.3 1044.3 834.5 668.4 960.8 1044.3M582.0 1044.3 708.3 1044.3 834.5 694.0 960.8 1044.3M582.0 1044.3 708.3 1044.3 834.5 682.0 960.8 1044.3M582.0 1044.3 708.3 1044.3 834.5 689.5 960.8 1044.3M582.0 1044.3 708.3 1044.3 834.5 685.1 960.8 1044.3M582.0 1044.3 708.3 1044.3 834.5 673.8 960.8 1044.3M582.0 1044.3 708.3 1044.3 834.5 686.3 960.8 1044.3M582.0 1044.3 708.3 1044.3 834.5 676.7 960.8 1044.3M582.0 1044.3 708.3 1044.3 834.5 691.7 960.8 1044.3M582.0 1044.3 708.3 1044.3 834.5 662.2 960.8 1044.3M582.0 1044.3 708.3 1044.3 834.5 687.3 960.8 1044.3M582.0 1044.3 708.3 1044.3 834.5 667.0 960.8 1044.3M582.0 1044.3 708.3 1044.3 834.5 653.1 960.8 1044.3M582.0 1044.3 708.3 1044.3 834.5 691.6 960.8 1044.3M582.0 1044.3 708.3 1044.3 834.5 681.9 960.8 1044.3M582.0 1044.3 708.3 1044.3 834.5 665.0 960.8 1044.3M582.0 1044.3 708.3 1044.3 834.5 685.4 960.8 1044.3M582.0 1044.3 708.3 1044.3 834.5 674.8 960.8 1044.3M582.0 1044.3 708.3 1044.3 834.5 688.4 960.8 1044.3M582.0 1044.3 708.3 1044.3 834.5 672.5 960.8 1044.3M582.0 1044.3 708.3 1044.3 834.5 694.4 960.8 1044.3M582.0 1044.3 708.3 1044.3 834.5 669.1 960.8 1044.3M582.0 1044.3 708.3 1044.3 834.5 657.0 960.8 1044.3M582.0 1044.3 708.3 1044.3 834.5 677.3 960.8 1044.3M582.0 1044.3 708.3 1044.3 834.5 690.5 960.8 1044.3M582.0 1044.3 708.3 1044.3 834.5 652.3 960.8 1044.3M582.0 1044.3 708.3 1044.3 834.5 666.5 960.8 1044.3M582.0 1044.3 708.3 1044.3 834.5 665.5 960.8 1044.3M582.0 1044.3 708.3 1044.3 834.5 684.7 960.8 1044.3M582.0 1044.3 708.3 1044.3 834.5 671.8 960.8 1044.3M582.0 1044.3 708.3 1044.3 834.5 673.2 960.8 1044.3M582.0 1044.3 708.3 1044.3 834.5 672.1 960.8 1044.3M582.0 1044.3 708.3 1044.3 834.5 681.7 960.8 1044.3M582.0 1044.3 708.3 1044.3 834.5 663.6 960.8 1044.3M582.0 1044.3 708.3 1044.3 834.5 663.3 960.8 1044.3M582.0 1044.3 708.3 1044.3 834.5 687.4 960.8 1044.3M582.0 1044.3 708.3 1044.3 834.5 686.9 960.8 1044.3M582.0 1044.3 708.3 1044.3 834.5 677.1 960.8 1044.3M582.0 1044.3 708.3 1044.3 834.5 671.4 960.8 1044.3M582.0 1044.3 708.3 1044.3 834.5 684.6 960.8 1044.3M582.0 1044.3 708.3 1044.3 834.5 680.9 960.8 1044.3M582.0 1044.3 708.3 1044.3 834.5 671.9 960.8 1044.3M582.0 1044.3 708.3 1044.3 834.5 674.3 960.8 1044.3M582.0 1044.3 708.3 1044.3 834.5 665.1 960.8 1044.3M582.0 1044.3 708.3 1044.3 834.5 676.5 960.8 1044.3M582.0 1044.3 708.3 1044.3 834.5 690.5 960.8 1044.3M582.0 1044.3 708.3 1044.3 834.5 669.4 960.8 1044.3M582.0 1044.3 708.3 1044.3 834.5 683.6 960.8 1044.3M582.0 1044.3 708.3 1044.3 834.5 683.8 960.8 1044.3M582.0 1044.3 708.3 1044.3 834.5 683.1 960.8 1044.3M582.0 1044.3 708.3 1044.3 834.5 684.3 960.8 1044.3M582.0 1044.3 708.3 1044.3 834.5 684.5 960.8 1044.3M582.0 1044.3 708.3 1044.3 834.5 690.6 960.8 1044.3M582.0 1044.3 708.3 1044.3 834.5 656.7 960.8 1044.3M582.0 1044.3 708.3 1044.3 834.5 674.0 960.8 1044.3M582.0 1044.3 708.3 1044.3 834.5 682.2 960.8 1044.3M582.0 1044.3 708.3 1044.3 834.5 677.5 960.8 1044.3M582.0 1044.3 708.3 1044.3 834.5 670.5 960.8 1044.3M582.0 1044.3 708.3 1044.3 834.5 688.9 960.8 1044.3M582.0 1044.3 708.3 1044.3 834.5 682.4 960.8 1044.3M582.0 1044.3 708.3 1044.3 834.5 683.9 960.8 1044.3M582.0 1044.3 708.3 1044.3 834.5 678.6 960.8 1044.3M582.0 1044.3 708.3 1044.3 834.5 669.6 960.8 1044.3M582.0 1044.3 708.3 1044.3 834.5 691.4 960.8 1044.3M582.0 1044.3 708.3 1044.3 834.5 680.3 960.8 1044.3M582.0 1044.3 708.3 1044.3 834.5 667.1 960.8 1044.3M582.0 1044.3 708.3 1044.3 834.5 686.6 960.8 1044.3M582.0 1044.3 708.3 1044.3 834.5 682.9 960.8 1044.3M582.0 1044.3 708.3 1044.3 834.5 694.9 960.8 1044.3M582.0 1044.3 708.3 1044.3 834.5 692.7 960.8 1044.3M582.0 1044.3 708.3 1044.3 834.5 665.3 960.8 1044.3M582.0 1044.3 708.3 1044.3 834.5 693.9 960.8 1044.3M582.0 1044.3 708.3 1044.3 834.5 674.9 960.8 1044.3M582.0 1044.3 708.3 1044.3 834.5 675.4 960.8 1044.3M582.0 1044.3 708.3 1044.3 834.5 687.7 960.8 1044.3M582.0 1044.3 708.3 1044.3 834.5 679.0 960.8 1044.3M582.0 1044.3 708.3 1044.3 834.5 680.7 960.8 1044.3M582.0 1044.3 708.3 1044.3 834.5 685.8 960.8 1044.3M582.0 1044.3 708.3 1044.3 834.5 679.0 960.8 1044.3M582.0 1044.3 708.3 1044.3 834.5 678.9 960.8 1044.3M582.0 1044.3 708.3 1044.3 834.5 692.3 960.8 1044.3M582.0 1044.3 708.3 1044.3 834.5 695.8 960.8 1044.3M582.0 1044.3 708.3 1044.3 834.5 690.2 960.8 1044.3M582.0 1044.3 708.3 1044.3 834.5 678.1 960.8 1044.3M582.0 1044.3 708.3 1044.3 834.5 662.3 960.8 1044.3M582.0 1044.3 708.3 1044.3 834.5 661.2 960.8 1044.3M582.0 1044.3 708.3 1044.3 834.5 675.7 960.8 1044.3M582.0 1044.3 708.3 1044.3 834.5 667.8 960.8 1044.3M582.0 1044.3 708.3 1044.3 834.5 678.1 960.8 1044.3M582.0 1044.3 708.3 1044.3 834.5 665.8 960.8 1044.3M582.0 1044.3 708.3 1044.3 834.5 678.0 960.8 1044.3M582.0 1044.3 708.3 1044.3 834.5 674.7 960.8 1044.3M582.0 1044.3 708.3 1044.3 834.5 683.2 960.8 1044.3M582.0 1044.3 708.3 1044.3 834.5 679.7 960.8 1044.3M582.0 1044.3 708.3 1044.3 834.5 655.9 960.8 1044.3M582.0 1044.3 708.3 1044.3 834.5 694.6 960.8 1044.3M582.0 1044.3 708.3 1044.3 834.5 679.6 960.8 1044.3M582.0 1044.3 708.3 1044.3 834.5 687.0 960.8 1044.3M582.0 1044.3 708.3 1044.3 834.5 667.6 960.8 1044.3M582.0 1044.3 708.3 1044.3 834.5 656.9 960.8 1044.3M582.0 1044.3 708.3 1044.3 834.5 683.5 960.8 1044.3M582.0 1044.3 708.3 1044.3 834.5 671.9 960.8 1044.3M582.0 1044.3 708.3 1044.3 834.5 671.9 960.8 1044.3M582.0 1044.3 708.3 1044.3 834.5 682.7 960.8 1044.3M582.0 1044.3 708.3 1044.3 834.5 680.5 960.8 1044.3M582.0 1044.3 708.3 1044.3 834.5 671.2 960.8 1044.3M582.0 1044.3 708.3 1044.3 834.5 674.1 960.8 1044.3M582.0 1044.3 708.3 1044.3 834.5 676.7 960.8 1044.3M582.0 1044.3 708.3 1044.3 834.5 693.0 960.8 1044.3M582.0 1044.3 708.3 1044.3 834.5 688.6 960.8 1044.3M582.0 1044.3 708.3 1044.3 834.5 687.6 960.8 1044.3M582.0 1044.3 708.3 1044.3 834.5 673.7 960.8 1044.3M582.0 1044.3 708.3 1044.3 834.5 692.0 960.8 1044.3M582.0 1044.3 708.3 1044.3 834.5 661.3 960.8 1044.3M582.0 1044.3 708.3 1044.3 834.5 674.9 960.8 1044.3M582.0 1044.3 708.3 1044.3 834.5 658.5 960.8 1044.3M582.0 1044.3 708.3 1044.3 834.5 677.7 960.8 1044.3M582.0 1044.3 708.3 1044.3 834.5 686.6 960.8 1044.3M582.0 1044.3 708.3 1044.3 834.5 678.4 960.8 1044.3M582.0 1044.3 708.3 1044.3 834.5 677.3 960.8 1044.3M582.0 1044.3 708.3 1044.3 834.5 692.6 960.8 1044.3M582.0 1044.3 708.3 1044.3 834.5 662.7 960.8 1044.3M582.0 1044.3 708.3 1044.3 834.5 663.8 960.8 1044.3M582.0 1044.3 708.3 1044.3 834.5 684.0 960.8 1044.3M582.0 1044.3 708.3 1044.3 834.5 691.9 960.8 1044.3M582.0 1044.3 708.3 1044.3 834.5 668.0 960.8 1044.3M582.0 1044.3 708.3 1044.3 834.5 680.4 960.8 1044.3M582.0 1044.3 708.3 1044.3 834.5 677.1 960.8 1044.3M582.0 1044.3 708.3 1044.3 834.5 671.9 960.8 1044.3M582.0 1044.3 708.3 1044.3 834.5 693.3 960.8 1044.3M582.0 1044.3 708.3 1044.3 834.5 669.8 960.8 1044.3M582.0 1044.3 708.3 1044.3 834.5 661.3 960.8 1044.3M582.0 1044.3 708.3 1044.3 834.5 687.7 960.8 1044.3M582.0 1044.3 708.3 1044.3 834.5 688.2 960.8 1044.3M582.0 1044.3 708.3 1044.3 834.5 670.6 960.8 1044.3M582.0 1044.3 708.3 1044.3 834.5 670.4 960.8 1044.3M582.0 1044.3 708.3 1044.3 834.5 675.3 960.8 1044.3M582.0 1044.3 708.3 1044.3 834.5 673.0 960.8 1044.3M582.0 1044.3 708.3 1044.3 834.5 673.9 960.8 1044.3M582.0 1044.3 708.3 1044.3 834.5 680.7 960.8 1044.3M582.0 1044.3 708.3 1044.3 834.5 680.4 960.8 1044.3M582.0 1044.3 708.3 1044.3 834.5 682.7 960.8 1044.3M582.0 1044.3 708.3 1044.3 834.5 681.6 960.8 1044.3M582.0 1044.3 708.3 1044.3 834.5 677.0 960.8 1044.3M582.0 1044.3 708.3 1044.3 834.5 682.8 960.8 1044.3M582.0 1044.3 708.3 1044.3 834.5 692.5 960.8 1044.3M582.0 1044.3 708.3 1044.3 834.5 664.5 960.8 1044.3M582.0 1044.3 708.3 1044.3 834.5 668.4 960.8 1044.3M582.0 1044.3 708.3 1044.3 834.5 697.0 960.8 1044.3M582.0 1044.3 708.3 1044.3 834.5 683.3 960.8 1044.3M582.0 1044.3 708.3 1044.3 834.5 674.3 960.8 1044.3M582.0 1044.3 708.3 1044.3 834.5 659.7 960.8 1044.3M582.0 1044.3 708.3 1044.3 834.5 687.5 960.8 1044.3M582.0 1044.3 708.3 1044.3 834.5 677.7 960.8 1044.3M582.0 1044.3 708.3 1044.3 834.5 665.3 960.8 1044.3M582.0 1044.3 708.3 1044.3 834.5 689.2 960.8 1044.3M582.0 1044.3 708.3 1044.3 834.5 680.4 960.8 1044.3M582.0 1044.3 708.3 1044.3 834.5 689.0 960.8 1044.3M582.0 1044.3 708.3 1044.3 834.5 653.2 960.8 1044.3M582.0 1044.3 708.3 1044.3 834.5 668.9 960.8 1044.3M582.0 1044.3 708.3 1044.3 834.5 677.4 960.8 1044.3M582.0 1044.3 708.3 1044.3 834.5 692.1 960.8 1044.3M582.0 1044.3 708.3 1044.3 834.5 669.0 960.8 1044.3M582.0 1044.3 708.3 1044.3 834.5 671.9 960.8 1044.3M582.0 1044.3 708.3 1044.3 834.5 686.5 960.8 1044.3M582.0 1044.3 708.3 1044.3 834.5 685.5 960.8 1044.3M582.0 1044.3 708.3 1044.3 834.5 698.5 960.8 1044.3M582.0 1044.3 708.3 1044.3 834.5 680.9 960.8 1044.3M582.0 1044.3 708.3 1044.3 834.5 669.0 960.8 1044.3M582.0 1044.3 708.3 1044.3 834.5 667.3 960.8 1044.3M582.0 1044.3 708.3 1044.3 834.5 672.6 960.8 1044.3M582.0 1044.3 708.3 1044.3 834.5 669.5 960.8 1044.3M582.0 1044.3 708.3 1044.3 834.5 687.4 960.8 1044.3M582.0 1044.3 708.3 1044.3 834.5 685.9 960.8 1044.3M582.0 1044.3 708.3 1044.3 834.5 664.7 960.8 1044.3M582.0 1044.3 708.3 1044.3 834.5 674.3 960.8 1044.3M582.0 1044.3 708.3 1044.3 834.5 690.0 960.8 1044.3M582.0 1044.3 708.3 1044.3 834.5 673.6 960.8 1044.3M582.0 1044.3 708.3 1044.3 834.5 669.5 960.8 1044.3M582.0 1044.3 708.3 1044.3 834.5 671.0 960.8 1044.3M582.0 1044.3 708.3 1044.3 834.5 678.6 960.8 1044.3M582.0 1044.3 708.3 1044.3 834.5 686.5 960.8 1044.3M582.0 1044.3 708.3 1044.3 834.5 674.9 960.8 1044.3M582.0 1044.3 708.3 1044.3 834.5 658.5 960.8 1044.3M582.0 1044.3 708.3 1044.3 834.5 678.1 960.8 1044.3M582.0 1044.3 708.3 1044.3 834.5 688.5 960.8 1044.3M582.0 1044.3 708.3 1044.3 834.5 675.7 960.8 1044.3M582.0 1044.3 708.3 1044.3 834.5 695.6 960.8 1044.3M582.0 1044.3 708.3 1044.3 834.5 677.1 960.8 1044.3M582.0 1044.3 708.3 1044.3 834.5 683.8 960.8 1044.3M582.0 1044.3 708.3 1044.3 834.5 667.9 960.8 1044.3M582.0 1044.3 708.3 1044.3 834.5 678.7 960.8 1044.3M582.0 1044.3 708.3 1044.3 834.5 666.7 960.8 1044.3M582.0 1044.3 708.3 1044.3 834.5 682.8 960.8 1044.3M582.0 1044.3 708.3 1044.3 834.5 690.6 960.8 1044.3M582.0 1044.3 708.3 1044.3 834.5 674.2 960.8 1044.3M582.0 1044.3 708.3 1044.3 834.5 681.1 960.8 1044.3M582.0 1044.3 708.3 1044.3 834.5 678.2 960.8 1044.3M582.0 1044.3 708.3 1044.3 834.5 687.7 960.8 1044.3M582.0 1044.3 708.3 1044.3 834.5 673.0 960.8 1044.3M582.0 1044.3 708.3 1044.3 834.5 679.2 960.8 1044.3M582.0 1044.3 708.3 1044.3 834.5 683.0 960.8 1044.3M582.0 1044.3 708.3 1044.3 834.5 675.8 960.8 1044.3M582.0 1044.3 708.3 1044.3 834.5 665.2 960.8 1044.3M582.0 1044.3 708.3 1044.3 834.5 687.3 960.8 1044.3M582.0 1044.3 708.3 1044.3 834.5 690.2 960.8 1044.3M582.0 1044.3 708.3 1044.3 834.5 665.5 960.8 1044.3M582.0 1044.3 708.3 1044.3 834.5 687.8 960.8 1044.3M582.0 1044.3 708.3 1044.3 834.5 678.7 960.8 1044.3M582.0 1044.3 708.3 1044.3 834.5 674.1 960.8 1044.3M582.0 1044.3 708.3 1044.3 834.5 670.8 960.8 1044.3M582.0 1044.3 708.3 1044.3 834.5 680.0 960.8 1044.3M582.0 1044.3 708.3 1044.3 834.5 694.1 960.8 1044.3M582.0 1044.3 708.3 1044.3 834.5 667.3 960.8 1044.3M582.0 1044.3 708.3 1044.3 834.5 685.5 960.8 1044.3M582.0 1044.3 708.3 1044.3 834.5 686.6 960.8 1044.3M582.0 1044.3 708.3 1044.3 834.5 654.8 960.8 1044.3M582.0 1044.3 708.3 1044.3 834.5 669.0 960.8 1044.3M582.0 1044.3 708.3 1044.3 834.5 693.4 960.8 1044.3M582.0 1044.3 708.3 1044.3 834.5 686.2 960.8 1044.3M582.0 1044.3 708.3 1044.3 834.5 683.2 960.8 1044.3M582.0 1044.3 708.3 1044.3 834.5 689.5 960.8 1044.3M582.0 1044.3 708.3 1044.3 834.5 670.0 960.8 1044.3M582.0 1044.3 708.3 1044.3 834.5 670.3 960.8 1044.3M582.0 1044.3 708.3 1044.3 834.5 677.0 960.8 1044.3M582.0 1044.3 708.3 1044.3 834.5 685.1 960.8 1044.3M582.0 1044.3 708.3 1044.3 834.5 677.4 960.8 1044.3M582.0 1044.3 708.3 1044.3 834.5 672.0 960.8 1044.3M582.0 1044.3 708.3 1044.3 834.5 693.2 960.8 1044.3M582.0 1044.3 708.3 1044.3 834.5 684.3 960.8 1044.3M582.0 1044.3 708.3 1044.3 834.5 687.1 960.8 1044.3M582.0 1044.3 708.3 1044.3 834.5 671.3 960.8 1044.3M582.0 1044.3 708.3 1044.3 834.5 676.8 960.8 1044.3M582.0 1044.3 708.3 1044.3 834.5 696.5 960.8 1044.3M582.0 1044.3 708.3 1044.3 834.5 687.9 960.8 1044.3M582.0 1044.3 708.3 1044.3 834.5 657.9 960.8 1044.3M582.0 1044.3 708.3 1044.3 834.5 692.3 960.8 1044.3M582.0 1044.3 708.3 1044.3 834.5 678.2 960.8 1044.3M582.0 1044.3 708.3 1044.3 834.5 688.0 960.8 1044.3M582.0 1044.3 708.3 1044.3 834.5 664.4 960.8 1044.3M582.0 1044.3 708.3 1044.3 834.5 680.9 960.8 1044.3M582.0 1044.3 708.3 1044.3 834.5 685.6 960.8 1044.3M582.0 1044.3 708.3 1044.3 834.5 694.9 960.8 1044.3M582.0 1044.3 708.3 1044.3 834.5 683.2 960.8 1044.3M582.0 1044.3 708.3 1044.3 834.5 669.7 960.8 1044.3M582.0 1044.3 708.3 1044.3 834.5 671.7 960.8 1044.3M582.0 1044.3 708.3 1044.3 834.5 696.8 960.8 1044.3M582.0 1044.3 708.3 1044.3 834.5 660.5 960.8 1044.3M582.0 1044.3 708.3 1044.3 834.5 683.2 960.8 1044.3M582.0 1044.3 708.3 1044.3 834.5 693.4 960.8 1044.3M582.0 1044.3 708.3 1044.3 834.5 678.5 960.8 1044.3M582.0 1044.3 708.3 1044.3 834.5 688.0 960.8 1044.3M582.0 1044.3 708.3 1044.3 834.5 687.4 960.8 1044.3M582.0 1044.3 708.3 1044.3 834.5 688.1 960.8 1044.3M582.0 1044.3 708.3 1044.3 834.5 681.3 960.8 1044.3M582.0 1044.3 708.3 1044.3 834.5 686.5 960.8 1044.3M582.0 1044.3 708.3 1044.3 834.5 673.6 960.8 1044.3M582.0 1044.3 708.3 1044.3 834.5 686.7 960.8 1044.3M582.0 1044.3 708.3 1044.3 834.5 665.2 960.8 1044.3M582.0 1044.3 708.3 1044.3 834.5 673.5 960.8 1044.3M582.0 1044.3 708.3 1044.3 834.5 672.4 960.8 1044.3M582.0 1044.3 708.3 1044.3 834.5 677.9 960.8 1044.3M582.0 1044.3 708.3 1044.3 834.5 663.9 960.8 1044.3M582.0 1044.3 708.3 1044.3 834.5 684.3 960.8 1044.3M582.0 1044.3 708.3 1044.3 834.5 692.7 960.8 1044.3M582.0 1044.3 708.3 1044.3 834.5 675.9 960.8 1044.3M582.0 1044.3 708.3 1044.3 834.5 684.8 960.8 1044.3M582.0 1044.3 708.3 1044.3 834.5 677.5 960.8 1044.3M582.0 1044.3 708.3 1044.3 834.5 685.4 960.8 1044.3M582.0 1044.3 708.3 1044.3 834.5 664.4 960.8 1044.3M582.0 1044.3 708.3 1044.3 834.5 671.4 960.8 1044.3M582.0 1044.3 708.3 1044.3 834.5 678.8 960.8 1044.3M582.0 1044.3 708.3 1044.3 834.5 685.2 960.8 1044.3M582.0 1044.3 708.3 1044.3 834.5 666.5 960.8 1044.3M582.0 1044.3 708.3 1044.3 834.5 688.7 960.8 1044.3M582.0 1044.3 708.3 1044.3 834.5 685.4 960.8 1044.3M582.0 1044.3 708.3 1044.3 834.5 670.9 960.8 1044.3M582.0 1044.3 708.3 1044.3 834.5 672.8 960.8 1044.3M582.0 1044.3 708.3 1044.3 834.5 654.7 960.8 1044.3M582.0 1044.3 708.3 1044.3 834.5 682.9 960.8 1044.3M582.0 1044.3 708.3 1044.3 834.5 672.0 960.8 1044.3M582.0 1044.3 708.3 1044.3 834.5 664.5 960.8 1044.3M582.0 1044.3 708.3 1044.3 834.5 682.3 960.8 1044.3M582.0 1044.3 708.3 1044.3 834.5 660.7 960.8 1044.3M582.0 1044.3 708.3 1044.3 834.5 657.9 960.8 1044.3M582.0 1044.3 708.3 1044.3 834.5 688.6 960.8 1044.3M582.0 1044.3 708.3 1044.3 834.5 686.3 960.8 1044.3M582.0 1044.3 708.3 1044.3 834.5 695.9 960.8 1044.3M582.0 1044.3 708.3 1044.3 834.5 673.4 960.8 1044.3M582.0 1044.3 708.3 1044.3 834.5 671.2 960.8 1044.3M582.0 1044.3 708.3 1044.3 834.5 672.7 960.8 1044.3M582.0 1044.3 708.3 1044.3 834.5 695.7 960.8 1044.3M582.0 1044.3 708.3 1044.3 834.5 689.8 960.8 1044.3M582.0 1044.3 708.3 1044.3 834.5 698.2 960.8 1044.3M582.0 1044.3 708.3 1044.3 834.5 697.1 960.8 1044.3M582.0 1044.3 708.3 1044.3 834.5 682.6 960.8 1044.3M582.0 1044.3 708.3 1044.3 834.5 675.0 960.8 1044.3M582.0 1044.3 708.3 1044.3 834.5 672.5 960.8 1044.3M582.0 1044.3 708.3 1044.3 834.5 680.5 960.8 1044.3M582.0 1044.3 708.3 1044.3 834.5 688.7 960.8 1044.3M582.0 1044.3 708.3 1044.3 834.5 680.4 960.8 1044.3M582.0 1044.3 708.3 1044.3 834.5 673.2 960.8 1044.3M582.0 1044.3 708.3 1044.3 834.5 684.0 960.8 1044.3M582.0 1044.3 708.3 1044.3 834.5 679.6 960.8 1044.3M582.0 1044.3 708.3 1044.3 834.5 684.1 960.8 1044.3M582.0 1044.3 708.3 1044.3 834.5 686.9 960.8 1044.3M582.0 1044.3 708.3 1044.3 834.5 679.9 960.8 1044.3M582.0 1044.3 708.3 1044.3 834.5 694.3 960.8 1044.3M582.0 1044.3 708.3 1044.3 834.5 667.2 960.8 1044.3M582.0 1044.3 708.3 1044.3 834.5 674.6 960.8 1044.3M582.0 1044.3 708.3 1044.3 834.5 697.4 960.8 1044.3M582.0 1044.3 708.3 1044.3 834.5 661.4 960.8 1044.3M582.0 1044.3 708.3 1044.3 834.5 669.5 960.8 1044.3M582.0 1044.3 708.3 1044.3 834.5 690.5 960.8 1044.3M582.0 1044.3 708.3 1044.3 834.5 685.9 960.8 1044.3M582.0 1044.3 708.3 1044.3 834.5 694.4 960.8 1044.3M582.0 1044.3 708.3 1044.3 834.5 681.1 960.8 1044.3M582.0 1044.3 708.3 1044.3 834.5 675.2 960.8 1044.3M582.0 1044.3 708.3 1044.3 834.5 697.4 960.8 1044.3M582.0 1044.3 708.3 1044.3 834.5 664.8 960.8 1044.3M582.0 1044.3 708.3 1044.3 834.5 687.6 960.8 1044.3M582.0 1044.3 708.3 1044.3 834.5 676.9 960.8 1044.3M582.0 1044.3 708.3 1044.3 834.5 669.4 960.8 1044.3M582.0 1044.3 708.3 1044.3 834.5 673.6 960.8 1044.3M582.0 1044.3 708.3 1044.3 834.5 675.1 960.8 1044.3M582.0 1044.3 708.3 1044.3 834.5 682.8 960.8 1044.3M582.0 1044.3 708.3 1044.3 834.5 680.4 960.8 1044.3M582.0 1044.3 708.3 1044.3 834.5 678.4 960.8 1044.3M582.0 1044.3 708.3 1044.3 834.5 665.4 960.8 1044.3M582.0 1044.3 708.3 1044.3 834.5 686.5 960.8 1044.3M582.0 1044.3 708.3 1044.3 834.5 695.9 960.8 1044.3M582.0 1044.3 708.3 1044.3 834.5 692.4 960.8 1044.3M582.0 1044.3 708.3 1044.3 834.5 690.3 960.8 1044.3M582.0 1044.3 708.3 1044.3 834.5 666.6 960.8 1044.3M582.0 1044.3 708.3 1044.3 834.5 653.6 960.8 1044.3M582.0 1044.3 708.3 1044.3 834.5 663.4 960.8 1044.3M582.0 1044.3 708.3 1044.3 834.5 695.1 960.8 1044.3M582.0 1044.3 708.3 1044.3 834.5 679.4 960.8 1044.3M582.0 1044.3 708.3 1044.3 834.5 694.5 960.8 1044.3M582.0 1044.3 708.3 1044.3 834.5 674.8 960.8 1044.3M582.0 1044.3 708.3 1044.3 834.5 664.5 960.8 1044.3M582.0 1044.3 708.3 1044.3 834.5 673.0 960.8 1044.3M582.0 1044.3 708.3 1044.3 834.5 669.5 960.8 1044.3M582.0 1044.3 708.3 1044.3 834.5 682.2 960.8 1044.3M582.0 1044.3 708.3 1044.3 834.5 681.6 960.8 1044.3M582.0 1044.3 708.3 1044.3 834.5 673.2 960.8 1044.3M582.0 1044.3 708.3 1044.3 834.5 664.5 960.8 1044.3M582.0 1044.3 708.3 1044.3 834.5 684.7 960.8 1044.3M582.0 1044.3 708.3 1044.3 834.5 679.4 960.8 1044.3M582.0 1044.3 708.3 1044.3 834.5 677.2 960.8 1044.3M582.0 1044.3 708.3 1044.3 834.5 667.1 960.8 1044.3M582.0 1044.3 708.3 1044.3 834.5 681.2 960.8 1044.3M582.0 1044.3 708.3 1044.3 834.5 694.0 960.8 1044.3M582.0 1044.3 708.3 1044.3 834.5 666.8 960.8 1044.3M582.0 1044.3 708.3 1044.3 834.5 675.2 960.8 1044.3M582.0 1044.3 708.3 1044.3 834.5 675.6 960.8 1044.3M582.0 1044.3 708.3 1044.3 834.5 696.2 960.8 1044.3M582.0 1044.3 708.3 1044.3 834.5 680.4 960.8 1044.3M582.0 1044.3 708.3 1044.3 834.5 683.3 960.8 1044.3M582.0 1044.3 708.3 1044.3 834.5 685.8 960.8 1044.3M582.0 1044.3 708.3 1044.3 834.5 673.3 960.8 1044.3M582.0 1044.3 708.3 1044.3 834.5 662.4 960.8 1044.3M582.0 1044.3 708.3 1044.3 834.5 680.8 960.8 1044.3M582.0 1044.3 708.3 1044.3 834.5 658.1 960.8 1044.3M582.0 1044.3 708.3 1044.3 834.5 687.7 960.8 1044.3M582.0 1044.3 708.3 1044.3 834.5 670.8 960.8 1044.3M582.0 1044.3 708.3 1044.3 834.5 696.1 960.8 1044.3M582.0 1044.3 708.3 1044.3 834.5 678.8 960.8 1044.3M582.0 1044.3 708.3 1044.3 834.5 684.3 960.8 1044.3M582.0 1044.3 708.3 1044.3 834.5 682.9 960.8 1044.3M582.0 1044.3 708.3 1044.3 834.5 673.0 960.8 1044.3M582.0 1044.3 708.3 1044.3 834.5 678.9 960.8 1044.3M582.0 1044.3 708.3 1044.3 834.5 690.5 960.8 1044.3M582.0 1044.3 708.3 1044.3 834.5 678.9 960.8 1044.3M582.0 1044.3 708.3 1044.3 834.5 675.4 960.8 1044.3M582.0 1044.3 708.3 1044.3 834.5 685.0 960.8 1044.3M582.0 1044.3 708.3 1044.3 834.5 685.0 960.8 1044.3M582.0 1044.3 708.3 1044.3 834.5 694.7 960.8 1044.3M582.0 1044.3 708.3 1044.3 834.5 673.5 960.8 1044.3M582.0 1044.3 708.3 1044.3 834.5 688.7 960.8 1044.3M582.0 1044.3 708.3 1044.3 834.5 674.8 960.8 1044.3M582.0 1044.3 708.3 1044.3 834.5 698.1 960.8 1044.3M582.0 1044.3 708.3 1044.3 834.5 663.3 960.8 1044.3M582.0 1044.3 708.3 1044.3 834.5 693.1 960.8 1044.3M582.0 1044.3 708.3 1044.3 834.5 665.9 960.8 1044.3M582.0 1044.3 708.3 1044.3 834.5 685.9 960.8 1044.3M582.0 1044.3 708.3 1044.3 834.5 673.6 960.8 1044.3M582.0 1044.3 708.3 1044.3 834.5 682.1 960.8 1044.3M582.0 1044.3 708.3 1044.3 834.5 671.9 960.8 1044.3M582.0 1044.3 708.3 1044.3 834.5 680.3 960.8 1044.3M582.0 1044.3 708.3 1044.3 834.5 664.5 960.8 1044.3M582.0 1044.3 708.3 1044.3 834.5 672.0 960.8 1044.3M582.0 1044.3 708.3 1044.3 834.5 671.9 960.8 1044.3M582.0 1044.3 708.3 1044.3 834.5 659.6 960.8 1044.3M582.0 1044.3 708.3 1044.3 834.5 689.0 960.8 1044.3M582.0 1044.3 708.3 1044.3 834.5 664.1 960.8 1044.3M582.0 1044.3 708.3 1044.3 834.5 679.5 960.8 1044.3M582.0 1044.3 708.3 1044.3 834.5 674.4 960.8 1044.3M582.0 1044.3 708.3 1044.3 834.5 682.9 960.8 1044.3M582.0 1044.3 708.3 1044.3 834.5 659.3 960.8 1044.3M582.0 1044.3 708.3 1044.3 834.5 686.5 960.8 1044.3M582.0 1044.3 708.3 1044.3 834.5 679.7 960.8 1044.3M582.0 1044.3 708.3 1044.3 834.5 677.4 960.8 1044.3M582.0 1044.3 708.3 1044.3 834.5 674.0 960.8 1044.3M582.0 1044.3 708.3 1044.3 834.5 692.7 960.8 1044.3M582.0 1044.3 708.3 1044.3 834.5 662.8 960.8 1044.3M582.0 1044.3 708.3 1044.3 834.5 659.6 960.8 1044.3M582.0 1044.3 708.3 1044.3 834.5 680.4 960.8 1044.3M582.0 1044.3 708.3 1044.3 834.5 678.1 960.8 1044.3M582.0 1044.3 708.3 1044.3 834.5 678.1 960.8 1044.3M582.0 1044.3 708.3 1044.3 834.5 671.4 960.8 1044.3M582.0 1044.3 708.3 1044.3 834.5 684.0 960.8 1044.3M582.0 1044.3 708.3 1044.3 834.5 695.2 960.8 1044.3M582.0 1044.3 708.3 1044.3 834.5 682.1 960.8 1044.3M582.0 1044.3 708.3 1044.3 834.5 691.9 960.8 1044.3M582.0 1044.3 708.3 1044.3 834.5 658.3 960.8 1044.3M582.0 1044.3 708.3 1044.3 834.5 689.1 960.8 1044.3M582.0 1044.3 708.3 1044.3 834.5 688.5 960.8 1044.3M582.0 1044.3 708.3 1044.3 834.5 680.9 960.8 1044.3M582.0 1044.3 708.3 1044.3 834.5 695.8 960.8 1044.3M582.0 1044.3 708.3 1044.3 834.5 685.9 960.8 1044.3M582.0 1044.3 708.3 1044.3 834.5 682.0 960.8 1044.3M582.0 1044.3 708.3 1044.3 834.5 686.4 960.8 1044.3M582.0 1044.3 708.3 1044.3 834.5 644.6 960.8 1044.3M582.0 1044.3 708.3 1044.3 834.5 621.9 960.8 1044.3" fill="none" stroke="#d3d3d3" stroke-width="1.15" stroke-linejoin="miter" stroke-miterlimit="20"/>
<polyline points="582.0,1044.3 708.3,1044.3 834.5,686.0 960.8,1044.3" fill="none" stroke="#1414e6" stroke-width="1.8"/>
<circle cx="580.6" cy="1044.3" r="1.8" fill="#1414e6"/>
<circle cx="706.9" cy="1044.3" r="1.8" fill="#1414e6"/>
<circle cx="833.1" cy="686.0" r="1.8" fill="#1414e6"/>
<circle cx="959.4" cy="1044.3" r="1.8" fill="#1414e6"/>
<line x1="582.0" y1="1044.3" x2="960.8" y2="1044.3" stroke="#e63232" stroke-width="1.9"/>
</g>
<rect x="566.8" y="605.8" width="409.2" height="455.6" fill="none" stroke="#262626" stroke-width="1.6"/>
<line x1="582.0" y1="1061.4" x2="582.0" y2="1069.7" stroke="#262626" stroke-width="1.6"/>
<text transform="translate(583.9 1089.2) scale(1 1.04)" text-anchor="middle" class="xl">YG2C</text>
<line x1="708.3" y1="1061.4" x2="708.3" y2="1069.7" stroke="#262626" stroke-width="1.6"/>
<text transform="translate(707.8 1089.2) scale(1 1.04)" text-anchor="middle" class="xl">YG2T</text>
<line x1="834.5" y1="1061.4" x2="834.5" y2="1069.7" stroke="#262626" stroke-width="1.6"/>
<text transform="translate(834.5 1089.2) scale(1 1.04)" text-anchor="middle" class="xl">An04C</text>
<line x1="960.8" y1="1061.4" x2="960.8" y2="1069.7" stroke="#262626" stroke-width="1.6"/>
<text transform="translate(959.7 1089.2) scale(1 1.04)" text-anchor="middle" class="xl">An04T</text>
<line x1="559.3" y1="1044.3" x2="566.8" y2="1044.3" stroke="#262626" stroke-width="1.6"/>
<text transform="translate(552.6 1053.1) scale(0.875 1.0)" text-anchor="end" class="yt">0</text>
<line x1="559.3" y1="943.2" x2="566.8" y2="943.2" stroke="#262626" stroke-width="1.6"/>
<text transform="translate(552.6 952.0) scale(0.875 1.0)" text-anchor="end" class="yt">5</text>
<line x1="559.3" y1="842.1" x2="566.8" y2="842.1" stroke="#262626" stroke-width="1.6"/>
<text transform="translate(552.6 850.9) scale(0.875 1.0)" text-anchor="end" class="yt">10</text>
<line x1="559.3" y1="741.0" x2="566.8" y2="741.0" stroke="#262626" stroke-width="1.6"/>
<text transform="translate(552.6 749.8) scale(0.875 1.0)" text-anchor="end" class="yt">15</text>
<line x1="559.3" y1="639.9" x2="566.8" y2="639.9" stroke="#262626" stroke-width="1.6"/>
<text transform="translate(552.6 648.7) scale(0.875 1.0)" text-anchor="end" class="yt">20</text>
<text transform="translate(520.6 833.6) rotate(-90)" text-anchor="middle" class="yl" textLength="120.9" lengthAdjust="spacingAndGlyphs">log2(ratio)</text>
<text transform="translate(619.0 586.1) scale(1 1)" class="tt" textLength="333.9" lengthAdjust="spacingAndGlyphs">Subcluster_6, 485 genes</text>
<clipPath id="c6"><rect x="1072.7" y="607.6" width="409.5" height="456.0"/></clipPath>
<g clip-path="url(#c6)">
<path d="M1087.9 670.7 1214.3 660.2 1340.6 678.5 1467.0 970.0M1087.9 670.7 1214.3 671.6 1340.6 688.8 1467.0 984.1M1087.9 670.7 1214.3 693.2 1340.6 673.8 1467.0 970.5M1087.9 670.7 1214.3 674.7 1340.6 687.7 1467.0 975.8M1087.9 670.7 1214.3 699.7 1340.6 678.4 1467.0 965.7M1087.9 670.7 1214.3 669.9 1340.6 696.8 1467.0 972.2M1087.9 670.7 1214.3 686.4 1340.6 668.9 1467.0 944.8M1087.9 670.7 1214.3 678.8 1340.6 692.5 1467.0 967.5M1087.9 670.7 1214.3 691.6 1340.6 701.1 1467.0 960.4M1087.9 670.7 1214.3 728.1 1340.6 672.4 1467.0 977.0M1087.9 670.7 1214.3 671.3 1340.6 652.0 1467.0 938.4M1087.9 670.7 1214.3 702.3 1340.6 680.8 1467.0 945.8M1087.9 670.7 1214.3 676.3 1340.6 672.6 1467.0 986.7M1087.9 670.7 1214.3 728.0 1340.6 721.9 1467.0 1018.5M1087.9 670.7 1214.3 664.3 1340.6 687.0 1467.0 970.8M1087.9 670.7 1214.3 694.6 1340.6 672.0 1467.0 944.9M1087.9 670.7 1214.3 640.4 1340.6 660.6 1467.0 963.2M1087.9 670.7 1214.3 718.9 1340.6 673.3 1467.0 947.3M1087.9 670.7 1214.3 678.9 1340.6 668.5 1467.0 1006.5M1087.9 670.7 1214.3 695.7 1340.6 686.5 1467.0 985.6M1087.9 670.7 1214.3 726.4 1340.6 691.3 1467.0 952.7M1087.9 670.7 1214.3 690.3 1340.6 718.3 1467.0 979.9M1087.9 670.7 1214.3 695.2 1340.6 674.9 1467.0 981.2M1087.9 670.7 1214.3 711.5 1340.6 649.6 1467.0 958.2M1087.9 670.7 1214.3 688.4 1340.6 715.1 1467.0 958.9M1087.9 670.7 1214.3 679.7 1340.6 715.9 1467.0 974.8M1087.9 670.7 1214.3 678.0 1340.6 670.7 1467.0 956.0M1087.9 670.7 1214.3 684.6 1340.6 668.4 1467.0 965.7M1087.9 670.7 1214.3 667.2 1340.6 694.7 1467.0 948.2M1087.9 670.7 1214.3 680.8 1340.6 692.4 1467.0 950.6M1087.9 670.7 1214.3 697.6 1340.6 672.4 1467.0 948.5M1087.9 670.7 1214.3 666.9 1340.6 646.9 1467.0 1023.3M1087.9 670.7 1214.3 697.4 1340.6 659.0 1467.0 953.7M1087.9 670.7 1214.3 684.6 1340.6 663.2 1467.0 946.3M1087.9 670.7 1214.3 699.2 1340.6 660.1 1467.0 972.9M1087.9 670.7 1214.3 709.0 1340.6 661.0 1467.0 973.3M1087.9 670.7 1214.3 686.3 1340.6 694.6 1467.0 971.3M1087.9 670.7 1214.3 689.6 1340.6 678.2 1467.0 959.5M1087.9 670.7 1214.3 661.6 1340.6 671.0 1467.0 988.9M1087.9 670.7 1214.3 674.5 1340.6 677.1 1467.0 956.9M1087.9 670.7 1214.3 711.8 1340.6 725.1 1467.0 954.6M1087.9 670.7 1214.3 704.4 1340.6 654.2 1467.0 973.9M1087.9 670.7 1214.3 720.7 1340.6 683.6 1467.0 978.7M1087.9 670.7 1214.3 662.5 1340.6 646.4 1467.0 948.8M1087.9 670.7 1214.3 684.2 1340.6 680.6 1467.0 982.8M1087.9 670.7 1214.3 713.3 1340.6 679.3 1467.0 971.2M1087.9 670.7 1214.3 687.5 1340.6 693.9 1467.0 960.2M1087.9 670.7 1214.3 719.2 1340.6 701.8 1467.0 967.4M1087.9 670.7 1214.3 703.1 1340.6 678.5 1467.0 957.5M1087.9 670.7 1214.3 684.6 1340.6 668.4 1467.0 969.0M1087.9 670.7 1214.3 659.4 1340.6 688.9 1467.0 972.9M1087.9 670.7 1214.3 674.3 1340.6 678.9 1467.0 999.3M1087.9 670.7 1214.3 691.8 1340.6 662.0 1467.0 981.4M1087.9 670.7 1214.3 689.0 1340.6 669.8 1467.0 960.0M1087.9 670.7 1214.3 696.4 1340.6 666.7 1467.0 948.7M1087.9 670.7 1214.3 664.6 1340.6 643.6 1467.0 964.5M1087.9 670.7 1214.3 674.3 1340.6 681.5 1467.0 966.5M1087.9 670.7 1214.3 698.8 1340.6 715.3 1467.0 969.5M1087.9 670.7 1214.3 721.0 1340.6 683.2 1467.0 962.8M1087.9 670.7 1214.3 679.9 1340.6 672.1 1467.0 978.1M1087.9 670.7 1214.3 665.4 1340.6 695.5 1467.0 981.0M1087.9 670.7 1214.3 709.0 1340.6 678.9 1467.0 944.9M1087.9 670.7 1214.3 714.6 1340.6 682.7 1467.0 962.9M1087.9 670.7 1214.3 695.7 1340.6 681.9 1467.0 976.6M1087.9 670.7 1214.3 710.4 1340.6 678.0 1467.0 970.0M1087.9 670.7 1214.3 699.5 1340.6 683.3 1467.0 980.1M1087.9 670.7 1214.3 689.1 1340.6 722.6 1467.0 948.8M1087.9 670.7 1214.3 685.2 1340.6 703.9 1467.0 953.4M1087.9 670.7 1214.3 704.3 1340.6 686.2 1467.0 964.8M1087.9 670.7 1214.3 703.6 1340.6 669.0 1467.0 960.6M1087.9 670.7 1214.3 696.1 1340.6 680.4 1467.0 972.7M1087.9 670.7 1214.3 731.8 1340.6 676.2 1467.0 942.5M1087.9 670.7 1214.3 685.0 1340.6 688.1 1467.0 966.1M1087.9 670.7 1214.3 665.9 1340.6 663.6 1467.0 967.7M1087.9 670.7 1214.3 654.8 1340.6 673.5 1467.0 976.7M1087.9 670.7 1214.3 671.1 1340.6 688.3 1467.0 980.9M1087.9 670.7 1214.3 654.1 1340.6 665.7 1467.0 943.9M1087.9 670.7 1214.3 652.8 1340.6 683.4 1467.0 967.9M1087.9 670.7 1214.3 682.3 1340.6 666.0 1467.0 969.9M1087.9 670.7 1214.3 693.3 1340.6 682.6 1467.0 950.4M1087.9 670.7 1214.3 734.3 1340.6 682.9 1467.0 963.2M1087.9 670.7 1214.3 698.8 1340.6 677.2 1467.0 968.1M1087.9 670.7 1214.3 687.3 1340.6 672.5 1467.0 948.2M1087.9 670.7 1214.3 693.8 1340.6 686.9 1467.0 964.6M1087.9 670.7 1214.3 671.3 1340.6 662.5 1467.0 980.2M1087.9 670.7 1214.3 731.6 1340.6 678.7 1467.0 947.4M1087.9 670.7 1214.3 706.1 1340.6 722.1 1467.0 936.0M1087.9 670.7 1214.3 661.3 1340.6 672.7 1467.0 980.8M1087.9 670.7 1214.3 686.5 1340.6 693.3 1467.0 983.3M1087.9 670.7 1214.3 676.0 1340.6 676.0 1467.0 967.8M1087.9 670.7 1214.3 649.0 1340.6 694.6 1467.0 965.3M1087.9 670.7 1214.3 683.1 1340.6 649.9 1467.0 948.4M1087.9 670.7 1214.3 684.2 1340.6 660.5 1467.0 947.0M1087.9 670.7 1214.3 670.3 1340.6 667.5 1467.0 934.7M1087.9 670.7 1214.3 719.3 1340.6 691.6 1467.0 986.0M1087.9 670.7 1214.3 671.0 1340.6 663.8 1467.0 974.3M1087.9 670.7 1214.3 701.7 1340.6 672.2 1467.0 951.1M1087.9 670.7 1214.3 711.2 1340.6 657.3 1467.0 955.8M1087.9 670.7 1214.3 715.8 1340.6 652.9 1467.0 1006.7M1087.9 670.7 1214.3 676.6 1340.6 692.4 1467.0 961.9M1087.9 670.7 1214.3 670.0 1340.6 721.9 1467.0 968.9M1087.9 670.7 1214.3 688.6 1340.6 660.6 1467.0 956.8M1087.9 670.7 1214.3 723.7 1340.6 666.5 1467.0 990.0M1087.9 670.7 1214.3 667.8 1340.6 677.6 1467.0 955.1M1087.9 670.7 1214.3 695.5 1340.6 647.6 1467.0 966.4M1087.9 670.7 1214.3 694.6 1340.6 710.6 1467.0 937.2M1087.9 670.7 1214.3 695.8 1340.6 684.9 1467.0 960.6M1087.9 670.7 1214.3 648.6 1340.6 660.1 1467.0 985.6M1087.9 670.7 1214.3 707.7 1340.6 695.2 1467.0 976.5M1087.9 670.7 1214.3 661.7 1340.6 666.5 1467.0 971.5M1087.9 670.7 1214.3 721.4 1340.6 676.6 1467.0 961.0M1087.9 670.7 1214.3 696.5 1340.6 673.6 1467.0 964.5M1087.9 670.7 1214.3 703.3 1340.6 695.1 1467.0 969.9M1087.9 670.7 1214.3 694.1 1340.6 671.2 1467.0 971.8M1087.9 670.7 1214.3 705.0 1340.6 681.8 1467.0 957.5M1087.9 670.7 1214.3 654.9 1340.6 670.4 1467.0 967.9M1087.9 670.7 1214.3 680.3 1340.6 667.7 1467.0 959.4M1087.9 670.7 1214.3 722.5 1340.6 697.2 1467.0 952.3M1087.9 670.7 1214.3 695.3 1340.6 710.1 1467.0 941.0M1087.9 670.7 1214.3 696.1 1340.6 703.1 1467.0 957.4M1087.9 670.7 1214.3 702.3 1340.6 653.2 1467.0 982.5M1087.9 670.7 1214.3 719.4 1340.6 725.8 1467.0 974.5M1087.9 670.7 1214.3 704.6 1340.6 657.9 1467.0 983.7M1087.9 670.7 1214.3 676.8 1340.6 674.8 1467.0 975.6M1087.9 670.7 1214.3 699.6 1340.6 678.0 1467.0 978.4M1087.9 670.7 1214.3 688.1 1340.6 670.7 1467.0 946.9M1087.9 670.7 1214.3 677.0 1340.6 672.3 1467.0 974.7M1087.9 670.7 1214.3 717.5 1340.6 676.8 1467.0 966.7M1087.9 670.7 1214.3 680.5 1340.6 655.5 1467.0 947.4M1087.9 670.7 1214.3 680.3 1340.6 694.0 1467.0 956.7M1087.9 670.7 1214.3 701.1 1340.6 674.9 1467.0 988.0M1087.9 670.7 1214.3 667.8 1340.6 679.8 1467.0 968.4M1087.9 670.7 1214.3 688.8 1340.6 679.2 1467.0 985.0M1087.9 670.7 1214.3 668.2 1340.6 678.9 1467.0 963.5M1087.9 670.7 1214.3 659.0 1340.6 687.8 1467.0 959.7M1087.9 670.7 1214.3 696.7 1340.6 662.4 1467.0 1022.7M1087.9 670.7 1214.3 682.0 1340.6 702.7 1467.0 967.0M1087.9 670.7 1214.3 666.8 1340.6 669.3 1467.0 972.7M1087.9 670.7 1214.3 659.3 1340.6 674.0 1467.0 961.7M1087.9 670.7 1214.3 708.1 1340.6 696.4 1467.0 953.3M1087.9 670.7 1214.3 705.1 1340.6 666.0 1467.0 960.1M1087.9 670.7 1214.3 686.2 1340.6 684.9 1467.0 968.3M1087.9 670.7 1214.3 701.1 1340.6 721.1 1467.0 957.1M1087.9 670.7 1214.3 710.2 1340.6 679.9 1467.0 949.9M1087.9 670.7 1214.3 719.5 1340.6 674.8 1467.0 1008.9M1087.9 670.7 1214.3 676.6 1340.6 668.5 1467.0 944.9M1087.9 670.7 1214.3 671.6 1340.6 676.4 1467.0 987.4M1087.9 670.7 1214.3 697.9 1340.6 683.0 1467.0 974.1M1087.9 670.7 1214.3 733.8 1340.6 678.7 1467.0 966.6M1087.9 670.7 1214.3 687.9 1340.6 670.9 1467.0 977.2M1087.9 670.7 1214.3 692.4 1340.6 666.0 1467.0 964.2M1087.9 670.7 1214.3 701.0 1340.6 688.2 1467.0 949.6M1087.9 670.7 1214.3 720.6 1340.6 710.3 1467.0 962.0M1087.9 670.7 1214.3 681.0 1340.6 672.6 1467.0 970.9M1087.9 670.7 1214.3 682.2 1340.6 653.0 1467.0 959.5M1087.9 670.7 1214.3 668.4 1340.6 654.7 1467.0 963.9M1087.9 670.7 1214.3 683.6 1340.6 646.4 1467.0 965.9M1087.9 670.7 1214.3 709.1 1340.6 660.4 1467.0 953.0M1087.9 670.7 1214.3 689.6 1340.6 681.3 1467.0 944.5M1087.9 670.7 1214.3 690.8 1340.6 656.3 1467.0 967.1M1087.9 670.7 1214.3 689.9 1340.6 692.8 1467.0 958.8M1087.9 670.7 1214.3 690.4 1340.6 678.7 1467.0 981.4M1087.9 670.7 1214.3 678.6 1340.6 711.7 1467.0 971.4M1087.9 670.7 1214.3 696.2 1340.6 715.4 1467.0 973.2M1087.9 670.7 1214.3 664.9 1340.6 689.4 1467.0 960.4M1087.9 670.7 1214.3 708.7 1340.6 667.2 1467.0 956.4M1087.9 670.7 1214.3 722.5 1340.6 675.7 1467.0 965.4M1087.9 670.7 1214.3 733.6 1340.6 703.1 1467.0 950.8M1087.9 670.7 1214.3 678.4 1340.6 673.9 1467.0 979.7M1087.9 670.7 1214.3 656.1 1340.6 683.5 1467.0 974.4M1087.9 670.7 1214.3 676.8 1340.6 689.4 1467.0 970.3M1087.9 670.7 1214.3 666.6 1340.6 662.9 1467.0 983.9M1087.9 670.7 1214.3 732.7 1340.6 670.1 1467.0 967.5M1087.9 670.7 1214.3 708.2 1340.6 699.0 1467.0 959.9M1087.9 670.7 1214.3 707.8 1340.6 680.8 1467.0 950.7M1087.9 670.7 1214.3 697.9 1340.6 650.2 1467.0 935.7M1087.9 670.7 1214.3 693.3 1340.6 673.0 1467.0 952.0M1087.9 670.7 1214.3 688.6 1340.6 668.6 1467.0 941.6M1087.9 670.7 1214.3 710.3 1340.6 651.3 1467.0 981.6M1087.9 670.7 1214.3 675.2 1340.6 717.3 1467.0 963.1M1087.9 670.7 1214.3 711.3 1340.6 693.3 1467.0 952.3M1087.9 670.7 1214.3 674.0 1340.6 657.3 1467.0 946.3M1087.9 670.7 1214.3 668.4 1340.6 722.3 1467.0 957.9M1087.9 670.7 1214.3 713.9 1340.6 667.8 1467.0 981.1M1087.9 670.7 1214.3 695.2 1340.6 679.5 1467.0 956.2M1087.9 670.7 1214.3 678.5 1340.6 645.1 1467.0 946.2M1087.9 670.7 1214.3 723.0 1340.6 684.5 1467.0 982.8M1087.9 670.7 1214.3 694.3 1340.6 648.8 1467.0 959.8M1087.9 670.7 1214.3 693.2 1340.6 672.5 1467.0 989.6M1087.9 670.7 1214.3 680.5 1340.6 679.9 1467.0 968.2M1087.9 670.7 1214.3 691.3 1340.6 681.8 1467.0 990.1M1087.9 670.7 1214.3 672.9 1340.6 680.0 1467.0 954.7M1087.9 670.7 1214.3 666.2 1340.6 699.9 1467.0 978.8M1087.9 670.7 1214.3 696.1 1340.6 677.4 1467.0 970.0M1087.9 670.7 1214.3 675.1 1340.6 674.4 1467.0 988.5M1087.9 670.7 1214.3 695.2 1340.6 673.0 1467.0 981.9M1087.9 670.7 1214.3 692.6 1340.6 659.7 1467.0 955.0M1087.9 670.7 1214.3 707.7 1340.6 653.3 1467.0 947.1M1087.9 670.7 1214.3 674.1 1340.6 684.0 1467.0 965.4M1087.9 670.7 1214.3 736.0 1340.6 684.2 1467.0 969.7M1087.9 670.7 1214.3 684.8 1340.6 668.2 1467.0 966.3M1087.9 670.7 1214.3 685.1 1340.6 673.3 1467.0 958.7M1087.9 670.7 1214.3 693.5 1340.6 669.8 1467.0 970.9M1087.9 670.7 1214.3 692.2 1340.6 669.0 1467.0 955.9M1087.9 670.7 1214.3 648.5 1340.6 644.0 1467.0 953.1M1087.9 670.7 1214.3 691.3 1340.6 680.9 1467.0 941.1M1087.9 670.7 1214.3 693.4 1340.6 659.8 1467.0 963.3M1087.9 670.7 1214.3 672.2 1340.6 692.3 1467.0 957.4M1087.9 670.7 1214.3 665.0 1340.6 674.3 1467.0 945.4M1087.9 670.7 1214.3 701.9 1340.6 687.0 1467.0 985.2M1087.9 670.7 1214.3 664.0 1340.6 686.0 1467.0 969.8M1087.9 670.7 1214.3 693.2 1340.6 696.8 1467.0 961.0M1087.9 670.7 1214.3 702.2 1340.6 682.5 1467.0 957.7M1087.9 670.7 1214.3 699.3 1340.6 668.7 1467.0 951.6M1087.9 670.7 1214.3 647.1 1340.6 651.2 1467.0 950.0M1087.9 670.7 1214.3 691.1 1340.6 667.9 1467.0 961.0M1087.9 670.7 1214.3 665.3 1340.6 722.8 1467.0 968.1M1087.9 670.7 1214.3 718.3 1340.6 678.4 1467.0 960.0M1087.9 670.7 1214.3 735.9 1340.6 686.6 1467.0 971.5M1087.9 670.7 1214.3 715.8 1340.6 655.8 1467.0 969.5M1087.9 670.7 1214.3 679.9 1340.6 680.6 1467.0 960.5M1087.9 670.7 1214.3 682.2 1340.6 712.0 1467.0 961.2M1087.9 670.7 1214.3 732.8 1340.6 675.8 1467.0 975.1M1087.9 670.7 1214.3 683.5 1340.6 667.0 1467.0 956.0M1087.9 670.7 1214.3 699.4 1340.6 659.9 1467.0 967.1M1087.9 670.7 1214.3 677.8 1340.6 671.3 1467.0 976.2M1087.9 670.7 1214.3 664.5 1340.6 656.9 1467.0 962.2M1087.9 670.7 1214.3 703.6 1340.6 651.6 1467.0 951.9M1087.9 670.7 1214.3 714.6 1340.6 662.7 1467.0 965.5M1087.9 670.7 1214.3 689.5 1340.6 689.2 1467.0 961.8M1087.9 670.7 1214.3 717.6 1340.6 666.4 1467.0 992.4M1087.9 670.7 1214.3 717.2 1340.6 672.0 1467.0 992.4M1087.9 670.7 1214.3 726.2 1340.6 670.6 1467.0 942.0M1087.9 670.7 1214.3 670.2 1340.6 659.1 1467.0 955.2M1087.9 670.7 1214.3 654.8 1340.6 654.8 1467.0 946.1M1087.9 670.7 1214.3 688.9 1340.6 659.3 1467.0 1006.7M1087.9 670.7 1214.3 723.0 1340.6 708.4 1467.0 969.9M1087.9 670.7 1214.3 691.5 1340.6 699.6 1467.0 937.1M1087.9 670.7 1214.3 691.5 1340.6 726.1 1467.0 950.4M1087.9 670.7 1214.3 727.6 1340.6 687.5 1467.0 972.0M1087.9 670.7 1214.3 704.8 1340.6 681.8 1467.0 944.9M1087.9 670.7 1214.3 716.2 1340.6 704.4 1467.0 959.0M1087.9 670.7 1214.3 699.4 1340.6 676.3 1467.0 972.8M1087.9 670.7 1214.3 704.2 1340.6 668.0 1467.0 974.9M1087.9 670.7 1214.3 710.7 1340.6 705.0 1467.0 956.5M1087.9 670.7 1214.3 676.8 1340.6 676.7 1467.0 952.4M1087.9 670.7 1214.3 655.2 1340.6 675.1 1467.0 966.2M1087.9 670.7 1214.3 678.5 1340.6 671.6 1467.0 964.7M1087.9 670.7 1214.3 694.3 1340.6 670.5 1467.0 970.1M1087.9 670.7 1214.3 693.5 1340.6 689.1 1467.0 973.2M1087.9 670.7 1214.3 705.3 1340.6 657.6 1467.0 1015.4M1087.9 670.7 1214.3 703.7 1340.6 703.4 1467.0 981.9M1087.9 670.7 1214.3 656.5 1340.6 650.0 1467.0 942.2M1087.9 670.7 1214.3 684.5 1340.6 657.6 1467.0 943.4M1087.9 670.7 1214.3 700.2 1340.6 683.1 1467.0 971.4M1087.9 670.7 1214.3 639.9 1340.6 663.0 1467.0 948.3M1087.9 670.7 1214.3 767.8 1340.6 707.7 1467.0 979.1M1087.9 670.7 1214.3 663.0 1340.6 624.4 1467.0 971.4M1087.9 670.7 1214.3 686.1 1340.6 686.1 1467.0 1046.9M1087.9 670.7 1214.3 701.5 1340.6 701.5 1467.0 1025.4M1087.9 670.7 1214.3 717.0 1340.6 732.4 1467.0 994.5" fill="none" stroke="#d3d3d3" stroke-width="1.15" stroke-linejoin="miter" stroke-miterlimit="20"/>
<polyline points="1087.9,670.7 1214.3,685.5 1340.6,672.2 1467.0,962.0" fill="none" stroke="#1414e6" stroke-width="1.8"/>
<circle cx="1086.5" cy="670.7" r="1.8" fill="#1414e6"/>
<circle cx="1212.9" cy="685.5" r="1.8" fill="#1414e6"/>
<circle cx="1339.2" cy="672.2" r="1.8" fill="#1414e6"/>
<circle cx="1465.6" cy="962.0" r="1.8" fill="#1414e6"/>
<line x1="1087.9" y1="670.7" x2="1467.0" y2="670.7" stroke="#e63232" stroke-width="1.9"/>
</g>
<rect x="1072.7" y="607.6" width="409.5" height="456.0" fill="none" stroke="#262626" stroke-width="1.6"/>
<line x1="1087.9" y1="1063.6" x2="1087.9" y2="1071.9" stroke="#262626" stroke-width="1.6"/>
<text transform="translate(1092.2 1091.5) scale(1 1.04)" text-anchor="middle" class="xl">YG2C</text>
<line x1="1214.3" y1="1063.6" x2="1214.3" y2="1071.9" stroke="#262626" stroke-width="1.6"/>
<text transform="translate(1216.4 1091.5) scale(1 1.04)" text-anchor="middle" class="xl">YG2T</text>
<line x1="1340.6" y1="1063.6" x2="1340.6" y2="1071.9" stroke="#262626" stroke-width="1.6"/>
<text transform="translate(1342.7 1091.5) scale(1 1.04)" text-anchor="middle" class="xl">An04C</text>
<line x1="1467.0" y1="1063.6" x2="1467.0" y2="1071.9" stroke="#262626" stroke-width="1.6"/>
<text transform="translate(1468.8 1091.5) scale(1 1.04)" text-anchor="middle" class="xl">An04T</text>
<line x1="1065.2" y1="1056.2" x2="1072.7" y2="1056.2" stroke="#262626" stroke-width="1.6"/>
<text transform="translate(1058.5 1065.0) scale(0.875 1.0)" text-anchor="end" class="yt">−25</text>
<line x1="1065.2" y1="979.1" x2="1072.7" y2="979.1" stroke="#262626" stroke-width="1.6"/>
<text transform="translate(1058.5 987.9) scale(0.875 1.0)" text-anchor="end" class="yt">−20</text>
<line x1="1065.2" y1="902.0" x2="1072.7" y2="902.0" stroke="#262626" stroke-width="1.6"/>
<text transform="translate(1058.5 910.8) scale(0.875 1.0)" text-anchor="end" class="yt">−15</text>
<line x1="1065.2" y1="824.9" x2="1072.7" y2="824.9" stroke="#262626" stroke-width="1.6"/>
<text transform="translate(1058.5 833.7) scale(0.875 1.0)" text-anchor="end" class="yt">−10</text>
<line x1="1065.2" y1="747.8" x2="1072.7" y2="747.8" stroke="#262626" stroke-width="1.6"/>
<text transform="translate(1058.5 756.6) scale(0.875 1.0)" text-anchor="end" class="yt">−5</text>
<line x1="1065.2" y1="670.7" x2="1072.7" y2="670.7" stroke="#262626" stroke-width="1.6"/>
<text transform="translate(1058.5 679.5) scale(0.875 1.0)" text-anchor="end" class="yt">0</text>
<text transform="translate(1026.5 835.6) rotate(-90)" text-anchor="middle" class="yl" textLength="120.9" lengthAdjust="spacingAndGlyphs">log2(ratio)</text>
<text transform="translate(1112.1 586.5) scale(1 1)" class="tt" textLength="334.4" lengthAdjust="spacingAndGlyphs">Subcluster_7, 260 genes</text>
<clipPath id="c7"><rect x="1576.8" y="605.7" width="409.3" height="455.8"/></clipPath>
<g clip-path="url(#c7)">
<path d="M1592.0 696.8 1718.3 659.6 1844.6 962.1 1970.9 672.9M1592.0 696.8 1718.3 692.9 1844.6 961.6 1970.9 960.8M1592.0 696.8 1718.3 677.3 1844.6 970.8 1970.9 644.7M1592.0 696.8 1718.3 680.7 1844.6 970.8 1970.9 675.2M1592.0 696.8 1718.3 694.6 1844.6 971.4 1970.9 654.6M1592.0 696.8 1718.3 700.1 1844.6 951.5 1970.9 951.9M1592.0 696.8 1718.3 716.5 1844.6 986.5 1970.9 734.4M1592.0 696.8 1718.3 698.8 1844.6 964.1 1970.9 698.7M1592.0 696.8 1718.3 662.0 1844.6 948.4 1970.9 686.8M1592.0 696.8 1718.3 686.1 1844.6 972.2 1970.9 659.3M1592.0 696.8 1718.3 637.5 1844.6 976.2 1970.9 638.6M1592.0 696.8 1718.3 691.5 1844.6 980.7 1970.9 981.6M1592.0 696.8 1718.3 646.3 1844.6 980.1 1970.9 685.7M1592.0 696.8 1718.3 684.6 1844.6 981.5 1970.9 979.6M1592.0 696.8 1718.3 660.1 1844.6 955.9 1970.9 721.2M1592.0 696.8 1718.3 696.7 1844.6 965.7 1970.9 966.0M1592.0 696.8 1718.3 679.5 1844.6 966.4 1970.9 965.1M1592.0 696.8 1718.3 658.7 1844.6 957.9 1970.9 642.7M1592.0 696.8 1718.3 677.7 1844.6 951.2 1970.9 686.7M1592.0 696.8 1718.3 661.5 1844.6 964.1 1970.9 639.3M1592.0 696.8 1718.3 683.6 1844.6 975.2 1970.9 761.1M1592.0 696.8 1718.3 667.6 1844.6 951.0 1970.9 710.0M1592.0 696.8 1718.3 659.2 1844.6 976.3 1970.9 723.0M1592.0 696.8 1718.3 684.7 1844.6 974.0 1970.9 657.3M1592.0 696.8 1718.3 680.9 1844.6 982.2 1970.9 665.9M1592.0 696.8 1718.3 672.9 1844.6 949.7 1970.9 950.0M1592.0 696.8 1718.3 693.1 1844.6 965.7 1970.9 683.1M1592.0 696.8 1718.3 660.7 1844.6 956.5 1970.9 956.9M1592.0 696.8 1718.3 679.9 1844.6 962.1 1970.9 690.1M1592.0 696.8 1718.3 679.7 1844.6 971.8 1970.9 696.0M1592.0 696.8 1718.3 711.2 1844.6 951.6 1970.9 952.3M1592.0 696.8 1718.3 685.6 1844.6 975.3 1970.9 681.7M1592.0 696.8 1718.3 699.1 1844.6 963.3 1970.9 689.9M1592.0 696.8 1718.3 694.0 1844.6 973.9 1970.9 685.2M1592.0 696.8 1718.3 669.8 1844.6 960.7 1970.9 649.2M1592.0 696.8 1718.3 640.7 1844.6 957.4 1970.9 693.2M1592.0 696.8 1718.3 663.7 1844.6 975.6 1970.9 684.5M1592.0 696.8 1718.3 695.5 1844.6 970.4 1970.9 682.7M1592.0 696.8 1718.3 704.5 1844.6 962.5 1970.9 716.4M1592.0 696.8 1718.3 701.7 1844.6 971.7 1970.9 708.9M1592.0 696.8 1718.3 642.8 1844.6 959.9 1970.9 700.7M1592.0 696.8 1718.3 668.6 1844.6 957.9 1970.9 958.4M1592.0 696.8 1718.3 662.0 1844.6 956.3 1970.9 670.7M1592.0 696.8 1718.3 674.2 1844.6 966.9 1970.9 684.2M1592.0 696.8 1718.3 653.1 1844.6 974.9 1970.9 677.1M1592.0 696.8 1718.3 694.2 1844.6 966.5 1970.9 644.2M1592.0 696.8 1718.3 713.2 1844.6 956.2 1970.9 707.6M1592.0 696.8 1718.3 680.5 1844.6 953.4 1970.9 708.1M1592.0 696.8 1718.3 685.8 1844.6 973.5 1970.9 696.9M1592.0 696.8 1718.3 684.3 1844.6 970.1 1970.9 969.0M1592.0 696.8 1718.3 692.0 1844.6 950.5 1970.9 695.5M1592.0 696.8 1718.3 679.4 1844.6 957.1 1970.9 680.7M1592.0 696.8 1718.3 702.0 1844.6 1021.3 1970.9 688.1M1592.0 696.8 1718.3 705.5 1844.6 963.0 1970.9 679.1M1592.0 696.8 1718.3 647.1 1844.6 967.0 1970.9 966.5M1592.0 696.8 1718.3 643.6 1844.6 962.0 1970.9 661.2M1592.0 696.8 1718.3 671.0 1844.6 952.2 1970.9 740.3M1592.0 696.8 1718.3 674.7 1844.6 969.0 1970.9 695.7M1592.0 696.8 1718.3 664.7 1844.6 961.6 1970.9 768.3M1592.0 696.8 1718.3 657.3 1844.6 961.8 1970.9 961.6M1592.0 696.8 1718.3 665.6 1844.6 961.0 1970.9 961.5M1592.0 696.8 1718.3 652.7 1844.6 963.9 1970.9 964.2M1592.0 696.8 1718.3 680.6 1844.6 955.6 1970.9 955.8M1592.0 696.8 1718.3 640.6 1844.6 980.5 1970.9 723.3M1592.0 696.8 1718.3 684.1 1844.6 973.8 1970.9 692.7M1592.0 696.8 1718.3 668.7 1844.6 952.9 1970.9 952.3M1592.0 696.8 1718.3 669.0 1844.6 955.2 1970.9 663.7M1592.0 696.8 1718.3 670.8 1844.6 962.9 1970.9 714.0M1592.0 696.8 1718.3 657.8 1844.6 955.2 1970.9 956.9M1592.0 696.8 1718.3 712.3 1844.6 951.9 1970.9 952.4M1592.0 696.8 1718.3 667.8 1844.6 959.9 1970.9 705.4M1592.0 696.8 1718.3 664.5 1844.6 957.8 1970.9 669.6M1592.0 696.8 1718.3 656.0 1844.6 967.5 1970.9 695.5M1592.0 696.8 1718.3 651.3 1844.6 949.8 1970.9 682.1M1592.0 696.8 1718.3 677.4 1844.6 977.8 1970.9 692.3M1592.0 696.8 1718.3 683.7 1844.6 963.9 1970.9 693.4M1592.0 696.8 1718.3 700.6 1844.6 981.9 1970.9 649.2M1592.0 696.8 1718.3 642.2 1844.6 970.2 1970.9 728.9M1592.0 696.8 1718.3 661.2 1844.6 979.7 1970.9 680.9M1592.0 696.8 1718.3 695.6 1844.6 981.5 1970.9 644.2M1592.0 696.8 1718.3 704.6 1844.6 966.4 1970.9 690.9M1592.0 696.8 1718.3 654.4 1844.6 957.9 1970.9 957.1M1592.0 696.8 1718.3 680.3 1844.6 966.1 1970.9 966.0M1592.0 696.8 1718.3 683.1 1844.6 960.3 1970.9 684.2M1592.0 696.8 1718.3 695.7 1844.6 955.7 1970.9 671.6M1592.0 696.8 1718.3 677.9 1844.6 973.5 1970.9 973.2M1592.0 696.8 1718.3 670.5 1844.6 1013.7 1970.9 661.4M1592.0 696.8 1718.3 708.1 1844.6 959.8 1970.9 717.8M1592.0 696.8 1718.3 668.2 1844.6 975.2 1970.9 975.1M1592.0 696.8 1718.3 693.1 1844.6 973.7 1970.9 679.3M1592.0 696.8 1718.3 709.3 1844.6 1004.0 1970.9 699.3M1592.0 696.8 1718.3 668.6 1844.6 964.4 1970.9 677.9M1592.0 696.8 1718.3 706.2 1844.6 970.7 1970.9 711.9M1592.0 696.8 1718.3 665.4 1844.6 976.5 1970.9 672.0M1592.0 696.8 1718.3 663.6 1844.6 972.9 1970.9 683.8M1592.0 696.8 1718.3 655.4 1844.6 971.4 1970.9 970.5M1592.0 696.8 1718.3 643.4 1844.6 978.6 1970.9 692.1M1592.0 696.8 1718.3 690.9 1844.6 983.7 1970.9 711.9M1592.0 696.8 1718.3 671.4 1844.6 965.4 1970.9 964.1M1592.0 696.8 1718.3 678.6 1844.6 969.4 1970.9 680.0M1592.0 696.8 1718.3 658.6 1844.6 981.4 1970.9 725.2M1592.0 696.8 1718.3 680.9 1844.6 966.3 1970.9 673.0M1592.0 696.8 1718.3 689.5 1844.6 952.8 1970.9 953.2M1592.0 696.8 1718.3 693.1 1844.6 968.4 1970.9 968.6M1592.0 696.8 1718.3 697.7 1844.6 979.1 1970.9 978.1M1592.0 696.8 1718.3 678.1 1844.6 980.1 1970.9 672.6M1592.0 696.8 1718.3 706.5 1844.6 980.8 1970.9 980.0M1592.0 696.8 1718.3 649.1 1844.6 1005.3 1970.9 670.7M1592.0 696.8 1718.3 662.0 1844.6 977.9 1970.9 686.3M1592.0 696.8 1718.3 669.5 1844.6 976.5 1970.9 975.7M1592.0 696.8 1718.3 681.7 1844.6 950.4 1970.9 674.4M1592.0 696.8 1718.3 701.0 1844.6 994.2 1970.9 994.1M1592.0 696.8 1718.3 672.3 1844.6 955.0 1970.9 954.7M1592.0 696.8 1718.3 660.6 1844.6 953.1 1970.9 954.8M1592.0 696.8 1718.3 661.0 1844.6 1002.6 1970.9 1001.4M1592.0 696.8 1718.3 697.4 1844.6 966.1 1970.9 705.3M1592.0 696.8 1718.3 671.5 1844.6 955.3 1970.9 726.0M1592.0 696.8 1718.3 679.4 1844.6 959.3 1970.9 697.5M1592.0 696.8 1718.3 693.4 1844.6 978.4 1970.9 699.3M1592.0 696.8 1718.3 669.1 1844.6 957.1 1970.9 656.8M1592.0 696.8 1718.3 653.3 1844.6 971.7 1970.9 679.6M1592.0 696.8 1718.3 687.7 1844.6 960.9 1970.9 960.9M1592.0 696.8 1718.3 714.0 1844.6 956.2 1970.9 956.8M1592.0 696.8 1718.3 659.8 1844.6 951.4 1970.9 661.1M1592.0 696.8 1718.3 664.0 1844.6 958.4 1970.9 687.1M1592.0 696.8 1718.3 679.8 1844.6 974.1 1970.9 973.9M1592.0 696.8 1718.3 679.9 1844.6 964.4 1970.9 666.0M1592.0 696.8 1718.3 649.0 1844.6 959.4 1970.9 719.0M1592.0 696.8 1718.3 679.9 1844.6 984.2 1970.9 984.4M1592.0 696.8 1718.3 704.2 1844.6 998.2 1970.9 998.4M1592.0 696.8 1718.3 672.7 1844.6 975.3 1970.9 714.8M1592.0 696.8 1718.3 689.2 1844.6 964.8 1970.9 964.5M1592.0 696.8 1718.3 689.3 1844.6 993.8 1970.9 720.7M1592.0 696.8 1718.3 670.7 1844.6 970.3 1970.9 711.6M1592.0 696.8 1718.3 673.6 1844.6 956.1 1970.9 699.7M1592.0 696.8 1718.3 639.5 1844.6 954.0 1970.9 953.6M1592.0 696.8 1718.3 669.1 1844.6 976.1 1970.9 689.0M1592.0 696.8 1718.3 665.8 1844.6 967.1 1970.9 713.3M1592.0 696.8 1718.3 642.2 1844.6 951.5 1970.9 952.9M1592.0 696.8 1718.3 635.2 1844.6 989.6 1970.9 691.7M1592.0 696.8 1718.3 671.2 1844.6 974.2 1970.9 974.3M1592.0 696.8 1718.3 662.8 1844.6 987.4 1970.9 676.8M1592.0 696.8 1718.3 661.1 1844.6 985.3 1970.9 695.0M1592.0 696.8 1718.3 673.6 1844.6 953.6 1970.9 953.0M1592.0 696.8 1718.3 652.5 1844.6 957.8 1970.9 686.9M1592.0 696.8 1718.3 657.4 1844.6 958.3 1970.9 958.4M1592.0 696.8 1718.3 654.3 1844.6 955.4 1970.9 726.5M1592.0 696.8 1718.3 677.7 1844.6 969.7 1970.9 969.6M1592.0 696.8 1718.3 713.3 1844.6 981.8 1970.9 712.5M1592.0 696.8 1718.3 707.6 1844.6 962.9 1970.9 702.7M1592.0 696.8 1718.3 678.3 1844.6 986.1 1970.9 985.6M1592.0 696.8 1718.3 678.3 1844.6 969.1 1970.9 680.3M1592.0 696.8 1718.3 706.4 1844.6 951.6 1970.9 952.8M1592.0 696.8 1718.3 674.6 1844.6 962.2 1970.9 961.1M1592.0 696.8 1718.3 650.6 1844.6 950.4 1970.9 687.7M1592.0 696.8 1718.3 669.1 1844.6 970.8 1970.9 971.5M1592.0 696.8 1718.3 667.2 1844.6 974.4 1970.9 674.8M1592.0 696.8 1718.3 704.3 1844.6 969.4 1970.9 969.0M1592.0 696.8 1718.3 723.9 1844.6 968.1 1970.9 729.6M1592.0 696.8 1718.3 687.0 1844.6 957.3 1970.9 641.5M1592.0 696.8 1718.3 686.6 1844.6 972.0 1970.9 747.4M1592.0 696.8 1718.3 686.6 1844.6 1019.0 1970.9 738.5M1592.0 696.8 1718.3 695.7 1844.6 948.4 1970.9 703.5M1592.0 696.8 1718.3 679.9 1844.6 964.4 1970.9 962.5M1592.0 696.8 1718.3 680.5 1844.6 949.6 1970.9 720.1M1592.0 696.8 1718.3 694.9 1844.6 958.2 1970.9 958.2M1592.0 696.8 1718.3 671.0 1844.6 977.4 1970.9 976.8M1592.0 696.8 1718.3 699.2 1844.6 974.3 1970.9 724.0M1592.0 696.8 1718.3 657.7 1844.6 999.7 1970.9 672.4M1592.0 696.8 1718.3 718.2 1844.6 952.4 1970.9 684.4M1592.0 696.8 1718.3 675.0 1844.6 985.9 1970.9 985.1M1592.0 696.8 1718.3 673.9 1844.6 953.6 1970.9 953.7M1592.0 696.8 1718.3 698.4 1844.6 950.2 1970.9 949.8M1592.0 696.8 1718.3 644.1 1844.6 952.3 1970.9 697.0M1592.0 696.8 1718.3 655.9 1844.6 987.2 1970.9 718.3M1592.0 696.8 1718.3 652.6 1844.6 1017.4 1970.9 715.6M1592.0 696.8 1718.3 667.0 1844.6 980.0 1970.9 979.9M1592.0 696.8 1718.3 655.9 1844.6 956.9 1970.9 712.1M1592.0 696.8 1718.3 681.3 1844.6 948.8 1970.9 680.3M1592.0 696.8 1718.3 659.6 1844.6 974.9 1970.9 728.9M1592.0 696.8 1718.3 656.6 1844.6 959.3 1970.9 683.2M1592.0 696.8 1718.3 686.0 1844.6 968.9 1970.9 683.3M1592.0 696.8 1718.3 650.3 1844.6 950.0 1970.9 690.6M1592.0 696.8 1718.3 683.0 1844.6 960.1 1970.9 682.5M1592.0 696.8 1718.3 674.1 1844.6 970.1 1970.9 703.9M1592.0 696.8 1718.3 693.8 1844.6 960.8 1970.9 961.0M1592.0 696.8 1718.3 687.6 1844.6 980.9 1970.9 704.3M1592.0 696.8 1718.3 663.5 1844.6 978.8 1970.9 721.3M1592.0 696.8 1718.3 694.6 1844.6 965.4 1970.9 964.6M1592.0 696.8 1718.3 657.7 1844.6 971.3 1970.9 971.8M1592.0 696.8 1718.3 709.4 1844.6 964.1 1970.9 964.3M1592.0 696.8 1718.3 677.0 1844.6 963.8 1970.9 644.7M1592.0 696.8 1718.3 686.0 1844.6 964.1 1970.9 709.5M1592.0 696.8 1718.3 644.9 1844.6 978.7 1970.9 668.0M1592.0 696.8 1718.3 658.3 1844.6 975.9 1970.9 976.6M1592.0 696.8 1718.3 690.4 1844.6 973.7 1970.9 694.5M1592.0 696.8 1718.3 638.3 1844.6 951.3 1970.9 683.4M1592.0 696.8 1718.3 679.0 1844.6 956.4 1970.9 955.6M1592.0 696.8 1718.3 674.1 1844.6 953.1 1970.9 953.6M1592.0 696.8 1718.3 669.5 1844.6 974.6 1970.9 710.9M1592.0 696.8 1718.3 674.1 1844.6 951.8 1970.9 655.6M1592.0 696.8 1718.3 680.5 1844.6 969.4 1970.9 718.5M1592.0 696.8 1718.3 675.7 1844.6 972.9 1970.9 656.9M1592.0 696.8 1718.3 678.9 1844.6 954.0 1970.9 664.8M1592.0 696.8 1718.3 648.1 1844.6 959.8 1970.9 708.7M1592.0 696.8 1718.3 668.3 1844.6 961.4 1970.9 667.9M1592.0 696.8 1718.3 690.8 1844.6 989.9 1970.9 699.0M1592.0 696.8 1718.3 658.7 1844.6 954.7 1970.9 654.0M1592.0 696.8 1718.3 672.8 1844.6 964.9 1970.9 709.6M1592.0 696.8 1718.3 636.3 1844.6 956.1 1970.9 679.6M1592.0 696.8 1718.3 696.9 1844.6 995.3 1970.9 995.2M1592.0 696.8 1718.3 681.9 1844.6 988.2 1970.9 690.0M1592.0 696.8 1718.3 680.1 1844.6 961.8 1970.9 766.3M1592.0 696.8 1718.3 700.5 1844.6 974.5 1970.9 694.8M1592.0 696.8 1718.3 690.7 1844.6 973.0 1970.9 972.7M1592.0 696.8 1718.3 696.2 1844.6 972.4 1970.9 972.5M1592.0 696.8 1718.3 688.1 1844.6 956.9 1970.9 699.4M1592.0 696.8 1718.3 671.1 1844.6 965.7 1970.9 645.1M1592.0 696.8 1718.3 661.2 1844.6 968.3 1970.9 697.5M1592.0 696.8 1718.3 717.0 1844.6 963.7 1970.9 647.7M1592.0 696.8 1718.3 677.6 1844.6 986.1 1970.9 664.6M1592.0 696.8 1718.3 668.5 1844.6 979.5 1970.9 978.1M1592.0 696.8 1718.3 692.4 1844.6 963.3 1970.9 962.5M1592.0 696.8 1718.3 705.7 1844.6 955.2 1970.9 666.5M1592.0 696.8 1718.3 681.7 1844.6 952.5 1970.9 680.6M1592.0 696.8 1718.3 678.2 1844.6 956.8 1970.9 678.4M1592.0 696.8 1718.3 688.2 1844.6 969.4 1970.9 663.5M1592.0 696.8 1718.3 657.4 1844.6 980.7 1970.9 720.9M1592.0 696.8 1718.3 675.1 1844.6 954.7 1970.9 717.4M1592.0 696.8 1718.3 700.7 1844.6 951.0 1970.9 710.2M1592.0 696.8 1718.3 660.9 1844.6 959.9 1970.9 695.4M1592.0 696.8 1718.3 699.2 1844.6 967.1 1970.9 665.5M1592.0 696.8 1718.3 713.2 1844.6 961.7 1970.9 713.3M1592.0 696.8 1718.3 697.3 1844.6 981.5 1970.9 667.3M1592.0 696.8 1718.3 637.0 1844.6 975.8 1970.9 976.5M1592.0 696.8 1718.3 654.8 1844.6 954.0 1970.9 712.4M1592.0 696.8 1718.3 666.2 1844.6 948.6 1970.9 741.6M1592.0 696.8 1718.3 668.9 1844.6 970.9 1970.9 970.2M1592.0 696.8 1718.3 721.5 1844.6 960.2 1970.9 961.0M1592.0 696.8 1718.3 662.4 1844.6 974.2 1970.9 975.6M1592.0 696.8 1718.3 674.8 1844.6 962.8 1970.9 694.2M1592.0 696.8 1718.3 692.7 1844.6 970.2 1970.9 664.2M1592.0 696.8 1718.3 690.2 1844.6 967.1 1970.9 660.1M1592.0 696.8 1718.3 709.3 1844.6 954.5 1970.9 701.5M1592.0 696.8 1718.3 674.7 1844.6 958.2 1970.9 680.0M1592.0 696.8 1718.3 635.8 1844.6 979.0 1970.9 686.8M1592.0 696.8 1718.3 676.6 1844.6 975.8 1970.9 974.8M1592.0 696.8 1718.3 668.1 1844.6 953.5 1970.9 704.9M1592.0 696.8 1718.3 641.8 1844.6 949.8 1970.9 709.9M1592.0 696.8 1718.3 688.6 1844.6 951.6 1970.9 652.5M1592.0 696.8 1718.3 661.1 1844.6 951.7 1970.9 719.7M1592.0 696.8 1718.3 659.8 1844.6 990.1 1970.9 683.6M1592.0 696.8 1718.3 683.7 1844.6 967.7 1970.9 694.4M1592.0 696.8 1718.3 664.2 1844.6 954.9 1970.9 670.3M1592.0 696.8 1718.3 687.4 1844.6 1020.8 1970.9 663.1M1592.0 696.8 1718.3 664.7 1844.6 970.0 1970.9 970.9M1592.0 696.8 1718.3 676.9 1844.6 953.4 1970.9 953.3M1592.0 696.8 1718.3 672.0 1844.6 958.7 1970.9 958.6M1592.0 696.8 1718.3 716.0 1844.6 958.6 1970.9 706.7M1592.0 696.8 1718.3 665.9 1844.6 976.4 1970.9 977.0M1592.0 696.8 1718.3 705.5 1844.6 963.3 1970.9 964.1M1592.0 696.8 1718.3 677.6 1844.6 972.4 1970.9 700.0M1592.0 696.8 1718.3 689.1 1844.6 979.2 1970.9 700.7M1592.0 696.8 1718.3 698.2 1844.6 955.4 1970.9 735.2M1592.0 696.8 1718.3 671.5 1844.6 953.3 1970.9 654.2M1592.0 696.8 1718.3 716.4 1844.6 969.7 1970.9 692.2M1592.0 696.8 1718.3 701.7 1844.6 950.2 1970.9 670.5M1592.0 696.8 1718.3 680.2 1844.6 961.0 1970.9 960.8M1592.0 696.8 1718.3 705.3 1844.6 972.8 1970.9 726.2M1592.0 696.8 1718.3 653.7 1844.6 965.2 1970.9 698.0M1592.0 696.8 1718.3 671.6 1844.6 951.2 1970.9 686.3M1592.0 696.8 1718.3 681.9 1844.6 1025.7 1970.9 716.6M1592.0 696.8 1718.3 686.5 1844.6 963.1 1970.9 682.3M1592.0 696.8 1718.3 692.8 1844.6 973.8 1970.9 663.4M1592.0 696.8 1718.3 654.5 1844.6 974.6 1970.9 661.8M1592.0 696.8 1718.3 657.1 1844.6 967.1 1970.9 639.6M1592.0 696.8 1718.3 686.9 1844.6 1019.3 1970.9 1018.1M1592.0 696.8 1718.3 674.2 1844.6 957.1 1970.9 956.1M1592.0 696.8 1718.3 717.1 1844.6 970.8 1970.9 719.1M1592.0 696.8 1718.3 659.2 1844.6 954.2 1970.9 953.6M1592.0 696.8 1718.3 657.3 1844.6 952.1 1970.9 673.4M1592.0 696.8 1718.3 688.0 1844.6 954.8 1970.9 715.4M1592.0 696.8 1718.3 659.3 1844.6 972.4 1970.9 971.9M1592.0 696.8 1718.3 675.5 1844.6 974.4 1970.9 645.6M1592.0 696.8 1718.3 674.3 1844.6 949.2 1970.9 751.2M1592.0 696.8 1718.3 662.7 1844.6 960.4 1970.9 693.2M1592.0 696.8 1718.3 736.8 1844.6 971.8 1970.9 650.7M1592.0 696.8 1718.3 693.0 1844.6 968.7 1970.9 713.9M1592.0 696.8 1718.3 678.7 1844.6 965.8 1970.9 694.5M1592.0 696.8 1718.3 699.3 1844.6 952.0 1970.9 950.5M1592.0 696.8 1718.3 682.9 1844.6 954.6 1970.9 710.0M1592.0 696.8 1718.3 689.4 1844.6 959.0 1970.9 653.6M1592.0 696.8 1718.3 698.1 1844.6 955.6 1970.9 689.7M1592.0 696.8 1718.3 664.0 1844.6 954.3 1970.9 720.5M1592.0 696.8 1718.3 652.2 1844.6 1025.0 1970.9 708.1M1592.0 696.8 1718.3 678.5 1844.6 970.8 1970.9 971.9M1592.0 696.8 1718.3 659.9 1844.6 951.9 1970.9 953.0M1592.0 696.8 1718.3 684.2 1844.6 966.7 1970.9 698.4M1592.0 696.8 1718.3 665.3 1844.6 953.1 1970.9 651.2M1592.0 696.8 1718.3 683.0 1844.6 958.6 1970.9 715.2M1592.0 696.8 1718.3 680.7 1844.6 968.8 1970.9 669.6M1592.0 696.8 1718.3 681.1 1844.6 961.8 1970.9 683.6M1592.0 696.8 1718.3 649.9 1844.6 954.7 1970.9 648.6M1592.0 696.8 1718.3 653.7 1844.6 999.5 1970.9 728.5M1592.0 696.8 1718.3 673.8 1844.6 999.2 1970.9 1000.2M1592.0 696.8 1718.3 685.0 1844.6 972.3 1970.9 664.4M1592.0 696.8 1718.3 666.9 1844.6 975.0 1970.9 697.6M1592.0 696.8 1718.3 672.9 1844.6 982.9 1970.9 983.3M1592.0 696.8 1718.3 670.6 1844.6 1006.2 1970.9 1007.4M1592.0 696.8 1718.3 670.2 1844.6 955.4 1970.9 744.3M1592.0 696.8 1718.3 665.0 1844.6 987.5 1970.9 703.2M1592.0 696.8 1718.3 695.2 1844.6 959.3 1970.9 739.4M1592.0 696.8 1718.3 651.6 1844.6 994.6 1970.9 664.6M1592.0 696.8 1718.3 707.3 1844.6 965.8 1970.9 701.4M1592.0 696.8 1718.3 676.0 1844.6 960.5 1970.9 707.4M1592.0 696.8 1718.3 673.0 1844.6 963.3 1970.9 673.5M1592.0 696.8 1718.3 672.9 1844.6 955.8 1970.9 647.9M1592.0 696.8 1718.3 648.2 1844.6 968.4 1970.9 671.4M1592.0 696.8 1718.3 679.7 1844.6 956.7 1970.9 662.7M1592.0 696.8 1718.3 653.8 1844.6 964.3 1970.9 686.9M1592.0 696.8 1718.3 648.5 1844.6 963.1 1970.9 735.8M1592.0 696.8 1718.3 666.9 1844.6 968.3 1970.9 718.2M1592.0 696.8 1718.3 692.5 1844.6 969.3 1970.9 712.8M1592.0 696.8 1718.3 669.9 1844.6 953.2 1970.9 767.7M1592.0 696.8 1718.3 695.7 1844.6 949.4 1970.9 714.8M1592.0 696.8 1718.3 684.0 1844.6 973.3 1970.9 722.2M1592.0 696.8 1718.3 641.6 1844.6 966.9 1970.9 718.8M1592.0 696.8 1718.3 669.5 1844.6 950.4 1970.9 710.7M1592.0 696.8 1718.3 710.6 1844.6 950.4 1970.9 951.7M1592.0 696.8 1718.3 684.0 1844.6 979.7 1970.9 978.7M1592.0 696.8 1718.3 704.5 1844.6 950.5 1970.9 658.9M1592.0 696.8 1718.3 701.3 1844.6 978.4 1970.9 695.4M1592.0 696.8 1718.3 674.4 1844.6 952.0 1970.9 668.3M1592.0 696.8 1718.3 682.0 1844.6 982.3 1970.9 687.9M1592.0 696.8 1718.3 718.3 1844.6 949.2 1970.9 949.9M1592.0 696.8 1718.3 688.0 1844.6 985.6 1970.9 666.4M1592.0 696.8 1718.3 672.7 1844.6 961.0 1970.9 961.4M1592.0 696.8 1718.3 686.1 1844.6 962.8 1970.9 713.5M1592.0 696.8 1718.3 690.6 1844.6 962.9 1970.9 742.7M1592.0 696.8 1718.3 676.7 1844.6 959.3 1970.9 684.8M1592.0 696.8 1718.3 690.4 1844.6 978.7 1970.9 684.6M1592.0 696.8 1718.3 703.9 1844.6 962.7 1970.9 699.5M1592.0 696.8 1718.3 633.4 1844.6 970.5 1970.9 970.8M1592.0 696.8 1718.3 691.4 1844.6 961.6 1970.9 961.5M1592.0 696.8 1718.3 653.0 1844.6 958.1 1970.9 691.0M1592.0 696.8 1718.3 695.3 1844.6 954.8 1970.9 689.5M1592.0 696.8 1718.3 701.3 1844.6 969.5 1970.9 968.9M1592.0 696.8 1718.3 683.6 1844.6 954.0 1970.9 690.5M1592.0 696.8 1718.3 719.5 1844.6 948.7 1970.9 947.7M1592.0 696.8 1718.3 681.7 1844.6 972.6 1970.9 724.2M1592.0 696.8 1718.3 701.2 1844.6 985.7 1970.9 986.7M1592.0 696.8 1718.3 672.5 1844.6 966.1 1970.9 684.9M1592.0 696.8 1718.3 669.0 1844.6 960.6 1970.9 675.4M1592.0 696.8 1718.3 684.5 1844.6 956.3 1970.9 755.6M1592.0 696.8 1718.3 684.4 1844.6 970.9 1970.9 663.2M1592.0 696.8 1718.3 692.5 1844.6 954.4 1970.9 679.7M1592.0 696.8 1718.3 697.9 1844.6 981.2 1970.9 755.4M1592.0 696.8 1718.3 697.6 1844.6 964.0 1970.9 963.7M1592.0 696.8 1718.3 653.7 1844.6 972.1 1970.9 685.4M1592.0 696.8 1718.3 675.4 1844.6 969.2 1970.9 712.5M1592.0 696.8 1718.3 690.3 1844.6 954.1 1970.9 711.9M1592.0 696.8 1718.3 680.4 1844.6 960.5 1970.9 960.3M1592.0 696.8 1718.3 646.1 1844.6 950.8 1970.9 714.1M1592.0 696.8 1718.3 658.0 1844.6 974.6 1970.9 694.4M1592.0 696.8 1718.3 660.5 1844.6 958.8 1970.9 714.7M1592.0 696.8 1718.3 706.1 1844.6 961.8 1970.9 961.8M1592.0 696.8 1718.3 653.1 1844.6 965.5 1970.9 713.5M1592.0 696.8 1718.3 691.3 1844.6 963.1 1970.9 743.6M1592.0 696.8 1718.3 668.8 1844.6 963.1 1970.9 664.9M1592.0 696.8 1718.3 705.4 1844.6 979.2 1970.9 668.5M1592.0 696.8 1718.3 663.9 1844.6 962.5 1970.9 760.7M1592.0 696.8 1718.3 690.1 1844.6 976.9 1970.9 694.9M1592.0 696.8 1718.3 641.0 1844.6 957.6 1970.9 710.1M1592.0 696.8 1718.3 688.1 1844.6 976.1 1970.9 718.7M1592.0 696.8 1718.3 704.5 1844.6 952.0 1970.9 696.3M1592.0 696.8 1718.3 663.0 1844.6 966.1 1970.9 718.7M1592.0 696.8 1718.3 666.3 1844.6 963.2 1970.9 664.9M1592.0 696.8 1718.3 690.9 1844.6 956.3 1970.9 708.0M1592.0 696.8 1718.3 653.0 1844.6 949.8 1970.9 686.7M1592.0 696.8 1718.3 693.4 1844.6 966.5 1970.9 966.9M1592.0 696.8 1718.3 692.3 1844.6 962.3 1970.9 709.3M1592.0 696.8 1718.3 711.0 1844.6 967.3 1970.9 687.6M1592.0 696.8 1718.3 680.2 1844.6 983.5 1970.9 723.2M1592.0 696.8 1718.3 673.9 1844.6 960.4 1970.9 688.0M1592.0 696.8 1718.3 673.5 1844.6 998.3 1970.9 999.1M1592.0 696.8 1718.3 706.5 1844.6 976.2 1970.9 731.0M1592.0 696.8 1718.3 687.9 1844.6 970.3 1970.9 969.9M1592.0 696.8 1718.3 705.1 1844.6 964.7 1970.9 700.7M1592.0 696.8 1718.3 687.7 1844.6 972.5 1970.9 678.8M1592.0 696.8 1718.3 663.4 1844.6 974.4 1970.9 669.3M1592.0 696.8 1718.3 667.1 1844.6 982.0 1970.9 679.9M1592.0 696.8 1718.3 671.6 1844.6 967.1 1970.9 683.2M1592.0 696.8 1718.3 697.7 1844.6 948.8 1970.9 949.0M1592.0 696.8 1718.3 664.6 1844.6 959.3 1970.9 645.4M1592.0 696.8 1718.3 690.7 1844.6 957.4 1970.9 958.1M1592.0 696.8 1718.3 701.3 1844.6 957.4 1970.9 957.4M1592.0 696.8 1718.3 719.8 1844.6 967.0 1970.9 966.7M1592.0 696.8 1718.3 654.0 1844.6 953.1 1970.9 953.8M1592.0 696.8 1718.3 683.3 1844.6 949.0 1970.9 948.1M1592.0 696.8 1718.3 665.8 1844.6 961.6 1970.9 710.7M1592.0 696.8 1718.3 678.1 1844.6 1007.2 1970.9 704.0M1592.0 696.8 1718.3 666.3 1844.6 956.4 1970.9 669.3M1592.0 696.8 1718.3 683.7 1844.6 964.9 1970.9 702.8M1592.0 696.8 1718.3 656.0 1844.6 990.0 1970.9 692.0M1592.0 696.8 1718.3 660.3 1844.6 1020.3 1970.9 704.8M1592.0 696.8 1718.3 692.1 1844.6 960.9 1970.9 680.9M1592.0 696.8 1718.3 698.7 1844.6 978.8 1970.9 710.0M1592.0 696.8 1718.3 654.9 1844.6 962.5 1970.9 961.7M1592.0 696.8 1718.3 699.6 1844.6 979.5 1970.9 647.9M1592.0 696.8 1718.3 685.1 1844.6 988.1 1970.9 714.0M1592.0 696.8 1718.3 661.5 1844.6 948.9 1970.9 660.9M1592.0 696.8 1718.3 664.1 1844.6 968.0 1970.9 968.6M1592.0 696.8 1718.3 714.5 1844.6 960.3 1970.9 658.8M1592.0 696.8 1718.3 666.1 1844.6 968.4 1970.9 969.5M1592.0 696.8 1718.3 672.3 1844.6 986.4 1970.9 700.1M1592.0 696.8 1718.3 643.7 1844.6 972.0 1970.9 692.0M1592.0 696.8 1718.3 687.0 1844.6 962.7 1970.9 962.8M1592.0 696.8 1718.3 657.9 1844.6 950.9 1970.9 678.8M1592.0 696.8 1718.3 690.0 1844.6 966.5 1970.9 966.1M1592.0 696.8 1718.3 689.2 1844.6 988.3 1970.9 708.3M1592.0 696.8 1718.3 671.8 1844.6 959.8 1970.9 690.8M1592.0 696.8 1718.3 672.1 1844.6 981.7 1970.9 982.0M1592.0 696.8 1718.3 682.4 1844.6 970.8 1970.9 686.0M1592.0 696.8 1718.3 666.6 1844.6 952.7 1970.9 952.7M1592.0 696.8 1718.3 702.9 1844.6 980.0 1970.9 980.0M1592.0 696.8 1718.3 684.4 1844.6 949.2 1970.9 679.1M1592.0 696.8 1718.3 680.0 1844.6 964.0 1970.9 723.7M1592.0 696.8 1718.3 654.2 1844.6 969.6 1970.9 969.1M1592.0 696.8 1718.3 671.7 1844.6 952.7 1970.9 688.1M1592.0 696.8 1718.3 642.0 1844.6 970.2 1970.9 691.6M1592.0 696.8 1718.3 674.1 1844.6 973.1 1970.9 699.0M1592.0 696.8 1718.3 640.4 1844.6 974.1 1970.9 974.4M1592.0 696.8 1718.3 673.5 1844.6 995.1 1970.9 692.5M1592.0 696.8 1718.3 682.0 1844.6 990.2 1970.9 673.4M1592.0 696.8 1718.3 683.1 1844.6 966.6 1970.9 690.1M1592.0 696.8 1718.3 664.9 1844.6 955.3 1970.9 695.9M1592.0 696.8 1718.3 689.2 1844.6 976.9 1970.9 719.9M1592.0 696.8 1718.3 654.5 1844.6 958.0 1970.9 697.9M1592.0 696.8 1718.3 675.6 1844.6 953.7 1970.9 954.0M1592.0 696.8 1718.3 662.8 1844.6 985.6 1970.9 712.4M1592.0 696.8 1718.3 673.0 1844.6 960.6 1970.9 671.5M1592.0 696.8 1718.3 667.5 1844.6 970.8 1970.9 693.6M1592.0 696.8 1718.3 649.0 1844.6 949.2 1970.9 683.7M1592.0 696.8 1718.3 643.8 1844.6 964.3 1970.9 658.0M1592.0 696.8 1718.3 672.6 1844.6 960.1 1970.9 675.5M1592.0 696.8 1718.3 658.8 1844.6 961.9 1970.9 694.4M1592.0 696.8 1718.3 652.1 1844.6 983.3 1970.9 718.8M1592.0 696.8 1718.3 674.6 1844.6 962.5 1970.9 658.4M1592.0 696.8 1718.3 699.1 1844.6 957.2 1970.9 690.8M1592.0 696.8 1718.3 701.6 1844.6 963.2 1970.9 681.0M1592.0 696.8 1718.3 653.1 1844.6 958.8 1970.9 734.3M1592.0 696.8 1718.3 650.3 1844.6 956.4 1970.9 668.3M1592.0 696.8 1718.3 688.2 1844.6 966.5 1970.9 965.7M1592.0 696.8 1718.3 672.5 1844.6 966.2 1970.9 966.4M1592.0 696.8 1718.3 675.6 1844.6 977.9 1970.9 684.9M1592.0 696.8 1718.3 681.4 1844.6 952.0 1970.9 951.7M1592.0 696.8 1718.3 684.1 1844.6 969.8 1970.9 716.2M1592.0 696.8 1718.3 683.9 1844.6 966.4 1970.9 713.6M1592.0 696.8 1718.3 686.6 1844.6 960.0 1970.9 692.3M1592.0 696.8 1718.3 687.1 1844.6 983.9 1970.9 705.7M1592.0 696.8 1718.3 670.2 1844.6 954.8 1970.9 686.8M1592.0 696.8 1718.3 718.0 1844.6 961.4 1970.9 718.2M1592.0 696.8 1718.3 675.7 1844.6 959.6 1970.9 960.3M1592.0 696.8 1718.3 679.8 1844.6 974.1 1970.9 974.3M1592.0 696.8 1718.3 686.4 1844.6 968.4 1970.9 719.9M1592.0 696.8 1718.3 674.8 1844.6 954.6 1970.9 954.0M1592.0 696.8 1718.3 660.8 1844.6 965.7 1970.9 965.3M1592.0 696.8 1718.3 689.4 1844.6 974.1 1970.9 747.1M1592.0 696.8 1718.3 710.1 1844.6 965.3 1970.9 964.6M1592.0 696.8 1718.3 697.2 1844.6 953.0 1970.9 715.3M1592.0 696.8 1718.3 683.5 1844.6 978.3 1970.9 683.7M1592.0 696.8 1718.3 664.6 1844.6 976.1 1970.9 690.0M1592.0 696.8 1718.3 701.9 1844.6 961.0 1970.9 960.3M1592.0 696.8 1718.3 664.6 1844.6 983.3 1970.9 634.3M1592.0 696.8 1718.3 660.5 1844.6 950.5 1970.9 746.0M1592.0 696.8 1718.3 677.3 1844.6 951.1 1970.9 688.3M1592.0 696.8 1718.3 662.0 1844.6 976.3 1970.9 975.8M1592.0 696.8 1718.3 649.8 1844.6 968.8 1970.9 698.6M1592.0 696.8 1718.3 671.4 1844.6 960.9 1970.9 960.1M1592.0 696.8 1718.3 670.7 1844.6 956.4 1970.9 687.6M1592.0 696.8 1718.3 677.9 1844.6 969.4 1970.9 699.1M1592.0 696.8 1718.3 700.4 1844.6 980.0 1970.9 715.2M1592.0 696.8 1718.3 666.1 1844.6 956.5 1970.9 733.5M1592.0 696.8 1718.3 670.8 1844.6 964.2 1970.9 964.7M1592.0 696.8 1718.3 676.0 1844.6 984.6 1970.9 723.8M1592.0 696.8 1718.3 669.1 1844.6 981.3 1970.9 676.6M1592.0 696.8 1718.3 695.7 1844.6 964.1 1970.9 964.9M1592.0 696.8 1718.3 689.7 1844.6 950.1 1970.9 654.1M1592.0 696.8 1718.3 659.6 1844.6 966.8 1970.9 751.5M1592.0 696.8 1718.3 652.3 1844.6 970.2 1970.9 735.4M1592.0 696.8 1718.3 704.5 1844.6 965.1 1970.9 966.9M1592.0 696.8 1718.3 642.1 1844.6 962.1 1970.9 655.8M1592.0 696.8 1718.3 674.5 1844.6 969.7 1970.9 652.4M1592.0 696.8 1718.3 681.5 1844.6 973.4 1970.9 698.3M1592.0 696.8 1718.3 655.8 1844.6 967.5 1970.9 966.6M1592.0 696.8 1718.3 682.4 1844.6 964.2 1970.9 676.7M1592.0 696.8 1718.3 684.1 1844.6 975.3 1970.9 637.1M1592.0 696.8 1718.3 658.1 1844.6 954.2 1970.9 953.8M1592.0 696.8 1718.3 689.9 1844.6 977.1 1970.9 669.9M1592.0 696.8 1718.3 649.9 1844.6 965.6 1970.9 684.8M1592.0 696.8 1718.3 666.9 1844.6 973.0 1970.9 677.2M1592.0 696.8 1718.3 655.3 1844.6 983.1 1970.9 982.2M1592.0 696.8 1718.3 658.2 1844.6 984.9 1970.9 721.8M1592.0 696.8 1718.3 679.2 1844.6 953.9 1970.9 750.5M1592.0 696.8 1718.3 690.6 1844.6 959.4 1970.9 700.5M1592.0 696.8 1718.3 651.4 1844.6 963.2 1970.9 674.2M1592.0 696.8 1718.3 698.8 1844.6 960.9 1970.9 705.6M1592.0 696.8 1718.3 637.7 1844.6 950.5 1970.9 660.9M1592.0 696.8 1718.3 650.8 1844.6 974.4 1970.9 680.5M1592.0 696.8 1718.3 647.3 1844.6 991.3 1970.9 991.3M1592.0 696.8 1718.3 682.1 1844.6 966.1 1970.9 689.0M1592.0 696.8 1718.3 694.7 1844.6 982.9 1970.9 731.6M1592.0 696.8 1718.3 690.8 1844.6 953.7 1970.9 699.5M1592.0 696.8 1718.3 673.2 1844.6 968.7 1970.9 709.1M1592.0 696.8 1718.3 661.1 1844.6 960.0 1970.9 688.7M1592.0 696.8 1718.3 664.9 1844.6 961.3 1970.9 698.9M1592.0 696.8 1718.3 661.7 1844.6 968.2 1970.9 969.0M1592.0 696.8 1718.3 684.8 1844.6 971.8 1970.9 971.3M1592.0 696.8 1718.3 675.0 1844.6 962.9 1970.9 962.1M1592.0 696.8 1718.3 660.4 1844.6 960.9 1970.9 960.2M1592.0 696.8 1718.3 659.1 1844.6 966.5 1970.9 682.0M1592.0 696.8 1718.3 693.2 1844.6 964.9 1970.9 657.0M1592.0 696.8 1718.3 679.2 1844.6 965.4 1970.9 649.3M1592.0 696.8 1718.3 671.1 1844.6 951.1 1970.9 648.4M1592.0 696.8 1718.3 677.3 1844.6 979.6 1970.9 701.3M1592.0 696.8 1718.3 668.9 1844.6 969.5 1970.9 969.8M1592.0 696.8 1718.3 664.6 1844.6 965.2 1970.9 691.5M1592.0 696.8 1718.3 662.2 1844.6 970.8 1970.9 970.1M1592.0 696.8 1718.3 670.7 1844.6 954.3 1970.9 737.2M1592.0 696.8 1718.3 657.3 1844.6 952.2 1970.9 715.6M1592.0 696.8 1718.3 686.4 1844.6 972.2 1970.9 681.7M1592.0 696.8 1718.3 667.7 1844.6 984.2 1970.9 985.4M1592.0 696.8 1718.3 670.0 1844.6 952.7 1970.9 647.3M1592.0 696.8 1718.3 678.8 1844.6 955.1 1970.9 714.0M1592.0 696.8 1718.3 656.4 1844.6 969.5 1970.9 686.8M1592.0 696.8 1718.3 640.3 1844.6 951.7 1970.9 699.6M1592.0 696.8 1718.3 655.5 1844.6 998.0 1970.9 998.1M1592.0 696.8 1718.3 699.1 1844.6 965.4 1970.9 657.6M1592.0 696.8 1718.3 647.3 1844.6 963.2 1970.9 680.9M1592.0 696.8 1718.3 658.1 1844.6 989.2 1970.9 702.5M1592.0 696.8 1718.3 676.9 1844.6 971.0 1970.9 972.5M1592.0 696.8 1718.3 690.0 1844.6 964.0 1970.9 690.3M1592.0 696.8 1718.3 675.4 1844.6 959.5 1970.9 702.4M1592.0 696.8 1718.3 715.3 1844.6 954.9 1970.9 956.0M1592.0 696.8 1718.3 648.3 1844.6 958.8 1970.9 959.8M1592.0 696.8 1718.3 679.3 1844.6 954.2 1970.9 953.8M1592.0 696.8 1718.3 690.0 1844.6 984.5 1970.9 985.0M1592.0 696.8 1718.3 647.9 1844.6 966.8 1970.9 729.5M1592.0 696.8 1718.3 668.1 1844.6 966.3 1970.9 709.9M1592.0 696.8 1718.3 649.3 1844.6 984.1 1970.9 985.2M1592.0 696.8 1718.3 702.2 1844.6 960.8 1970.9 653.1M1592.0 696.8 1718.3 670.7 1844.6 962.7 1970.9 710.8M1592.0 696.8 1718.3 670.8 1844.6 959.0 1970.9 672.3M1592.0 696.8 1718.3 690.9 1844.6 974.3 1970.9 720.0M1592.0 696.8 1718.3 633.3 1844.6 960.7 1970.9 701.4M1592.0 696.8 1718.3 710.7 1844.6 957.8 1970.9 684.7M1592.0 696.8 1718.3 690.1 1844.6 959.9 1970.9 684.5M1592.0 696.8 1718.3 685.7 1844.6 983.5 1970.9 696.2M1592.0 696.8 1718.3 661.9 1844.6 968.9 1970.9 684.6M1592.0 696.8 1718.3 682.0 1844.6 948.3 1970.9 695.5M1592.0 696.8 1718.3 661.5 1844.6 978.0 1970.9 704.9M1592.0 696.8 1718.3 675.8 1844.6 977.3 1970.9 712.3M1592.0 696.8 1718.3 670.6 1844.6 956.7 1970.9 676.4M1592.0 696.8 1718.3 691.8 1844.6 966.9 1970.9 967.1M1592.0 696.8 1718.3 668.2 1844.6 972.7 1970.9 684.3M1592.0 696.8 1718.3 648.3 1844.6 979.3 1970.9 696.1M1592.0 696.8 1718.3 679.4 1844.6 958.1 1970.9 685.1M1592.0 696.8 1718.3 703.7 1844.6 959.9 1970.9 691.9M1592.0 696.8 1718.3 684.3 1844.6 965.2 1970.9 964.5M1592.0 696.8 1718.3 705.6 1844.6 991.4 1970.9 701.9M1592.0 696.8 1718.3 663.3 1844.6 960.1 1970.9 726.2M1592.0 696.8 1718.3 659.4 1844.6 964.0 1970.9 648.7M1592.0 696.8 1718.3 640.1 1844.6 964.3 1970.9 963.5M1592.0 696.8 1718.3 654.4 1844.6 969.0 1970.9 969.4M1592.0 696.8 1718.3 682.4 1844.6 982.9 1970.9 693.4M1592.0 696.8 1718.3 677.5 1844.6 965.5 1970.9 724.8M1592.0 696.8 1718.3 671.1 1844.6 978.2 1970.9 977.3M1592.0 696.8 1718.3 697.8 1844.6 957.3 1970.9 666.4M1592.0 696.8 1718.3 656.2 1844.6 982.5 1970.9 690.9M1592.0 696.8 1718.3 681.1 1844.6 954.4 1970.9 669.4M1592.0 696.8 1718.3 682.5 1844.6 994.4 1970.9 753.5M1592.0 696.8 1718.3 669.1 1844.6 992.2 1970.9 677.6M1592.0 696.8 1718.3 703.1 1844.6 1022.0 1970.9 1021.3M1592.0 696.8 1718.3 678.5 1844.6 964.0 1970.9 708.2M1592.0 696.8 1718.3 727.1 1844.6 963.1 1970.9 677.6M1592.0 696.8 1718.3 641.7 1844.6 967.6 1970.9 716.6M1592.0 696.8 1718.3 686.5 1844.6 965.3 1970.9 689.7M1592.0 696.8 1718.3 693.4 1844.6 963.4 1970.9 963.9M1592.0 696.8 1718.3 680.7 1844.6 962.9 1970.9 663.7M1592.0 696.8 1718.3 672.7 1844.6 969.7 1970.9 644.8M1592.0 696.8 1718.3 675.9 1844.6 971.1 1970.9 710.7M1592.0 696.8 1718.3 639.9 1844.6 953.1 1970.9 951.5M1592.0 696.8 1718.3 659.2 1844.6 963.9 1970.9 963.7M1592.0 696.8 1718.3 648.3 1844.6 968.1 1970.9 685.7M1592.0 696.8 1718.3 666.4 1844.6 974.7 1970.9 738.9M1592.0 696.8 1718.3 622.4 1844.6 959.2 1970.9 667.6M1592.0 696.8 1718.3 739.1 1844.6 973.8 1970.9 740.5M1592.0 696.8 1718.3 682.2 1844.6 1043.8 1970.9 747.8M1592.0 696.8 1718.3 667.6 1844.6 1024.8 1970.9 1024.8M1592.0 696.8 1718.3 682.2 1844.6 1010.3 1970.9 726.0M1592.0 696.8 1718.3 696.8 1844.6 1017.6 1970.9 689.5M1592.0 696.8 1718.3 674.9 1844.6 1020.5 1970.9 1020.5M1592.0 696.8 1718.3 689.5 1844.6 1014.6 1970.9 1014.6" fill="none" stroke="#d3d3d3" stroke-width="1.15" stroke-linejoin="miter" stroke-miterlimit="20"/>
<polyline points="1592.0,696.8 1718.3,684.3 1844.6,962.9 1970.9,758.3" fill="none" stroke="#1414e6" stroke-width="1.8"/>
<circle cx="1590.6" cy="696.8" r="1.8" fill="#1414e6"/>
<circle cx="1716.9" cy="684.3" r="1.8" fill="#1414e6"/>
<circle cx="1843.2" cy="962.9" r="1.8" fill="#1414e6"/>
<circle cx="1969.5" cy="758.3" r="1.8" fill="#1414e6"/>
<line x1="1592.0" y1="696.8" x2="1970.9" y2="696.8" stroke="#e63232" stroke-width="1.9"/>
</g>
<rect x="1576.8" y="605.7" width="409.3" height="455.8" fill="none" stroke="#262626" stroke-width="1.6"/>
<line x1="1592.0" y1="1061.5" x2="1592.0" y2="1069.8" stroke="#262626" stroke-width="1.6"/>
<text transform="translate(1595.2 1091.4) scale(1 1.04)" text-anchor="middle" class="xl">YG2C</text>
<line x1="1718.3" y1="1061.5" x2="1718.3" y2="1069.8" stroke="#262626" stroke-width="1.6"/>
<text transform="translate(1719.6 1091.4) scale(1 1.04)" text-anchor="middle" class="xl">YG2T</text>
<line x1="1844.6" y1="1061.5" x2="1844.6" y2="1069.8" stroke="#262626" stroke-width="1.6"/>
<text transform="translate(1846.1 1091.4) scale(1 1.04)" text-anchor="middle" class="xl">An04C</text>
<line x1="1970.9" y1="1061.5" x2="1970.9" y2="1069.8" stroke="#262626" stroke-width="1.6"/>
<text transform="translate(1970.9 1091.4) scale(1 1.04)" text-anchor="middle" class="xl">An04T</text>
<line x1="1569.3" y1="1061.3" x2="1576.8" y2="1061.3" stroke="#262626" stroke-width="1.6"/>
<text transform="translate(1562.6 1070.1) scale(0.875 1.0)" text-anchor="end" class="yt">−25</text>
<line x1="1569.3" y1="988.4" x2="1576.8" y2="988.4" stroke="#262626" stroke-width="1.6"/>
<text transform="translate(1562.6 997.2) scale(0.875 1.0)" text-anchor="end" class="yt">−20</text>
<line x1="1569.3" y1="915.5" x2="1576.8" y2="915.5" stroke="#262626" stroke-width="1.6"/>
<text transform="translate(1562.6 924.3) scale(0.875 1.0)" text-anchor="end" class="yt">−15</text>
<line x1="1569.3" y1="842.6" x2="1576.8" y2="842.6" stroke="#262626" stroke-width="1.6"/>
<text transform="translate(1562.6 851.4) scale(0.875 1.0)" text-anchor="end" class="yt">−10</text>
<line x1="1569.3" y1="769.7" x2="1576.8" y2="769.7" stroke="#262626" stroke-width="1.6"/>
<text transform="translate(1562.6 778.5) scale(0.875 1.0)" text-anchor="end" class="yt">−5</text>
<line x1="1569.3" y1="696.8" x2="1576.8" y2="696.8" stroke="#262626" stroke-width="1.6"/>
<text transform="translate(1562.6 705.6) scale(0.875 1.0)" text-anchor="end" class="yt">0</text>
<line x1="1569.3" y1="623.9" x2="1576.8" y2="623.9" stroke="#262626" stroke-width="1.6"/>
<text transform="translate(1562.6 632.7) scale(0.875 1.0)" text-anchor="end" class="yt">5</text>
<text transform="translate(1530.6 833.6) rotate(-90)" text-anchor="middle" class="yl" textLength="120.9" lengthAdjust="spacingAndGlyphs">log2(ratio)</text>
<text transform="translate(1639.4 586.1) scale(1 1)" class="tt" textLength="333.4" lengthAdjust="spacingAndGlyphs">Subcluster_8, 602 genes</text>
</svg></body></html>
